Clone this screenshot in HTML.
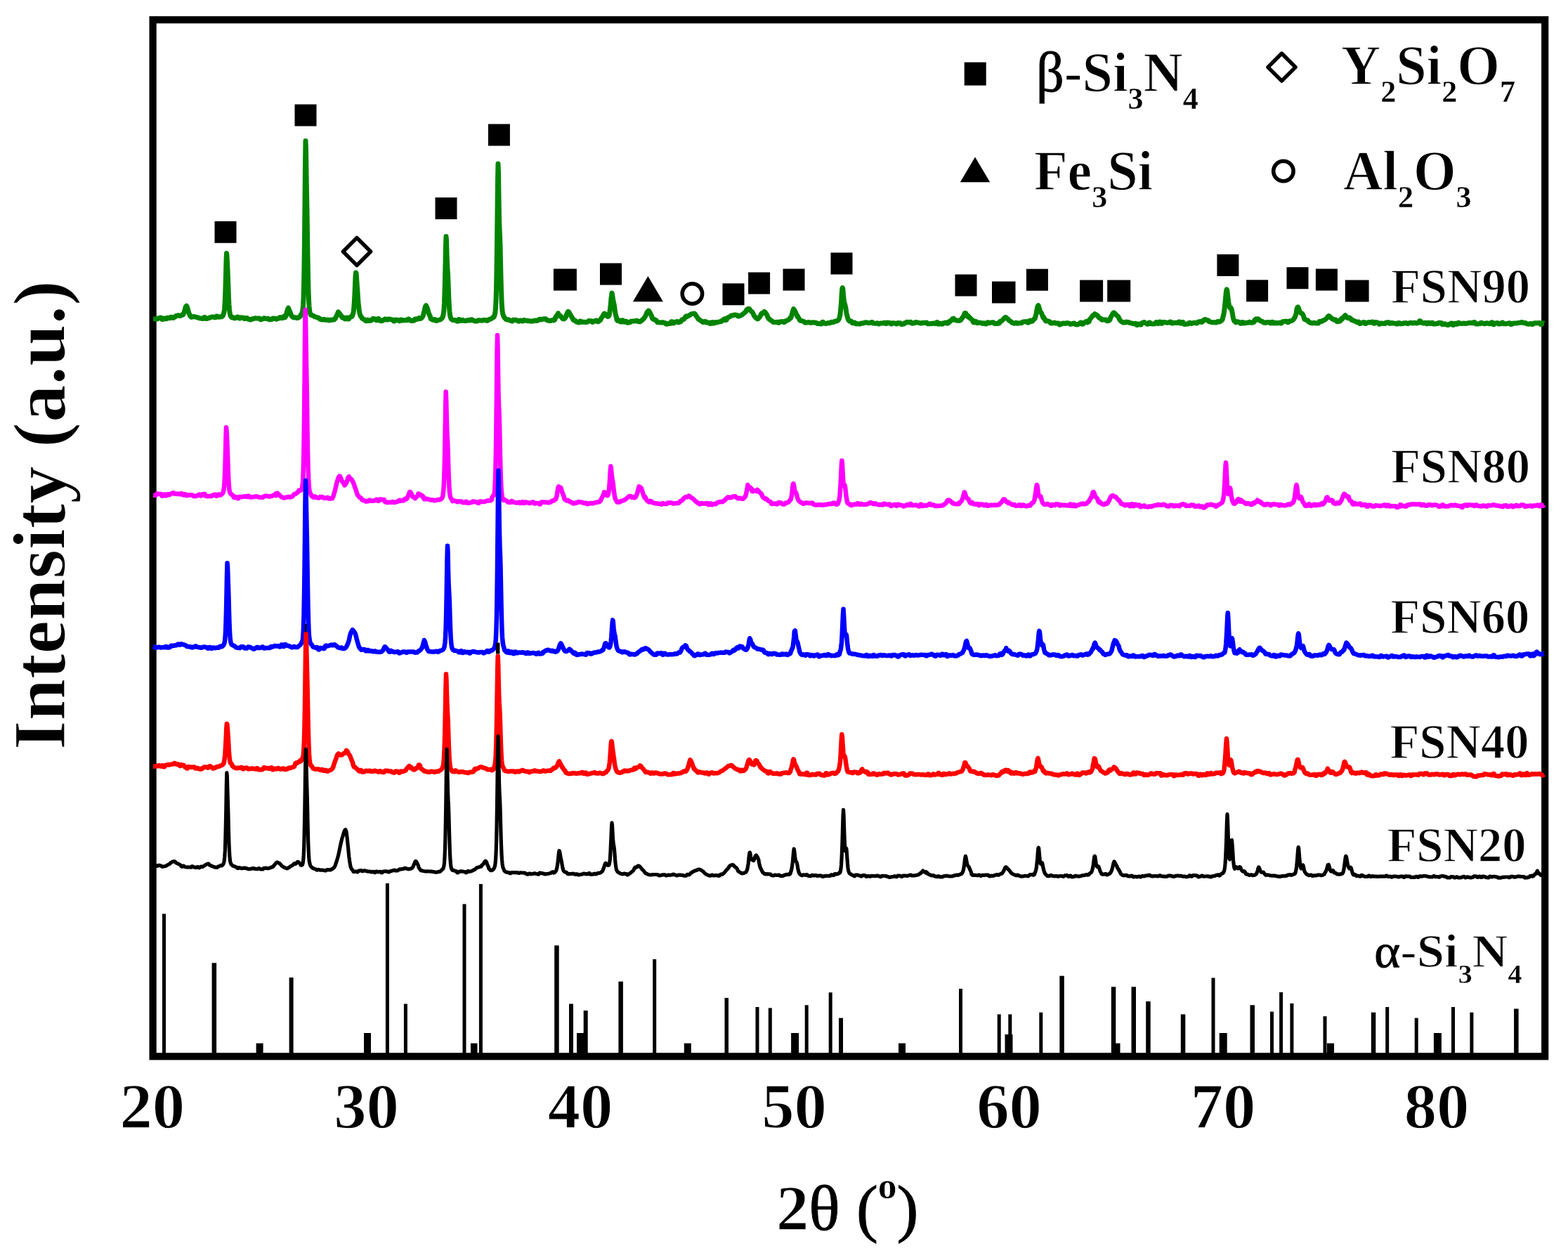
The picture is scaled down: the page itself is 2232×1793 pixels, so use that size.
<!DOCTYPE html>
<html lang="en"><head><meta charset="utf-8"><title>XRD patterns</title>
<style>
html,body{margin:0;padding:0;background:#fff;}
body{width:2232px;height:1793px;overflow:hidden;}
svg{display:block;}
text{font-family:"Liberation Serif","DejaVu Serif",serif;font-weight:bold;fill:#000;stroke:#fff;stroke-width:1.3px;paint-order:fill stroke;}
.rg{stroke:#000;stroke-width:0.9px;}
.c{fill:none;stroke-linejoin:round;stroke-linecap:butt;}
</style></head>
<body>
<svg width="2232" height="1793" viewBox="0 0 2232 1793">
<rect x="0" y="0" width="2232" height="1793" fill="#fff"/>
<rect x="217.6" y="28.2" width="1981.6" height="1475.1" fill="none" stroke="#000" stroke-width="10.2"/>
<g fill="#000">
<rect x="231.0" y="1300.4" width="5.0" height="199.6"/><rect x="301.6" y="1370.3" width="6.5" height="129.7"/><rect x="364.6" y="1484.6" width="10.0" height="15.4"/><rect x="411.6" y="1391.0" width="6.0" height="109.0"/><rect x="518.0" y="1470.0" width="10.0" height="30.0"/><rect x="548.9" y="1257.0" width="5.0" height="243.0"/><rect x="574.9" y="1428.5" width="5.0" height="71.5"/><rect x="658.5" y="1286.5" width="5.0" height="213.5"/><rect x="670.0" y="1484.6" width="9.5" height="15.4"/><rect x="681.9" y="1258.0" width="5.0" height="242.0"/><rect x="789.2" y="1345.4" width="6.5" height="154.6"/><rect x="810.0" y="1428.5" width="6.0" height="71.5"/><rect x="821.0" y="1470.0" width="10.0" height="30.0"/><rect x="830.7" y="1438.0" width="6.0" height="62.0"/><rect x="880.4" y="1396.7" width="6.5" height="103.3"/><rect x="929.2" y="1365.0" width="5.0" height="135.0"/><rect x="973.8" y="1484.6" width="10.0" height="15.4"/><rect x="1031.5" y="1420.0" width="5.5" height="80.0"/><rect x="1075.5" y="1433.0" width="5.0" height="67.0"/><rect x="1093.8" y="1434.4" width="5.0" height="65.6"/><rect x="1126.1" y="1470.0" width="11.0" height="30.0"/><rect x="1145.7" y="1430.3" width="5.0" height="69.7"/><rect x="1179.7" y="1412.3" width="5.0" height="87.7"/><rect x="1194.0" y="1448.6" width="6.0" height="51.4"/><rect x="1279.0" y="1484.6" width="10.0" height="15.4"/><rect x="1365.0" y="1407.0" width="5.0" height="93.0"/><rect x="1419.7" y="1443.4" width="5.0" height="56.6"/><rect x="1435.3" y="1443.4" width="5.0" height="56.6"/><rect x="1430.5" y="1472.0" width="11.0" height="28.0"/><rect x="1479.3" y="1440.7" width="5.0" height="59.3"/><rect x="1508.3" y="1388.7" width="6.5" height="111.3"/><rect x="1581.8" y="1404.3" width="6.5" height="95.7"/><rect x="1584.5" y="1484.6" width="10.0" height="15.4"/><rect x="1610.5" y="1404.3" width="6.5" height="95.7"/><rect x="1631.2" y="1425.0" width="6.5" height="75.0"/><rect x="1680.8" y="1443.4" width="6.5" height="56.6"/><rect x="1724.5" y="1391.5" width="5.0" height="108.5"/><rect x="1735.7" y="1470.0" width="11.0" height="30.0"/><rect x="1779.5" y="1430.3" width="6.5" height="69.7"/><rect x="1808.0" y="1439.6" width="5.0" height="60.4"/><rect x="1821.1" y="1412.0" width="5.0" height="88.0"/><rect x="1836.4" y="1427.8" width="5.0" height="72.2"/><rect x="1883.5" y="1446.2" width="5.0" height="53.8"/><rect x="1889.0" y="1484.6" width="10.0" height="15.4"/><rect x="1951.8" y="1440.7" width="6.5" height="59.3"/><rect x="1972.2" y="1433.0" width="5.0" height="67.0"/><rect x="2013.7" y="1448.6" width="5.0" height="51.4"/><rect x="2040.9" y="1470.0" width="11.0" height="30.0"/><rect x="2066.0" y="1433.0" width="5.0" height="67.0"/><rect x="2092.4" y="1440.7" width="5.0" height="59.3"/><rect x="2155.1" y="1435.5" width="6.5" height="64.5"/>
</g>
<path class="c" stroke="#008400" stroke-width="7.0" d="M218 453.8L219.2 453.8L220.5 454L221.8 454L223 454L224.2 454L225.5 452.8L226.8 452.7L228 452L229.2 451.9L230.5 454.4L231.8 454.4L233 453L234.2 453L235.5 453.8L236.8 453.8L238 452.2L239.2 452.2L240.5 452.8L241.8 452.7L243 451.3L244.2 451.3L245.5 452.4L246.8 452.3L248 451.2L249.2 451.1L250.5 449.4L251.8 449.2L253 448.9L254.2 448.7L255.5 449.6L256.8 449.3L257.5 449.1L258 448.7L258.5 448.5L259 448.2L259.5 447.8L260 447.3L260.5 448L261 447.2L261.5 446.2L262 444.9L262.5 443.5L263 441.4L263.5 439.5L264 437.6L264.5 435.9L265 435.7L265.5 435.3L266 436L266.5 437.2L267 438.8L267.5 440.6L268 442.5L268.5 444.1L269 445.5L269.5 446.7L270 447.7L270.5 449.5L271 450.1L271.5 450.6L272 451L272.5 451.3L273 450.5L274.2 451L275.5 450.3L276.8 450.6L278 451L279.2 451.2L280.5 451.7L281.8 451.8L283 452.6L284.2 452.7L285.5 453.1L286.8 453.2L288 453.4L289.2 453.4L290.5 451.5L291.8 451.5L293 453.5L294.2 453.5L295.5 452.9L296.8 452.9L298 452.1L299.2 452.1L300.5 451.2L301.8 451.1L303 451L304.2 450.9L305.5 451.8L306.8 451.7L308 450.1L309.2 450L310.5 451.3L311.8 451L313 451.1L314.2 450.7L315 450.3L315.5 450.7L316 450.4L316.5 450L317 449.5L317.5 448.9L318 447.3L318.5 446L319 443.9L319.5 440.1L320 433.8L320.5 422.7L321 408.8L321.5 390.9L322 371.1L322.5 360.5L323 363.4L323.5 374L324 384.5L324.5 396.8L325 411.2L325.5 424.6L326 433.9L326.5 440.3L327 444.4L327.5 447L328 449.2L328.5 450.2L329 450.9L329.5 451.4L330 451.8L330.5 451.1L331.8 451.7L333 452.6L334.2 452.9L335.5 452L336.8 452.2L338 450.9L339.2 451.1L340.5 452.9L341.8 453L343 451.8L344.2 451.9L345.5 452.1L346.8 452.2L348 453.6L349.2 453.6L350.5 452.5L351.8 452.6L353 454.3L354.2 454.3L355.5 454.9L356.8 455L358 454L359.2 454.1L360.5 453.4L361.8 453.4L363 452.8L364.2 452.9L365.5 452.9L366.8 452.9L368 453L369.2 453L370.5 454.8L371.8 454.8L373 453.9L374.2 453.9L375.5 452.8L376.8 452.8L378 453.5L379.2 453.5L380.5 453.4L381.8 453.3L383 454.8L384.2 454.7L385.5 454.6L386.8 454.6L388 453.1L389.2 453L390.5 453.4L391.8 453.3L393 454.2L394.2 454.1L395.5 453.3L396.8 453.2L398 451.8L399.2 451.6L400.5 452.8L401.8 452.5L402.5 452.3L403 450.9L403.5 450.7L404 450.5L404.5 450.2L405 449.8L405.5 451.9L406 451.3L406.5 450.6L407 449.7L407.5 448.6L408 445.2L408.5 443.7L409 442L409.5 440.3L410 438.9L410.5 438.3L411 440.3L411.5 440.9L412 441.8L412.5 442.9L413 444.3L413.5 445.7L414 447.2L414.5 448.5L415 449.6L415.5 449.6L416 450.3L416.5 450.9L417 451.3L417.5 451.7L418 451.7L418.5 451.8L419.2 452L420.5 451.7L421.8 451.7L423 452.6L424.2 452.3L425.5 451.5L426.8 450.8L427.5 450.2L428 448.4L428.5 447.8L429 447L429.5 446.1L430 444.8L430.5 443.4L431 440.2L431.5 434.7L432 424.8L432.5 407.8L433 379.8L433.5 341.1L434 290.6L434.5 234.7L435 200.5L435.5 213.7L436 246.7L436.5 274.6L437 299.2L437.5 331.7L438 365.2L438.5 393.3L439 413.4L439.5 426.9L440 435.5L440.5 440.9L441 443.9L441.5 445.9L442 447.1L442.5 448.1L443 447.7L444.2 449L445.5 449.1L446.8 449.7L448 450.7L449.2 451L450.5 451.4L451.8 451.6L453 452.5L454.2 452.6L455.5 454.3L456.8 454.3L458 455L459.2 455.1L460.5 454.5L461.8 454.5L463 455.3L464.2 455.3L465.5 455.1L466.8 455L468 455.9L469.2 455.8L470.5 455.2L471.8 455.1L473 455.2L473.5 455.1L474 454.9L474.5 454.8L475 454.5L475.5 454.9L476 454.5L476.5 454.1L477 453.6L477.5 453L478 451.4L478.5 450.6L479 449.8L479.5 448.8L480 447.9L480.5 446.2L481 445.5L481.5 443.8L482 444.9L482.5 445.1L483 445.7L483.5 446.3L484 447L484.5 447.9L485 448.7L485.5 449.4L486 450.2L486.5 450.9L487 451.5L487.5 452L488 451.3L488.5 451.7L489 451.9L489.5 452.1L490.5 453.7L491.8 453.9L493 452.2L494.2 452.1L495.5 454L496.8 453.8L498 451.4L498.5 451.2L499 451L499.5 450.7L500 450.4L500.5 450.7L501 450.1L501.5 449.4L502 448.2L502.5 446.4L503 444.8L503.5 440.7L504 435L504.5 427.4L505 417.8L505.5 404.6L506 393.7L506.5 388L507 388.4L507.5 394.2L508 402.4L508.5 408.4L509 415.4L509.5 423.6L510 431.3L510.5 434.9L511 439.7L511.5 443.3L512 445.8L512.5 447.6L513 449.3L513.5 450.1L514 450.7L514.5 451.1L515.5 453.1L516.8 453.7L518 454.6L519.2 454.9L520.5 456.6L521.8 456.8L523 455.2L524.2 455.4L525.5 456.5L526.8 456.6L528 455.6L529.2 455.7L530.5 453.4L531.8 453.5L533 454.1L534.2 454.1L535.5 455.7L536.8 455.7L538 453.4L539.2 453.5L540.5 456.3L541.8 456.4L543 456.7L544.2 456.7L545.5 455.3L546.8 455.3L548 453.9L549.2 453.9L550.5 455L551.8 455.1L553 454.1L554.2 454.1L555.5 454.6L556.8 454.6L558 455L559.2 455L560.5 457L561.8 457L563 455.1L564.2 455.1L565.5 455.6L566.8 455.6L568 456.8L569.2 456.8L570.5 455L571.8 455L573 456.1L574.2 456.1L575.5 455.7L576.8 455.7L578 455.8L579.2 455.8L580.5 454.2L581.8 454.1L583 455.5L584.2 455.4L585.5 456.6L586.8 456.5L588 456.4L589.2 456.3L590.5 454L591.8 453.9L593 454.5L594.2 454.2L595.5 452.8L596.8 452.5L598 453.6L598.5 453.4L599 453.2L599.5 452.9L600 452.5L600.5 452.1L601 451.5L601.5 450.7L602 449.7L602.5 448.4L603 446.3L603.5 444.6L604 442.6L604.5 440.4L605 438.1L605.5 436L606 435.5L606.5 434.8L607 435.6L607.5 436.7L608 437.7L608.5 439.3L609 441L609.5 442.9L610 444.7L610.5 446L611 447.4L611.5 448.6L612 449.5L612.5 450.3L613 453.4L613.5 453.8L614 454.2L615.5 455.1L616.8 455.4L618 454.4L619.2 454.5L620.5 456.4L621.8 456.5L623 455.6L624.2 455.4L625.5 455.2L626.8 454.7L627.5 454.4L628 453.7L628.5 453.4L629 452.9L629.5 452.4L630 451.6L630.5 449.8L631 448L631.5 445L632 439.8L632.5 431.2L633 416.3L633.5 397.9L634 374.6L634.5 349.5L635 336.5L635.5 342.6L636 359.8L636.5 374.2L637 383.1L637.5 389.8L638 403L638.5 416.5L639 428.3L639.5 437.2L640 443.6L640.5 447.9L641 450.6L641.5 452.3L642 453.3L642.5 454.1L643 454.5L644.2 455.4L645.5 455.3L646.8 455.7L648 455.6L649.2 455.9L650.5 457.1L651.8 457.3L653 454.5L654.2 454.7L655.5 456.3L656.8 456.4L658 455.3L659.2 455.4L660.5 456.4L661.8 456.5L663 456.4L664.2 456.4L665.5 455.6L666.8 455.6L668 456L669.2 456L670.5 454.7L671.8 454.7L673 456L674.2 456L675.5 457L676.8 457L678 457L679.2 457L680.5 455.8L681.8 455.8L683 456L684.2 455.9L685.5 456.2L686.8 456.1L688 455.5L689.2 455.4L690.5 455.7L691.8 455.6L693 456.4L694.2 456.2L695.5 454.7L696.8 454.4L698 454.2L699.2 453.6L700.5 452.7L701 452.3L701.5 451.8L702 451.3L702.5 450.6L703 451.2L703.5 450.2L704 448.8L704.5 446.7L705 443.2L705.5 438.1L706 427.7L706.5 410.8L707 385.3L707.5 350.3L708 304.4L708.5 258.1L709 233L709.5 246.3L710 279.3L710.5 308.2L711 325.6L711.5 335.5L712 349.6L712.5 372.2L713 394.4L713.5 412.8L714 426.5L714.5 436.1L715 442.3L715.5 445.3L716 447.6L716.5 449.1L717 450.1L718 452L719.2 453.1L720.5 454.6L721.8 455.1L723 454.7L724.2 455L725.5 455.9L726.8 456.1L728 456.9L729.2 457.1L730.5 455.3L731.8 455.4L733 455.3L734.2 455.3L735.5 455.9L736.8 456L738 457.1L739.2 457.2L740.5 456.1L741.8 456.1L743 457L744.2 457L745.5 455.6L746.8 455.6L748 456.2L749.2 456.2L750.5 456.6L751.8 456.5L753 456.7L754.2 456.7L755.5 457.2L756.8 457.1L758 457L759.2 456.8L760.5 456.2L761.8 456.1L763 456.6L764.2 456.5L765.5 455.6L766.8 455.5L768 454.3L769.2 454.2L770.5 454.8L771.8 454.7L773 453.9L774.2 453.8L775.5 453.8L776.8 453.7L778 455.4L779.2 455.4L780.5 456.3L781.8 456.2L783 456.5L784.2 456.4L785.5 455.8L786.5 455.6L787 455.5L787.5 455.4L788 456L788.5 455.7L789 455.5L789.5 455.1L790 454.7L790.5 452.1L791 451.5L791.5 450.7L792 449.8L792.5 448.9L793 450L793.5 448.9L794 448L794.5 445.7L795 447.5L795.5 447.6L796 448.1L796.5 448.7L797 449.3L797.5 449.9L798 449.6L798.5 450.4L799 451.1L799.5 451.8L800 452.4L800.5 453.2L801 453.5L801.5 453.8L802 453.9L802.5 453.9L803 453.7L803.8 453.2L804.2 452.8L804.8 452.1L805.3 451.3L805.8 449.4L806.3 448.4L806.8 447.3L807.3 445.9L807.8 444.7L808.3 444.2L808.8 443.3L809.2 443.7L809.8 444.1L810.3 444.8L810.8 446L811.3 446.8L811.8 447.6L812.3 448.7L812.8 449.8L813.3 449.9L813.8 450.9L814.2 451.8L814.8 452.6L815.3 453.3L815.8 455L816.3 455.4L816.8 455.8L818 455.9L819.2 456.3L820.5 458L821.8 458.2L823 458.9L824.2 459.1L825.5 457L826.8 457.2L828 458.3L829.2 458.4L830.5 458.2L831.8 458.3L833 458.4L834.2 458.5L835.5 457.9L836.8 457.9L838 456.6L839.2 456.6L840.5 456.9L841.8 456.8L843 458.4L844.2 458.3L845.5 457L846.8 456.8L848 456.2L849.2 456L850.5 457.8L851.8 457.5L852.5 457.3L853 456.3L853.5 456.1L854 455.9L854.5 455.6L855 455.2L855.5 453.3L856 452.7L856.5 452.1L857 451.3L857.5 450.4L858 450.1L858.5 449L859 447.9L859.5 446.9L860 447L860.5 446.2L861 446.4L861.5 446.8L862 447.2L862.5 447.6L863 448.7L863.5 449.2L864 449.7L864.5 450.1L865 450.5L865.5 450.5L866 450.3L866.5 449.7L867 448.6L867.5 446.9L868 443.5L868.5 440L869 435.6L869.5 430.3L870 424.4L870.5 420.3L871 417L871.5 418.5L872 422L872.5 425.9L873 428.2L873.5 430.6L874 432.8L874.5 435.5L875 438.9L875.5 442.8L876 445.8L876.5 448.4L877 450.4L877.5 452L878 454.9L878.5 455.7L879 456.4L880.5 455.4L881.8 456L883 457.9L884.2 458.2L885.5 455.8L886.8 456L888 458.1L889.2 458.2L890.5 457.2L891.8 457.2L893 459.3L894.2 459.3L895.5 458.8L896.8 458.8L898 457.3L899.2 457.2L900.5 457.1L901.8 457.1L903 456.9L904.2 456.8L905.5 456.4L906.8 456.3L908 457.6L909.2 457.4L910.5 457.8L911.8 457.5L913 456L913.8 455.7L914.2 455.4L914.8 455L915.3 454.6L915.8 454L916.3 453.4L916.8 452.8L917.3 452L917.8 451.2L918.3 450.8L918.8 449.8L919.2 448.8L919.8 447.5L920.3 446.4L920.8 444.8L921.3 444L921.8 443.3L922.3 443.3L922.8 443.5L923.3 442.2L923.8 442.8L924.2 443.4L924.8 444.2L925.3 445.1L925.8 446.3L926.3 447.3L926.8 448.2L927.3 449.3L927.8 450.2L928.3 452.5L928.8 453.2L929.2 453.8L929.8 454.4L930.5 454L931.8 454.9L933 455.4L934.2 455.8L935.5 458.5L936.8 458.8L938 458.7L939.2 458.9L940.5 458.9L941.8 459.1L943 458.7L944.2 458.8L945.5 459.5L946.8 459.6L948 461.1L949.2 461.2L950.5 460.4L951.8 460.4L953 460.3L954.2 460.4L955.5 457.7L956.8 457.7L958 460L959.2 459.9L960.5 458.2L961.8 458.2L963 457.7L964.2 457.5L965.5 458.9L966.8 458.6L968 458L969.2 457.5L970.5 455.1L971.8 454.5L973 454.5L974.2 453.7L975.5 450.9L976.8 449.9L978 450.6L979.2 449.6L980.5 449.3L981.8 448.5L983 447.5L984.2 446.8L985.5 446.7L986.8 446.4L988 446L989.2 446.6L990.5 448.5L991.8 450.8L993 452.2L994.2 454.4L995.5 454.7L996.8 455.8L998 456.8L999.2 457.2L1000.5 458.5L1001.8 458.5L1003 457.4L1004.2 457.4L1005.5 458.9L1006.8 458.9L1008 459L1009.2 458.9L1010.5 460.6L1011.8 460.6L1013 458.7L1014.2 458.6L1015.5 460.1L1016.8 460L1018 458.6L1019.2 458.4L1020.5 458.9L1021.8 458.7L1023 458.1L1024.2 457.8L1025.5 457.8L1026.8 457.4L1028 456L1029.2 455.5L1030.5 454.3L1031.8 453.7L1033 455.7L1034.2 455.1L1035.5 452.2L1036.8 451.6L1038 451.1L1039.2 450.6L1040.5 449.3L1041.8 448.9L1043 448.7L1044.2 448.5L1045.5 448.1L1046.8 448.1L1048 448.3L1049.2 448.4L1050.5 449.9L1051.8 449.9L1053 449.5L1054.2 449.2L1055.5 448.3L1056.8 447.6L1058 446.6L1059.2 445.4L1060.5 444.6L1061.8 443.3L1063 440.4L1064.2 439.7L1065.5 439.4L1066.8 439.7L1068 441.6L1069.2 442.8L1070.5 443.7L1071.8 445.5L1073 448.6L1074.2 450.2L1075.5 451.9L1076.8 452.9L1078 453.9L1079.2 453.8L1080.5 452L1081.8 450.6L1083 447.8L1084.2 445.8L1085.5 446.1L1086.8 444.9L1088 443.5L1089.2 444.4L1090.5 446.1L1091.8 448.3L1093 451.4L1094.2 453.8L1095.5 454.1L1096.8 455.6L1098 456.2L1099.2 456.9L1100.5 458.3L1101.8 458.5L1103 458.5L1104.2 458.6L1105.5 458.3L1106.8 458.2L1108 459.4L1109.2 459.3L1110.5 457.8L1111.8 457.7L1113 457.7L1114.2 457.6L1115.5 458.7L1116.8 458.5L1118 457L1119.2 456.7L1120.5 456L1121.6 455.5L1122.1 455.2L1122.6 454.9L1123 454.8L1123.6 454.1L1124.1 453.5L1124.6 452.7L1125.1 451.8L1125.5 452.8L1126.1 451.3L1126.6 449.9L1127.1 448.3L1127.6 446.6L1128 444.6L1128.6 442.5L1129.1 441.1L1129.6 439.5L1130.1 440.3L1130.5 440.8L1131.1 441.8L1131.6 442.8L1132.1 443.8L1132.6 444.7L1133 445.7L1133.6 446.9L1134.1 448.1L1134.6 449.4L1135.1 450.7L1135.5 449.9L1136.1 451.2L1136.6 452.2L1137.1 453L1137.6 453.7L1138 455L1139.2 456.2L1140.5 456.3L1141.8 456.8L1143 457.2L1144.2 457.5L1145.5 459L1146.8 459.2L1148 458.9L1149.2 459L1150.5 458.5L1151.8 458.6L1153 459.2L1154.2 459.3L1155.5 459L1156.8 459.1L1158 458.8L1159.2 458.9L1160.5 459.2L1161.8 459.2L1163 460.5L1164.2 460.5L1165.5 460.6L1166.8 460.7L1168 460.9L1169.2 460.9L1170.5 458.2L1171.8 458.2L1173 460.3L1174.2 460.3L1175.5 460.4L1176.8 460.3L1178 459.7L1179.2 459.6L1180.5 459.7L1181.8 459.5L1183 458.5L1184.2 458.3L1185.5 458.7L1186.8 458.5L1188 457.4L1189.2 457.1L1190.5 457.1L1191.2 456.9L1191.7 456.6L1192.2 456.3L1192.7 456L1193.2 455.4L1193.7 454.8L1194.2 454L1194.7 452.7L1195.2 450.9L1195.7 448.7L1196.2 445.1L1196.7 440.4L1197.2 434.5L1197.7 427.5L1198.2 418.6L1198.7 411.7L1199.2 409.5L1199.7 410.4L1200.2 415.9L1200.7 421.9L1201.2 426.8L1201.7 430.2L1202.2 432.2L1202.7 433L1203.2 435.3L1203.7 437.2L1204.2 440.3L1204.7 443.9L1205.2 447.2L1205.7 448.6L1206.2 450.9L1206.7 452.7L1207.2 454L1208 455.8L1209.2 457L1210.5 456.7L1211.8 457.1L1213 459.5L1214.2 459.8L1215.5 459L1216.8 459.1L1218 460.8L1219.2 460.9L1220.5 460.7L1221.8 460.8L1223 460.9L1224.2 461L1225.5 460.1L1226.8 460.1L1228 459.9L1229.2 459.9L1230.5 458.9L1231.8 459L1233 458.8L1234.2 458.9L1235.5 459.6L1236.8 459.6L1238 459.3L1239.2 459.3L1240.5 458.5L1241.8 458.5L1243 460.1L1244.2 460.1L1245.5 460.2L1246.8 460.2L1248 459.8L1249.2 459.8L1250.5 461L1251.8 461L1253 460.1L1254.2 460.1L1255.5 460.1L1256.8 460.1L1258 459.3L1259.2 459.3L1260.5 460.5L1261.8 460.5L1263 459.1L1264.2 459.1L1265.5 459.4L1266.8 459.4L1268 461.1L1269.2 461.1L1270.5 459.7L1271.8 459.7L1273 459.9L1274.2 459.9L1275.5 460.9L1276.8 460.9L1278 459.6L1279.2 459.6L1280.5 459.7L1281.8 459.7L1283 461.6L1284.2 461.6L1285.5 461L1286.8 461L1288 459.5L1289.2 459.5L1290.5 458.3L1291.8 458.3L1293 458.7L1294.2 458.7L1295.5 458.3L1296.8 458.3L1298 460.2L1299.2 460.2L1300.5 459.8L1301.8 459.8L1303 458.5L1304.2 458.5L1305.5 459L1306.8 459L1308 459.4L1309.2 459.4L1310.5 460.1L1311.8 460.1L1313 459.3L1314.2 459.3L1315.5 459.4L1316.8 459.4L1318 459.1L1319.2 459.1L1320.5 460.8L1321.8 460.8L1323 460.8L1324.2 460.8L1325.5 460.5L1326.8 460.5L1328 460L1329.2 460L1330.5 460.5L1331.8 460.5L1333 458.7L1334.2 458.6L1335.5 461.2L1336.8 461.1L1338 460.3L1339.2 460.2L1340.5 461.2L1341.8 461.1L1343 459.7L1344.2 459.6L1345.5 459.2L1346.8 459L1348 460.2L1348.6 460.1L1349.1 460L1349.6 459.8L1350.1 459.7L1350.5 457.7L1351.1 457.5L1351.6 457.2L1352.1 457L1352.6 456.6L1353 457L1353.6 456.5L1354.1 456.1L1354.6 455.6L1355.1 455.1L1355.5 454L1356.1 453.5L1356.6 453.9L1357.1 453.2L1357.6 453.3L1358 454.9L1358.6 455.1L1359.1 455.3L1359.6 455.5L1360.1 455.6L1360.5 455.6L1361.1 455.8L1361.6 455.9L1362.1 456.1L1362.6 456.3L1363 456L1363.6 456.2L1364.1 456.3L1364.6 456.4L1365.5 456.3L1366.2 456.1L1366.7 455.9L1367.2 455.7L1367.7 455.3L1368.2 454.3L1368.7 453.8L1369.2 453.1L1369.7 452.4L1370.2 451.5L1370.7 451.5L1371.2 450.5L1371.7 449.4L1372.2 448.3L1372.7 447.3L1373.2 445.8L1373.7 445.5L1374.2 445.4L1374.7 445.8L1375.2 446.3L1375.7 448.3L1376.2 449L1376.7 449.6L1377.2 450.1L1377.7 450.7L1378.2 449.5L1378.7 450.1L1379.2 450.9L1379.7 451.7L1380.2 452.5L1380.7 452.1L1381.2 452.8L1381.7 453.4L1383 454.5L1384.2 455.4L1385.5 458.6L1386.8 459L1388 457.2L1389.2 457.4L1390.5 459.5L1391.8 459.7L1393 459L1394.2 459.1L1395.5 459.3L1396.8 459.4L1398 460.3L1399.2 460.4L1400.5 459.8L1401.8 459.9L1403 461L1404.2 461L1405.5 458.8L1406.8 458.8L1408 459.6L1409.2 459.6L1410.5 459.1L1411.8 459.1L1413 458.8L1414.2 458.7L1415.5 460.5L1416.8 460.4L1418 460.4L1419.2 460.3L1420.5 460.4L1421.8 460.2L1422.5 460L1423 457.7L1423.5 457.5L1424 457.3L1424.5 457L1425 456.7L1425.5 457L1426 456.6L1426.5 456.1L1427 455.6L1427.5 455.1L1428 454.5L1428.5 453.9L1429 453.3L1429.5 452.8L1430 452.4L1430.5 452L1431 451.4L1431.5 451.5L1432 451.8L1432.5 452.2L1433 452.8L1433.5 453.2L1434 453.5L1434.5 453.8L1435 454.1L1435.5 455.1L1436 455.5L1436.5 456L1437 456.4L1437.5 456.8L1438 456.9L1438.5 457.2L1439.2 457.7L1440.5 459.2L1441.8 459.6L1443 460.1L1444.2 460.3L1445.5 459.3L1446.8 459.3L1448 460.3L1449.2 460.3L1450.5 459.8L1451.8 459.8L1453 459.7L1454.2 459.7L1455.5 458.2L1456.8 458.1L1458 457.8L1459.2 457.7L1460.5 457.7L1461.8 457.6L1463 459.2L1464.2 459L1465.5 456.3L1466.8 456L1468 457.6L1469.2 457.1L1469.6 457L1470.1 456.7L1470.5 455.7L1471.1 455.2L1471.6 454.6L1472.1 453.9L1472.6 453.1L1473 453.6L1473.6 452L1474.1 450.4L1474.6 448.5L1475.1 446.3L1475.5 443.4L1476.1 440.3L1476.6 437.8L1477.1 435.8L1477.6 435L1478 434.6L1478.6 436.1L1479.1 437.9L1479.6 439.8L1480.1 441.4L1480.5 442.6L1481.1 443.8L1481.6 444.5L1482.1 445.1L1482.6 445.8L1483 447L1483.6 448.5L1484.1 449.8L1484.6 451.2L1485.1 452.4L1485.5 451L1486.8 453.2L1488 456.2L1489.2 457L1490.5 456.5L1491.8 456.8L1493 457.4L1494.2 457.6L1495.5 459.9L1496.8 460.1L1498 459.7L1499.2 459.8L1500.5 459.1L1501.8 459.2L1503 460L1504.2 460.1L1505.5 460L1506.8 460.1L1508 462L1509.2 462.1L1510.5 460.7L1511.8 460.7L1513 460L1514.2 460L1515.5 460.3L1516.8 460.4L1518 459.7L1519.2 459.6L1520.5 459.9L1521.8 459.9L1523 461.3L1524.2 461.2L1525.5 460.7L1526.8 460.7L1528 460L1529.2 460L1530.5 461.6L1531.8 461.5L1533 462L1534.2 461.9L1535.5 460.8L1536.8 460.7L1538 459L1539.2 458.9L1540.5 461.3L1541.8 461.1L1543 459.1L1544.2 458.9L1545.5 457.6L1546.8 457.3L1548 458.8L1549.2 458.2L1549.9 457.9L1550.4 457.5L1550.9 454.7L1551.4 454.3L1551.8 453.9L1552.4 453.3L1552.9 452.7L1553.4 452L1553.9 451.3L1554.2 450.8L1554.9 449.9L1555.4 449.1L1555.9 449.1L1556.4 448.4L1556.8 448.1L1557.4 448.5L1557.9 447.6L1558.4 446.7L1558.9 446.9L1559.2 447.2L1559.9 447.7L1560.4 448.1L1560.9 448L1561.4 448.4L1561.8 448.6L1562.4 449.1L1562.9 449.5L1563.4 450.9L1563.9 451.4L1564.2 451.8L1564.9 452.4L1565.4 452.9L1566.8 453L1568 454.7L1569.2 455.2L1570.5 454.8L1571.8 454.9L1573 455.1L1574.2 455L1575.5 456.7L1576.8 456.3L1577.2 456.2L1577.7 455.9L1578.2 456.6L1578.7 456.3L1579.2 455.8L1579.7 455.3L1580.2 454.7L1580.7 452L1581.2 451.3L1581.7 450.4L1582.2 449.5L1582.7 448.6L1583.2 447.9L1583.7 446.9L1584.2 446L1584.7 445.3L1585.2 445.5L1585.7 444.9L1586.2 445.2L1586.7 445.8L1587.2 446.4L1587.7 447.1L1588.2 447.3L1588.7 447.9L1589.2 448.4L1589.7 448.8L1590.2 449.3L1590.7 449.5L1591.2 450.1L1591.7 450.8L1592.2 451.5L1592.7 452.2L1593.2 454L1594.2 455.2L1595.5 457L1596.8 457.8L1598 458.7L1599.2 459.1L1600.5 458.8L1601.8 459.1L1603 458.1L1604.2 458.3L1605.5 458.5L1606.8 458.6L1608 459.6L1609.2 459.6L1610.5 459.9L1611.8 460L1613 460.7L1614.2 460.8L1615.5 460.3L1616.8 460.3L1618 462.5L1619.2 462.6L1620.5 461L1621.8 461.1L1623 462L1624.2 462L1625.5 459.6L1626.8 459.6L1628 458.6L1629.2 458.6L1630.5 459.9L1631.8 459.9L1633 461.3L1634.2 461.3L1635.5 459L1636.8 459L1638 460.7L1639.2 460.7L1640.5 460.9L1641.8 460.9L1643 460.7L1644.2 460.7L1645.5 458.5L1646.8 458.5L1648 460.4L1649.2 460.4L1650.5 458L1651.8 458L1653 460.3L1654.2 460.3L1655.5 458.4L1656.8 458.4L1658 458.8L1659.2 458.8L1660.5 459.2L1661.8 459.2L1663 459.1L1664.2 459.1L1665.5 457.9L1666.8 457.9L1668 460L1669.2 460L1670.5 459.4L1671.8 459.4L1673 459.3L1674.2 459.3L1675.5 459.5L1676.8 459.5L1678 457.9L1679.2 457.9L1680.5 460.3L1681.8 460.3L1683 458.6L1684.2 458.6L1685.5 461.4L1686.8 461.4L1688 461.3L1689.2 461.3L1690.5 460.8L1691.8 460.8L1693 459.3L1694.2 459.3L1695.5 460.4L1696.8 460.3L1698 459.5L1699.2 459.5L1700.5 459.3L1701.8 459.2L1703 460L1704.2 459.9L1705.5 457.9L1706.8 457.8L1707.5 457.7L1708 457.9L1708.5 457.8L1709 457.7L1709.5 457.5L1710 457.3L1710.5 458.5L1711 458.2L1711.5 457.9L1712 457.5L1712.5 457.1L1713 455.8L1713.5 455.4L1714 455L1714.5 454.7L1715 455L1715.5 454.5L1716 454.6L1716.5 454.9L1717 455.2L1717.5 455.4L1718 455.4L1718.5 455.6L1719 455.7L1719.5 455.8L1720 455.9L1720.5 457.4L1721 457.5L1721.5 457.6L1722 457.8L1722.5 458L1723 458.1L1724.2 458.5L1725.5 458.7L1726.8 458.8L1728 458.7L1729.2 458.7L1730.5 459L1731.8 458.9L1733 457.7L1734.2 457.4L1735.5 458L1736.8 457.6L1738 456.7L1738.7 456.2L1739.2 455.7L1739.7 455.1L1740.2 454.2L1740.7 451.7L1741.2 450.2L1741.7 448.2L1742.2 445.6L1742.7 442.3L1743.2 438L1743.7 433.4L1744.2 428.2L1744.7 422.6L1745.2 417L1745.7 413.4L1746.2 411.8L1746.7 412.8L1747.2 416.6L1747.7 421.4L1748.2 425.5L1748.7 429.5L1749.2 432.7L1749.7 434.9L1750.2 436.2L1750.7 438.2L1751.2 438.1L1751.7 437.8L1752.2 438.1L1752.7 439.4L1753.2 440.3L1753.7 442.8L1754.2 445.3L1755.5 453.3L1756.8 456.6L1758 457.9L1759.2 458.9L1760.5 457.6L1761.8 457.9L1763 458.3L1764.2 458.5L1765.5 460.2L1766.8 460.3L1768 458.5L1769.2 458.6L1770.5 460.1L1771.8 460.1L1773 459.3L1774.2 459.3L1775.5 459.2L1776.8 459.2L1778 458.3L1779.2 458.3L1780.5 459.3L1781.8 459.2L1782.3 459.1L1782.8 459L1783.3 458.9L1783.8 458.8L1784.2 458.6L1784.8 458.4L1785.3 458.1L1785.8 455.6L1786.3 455.3L1786.8 454.9L1787.3 454.4L1787.8 453.9L1788.3 455.4L1788.8 454.8L1789.2 454.4L1789.8 453.9L1790.3 453.7L1790.8 453.7L1791.3 454L1791.8 454.4L1792.3 454.8L1792.8 455.2L1793.3 456.1L1793.8 456.4L1794.2 456.6L1794.8 456.8L1795.3 456.9L1795.8 457.3L1796.3 457.4L1796.8 457.5L1797.3 457.8L1797.8 458.1L1798.3 458.7L1799.2 459.2L1800.5 459L1801.8 459.4L1803 458.6L1804.2 458.8L1805.5 458.6L1806.8 458.7L1808 459.9L1809.2 459.9L1810.5 458.3L1811.8 458.3L1813 460.1L1814.2 460.1L1815.5 459.2L1816.8 459.2L1818 460L1819.2 460L1820.5 459.3L1821.8 459.2L1823 460.1L1824.2 460L1825.5 457.8L1826.8 457.7L1828 457.4L1829.2 457.3L1830.5 457.3L1831.8 457.2L1833 458.7L1834.2 458.5L1835.5 457L1836.8 456.7L1838 456.7L1839.2 456.2L1839.8 455.8L1840.3 455.5L1840.8 455L1841.3 454.4L1841.8 453.8L1842.3 452.8L1842.8 451.8L1843.3 451.8L1843.8 450.4L1844.2 448.9L1844.8 446.9L1845.3 445L1845.8 440.7L1846.3 438.8L1846.8 437.5L1847.3 438.1L1847.8 437L1848.3 438.2L1848.8 439.7L1849.2 441.1L1849.8 442.8L1850.3 444L1850.8 444.2L1851.3 445L1851.8 445.4L1852.3 445.8L1852.8 446L1853.3 446L1853.8 446.4L1854.2 447L1854.8 448L1855.3 449L1856.8 454.2L1858 454.4L1859.2 455.5L1860.5 455.7L1861.8 456.1L1863 458.3L1864.2 458.5L1865.5 459.5L1866.8 459.6L1868 459.9L1869.2 459.9L1870.5 459.3L1871.8 459.4L1873 460L1874.2 460L1875.5 460L1876.8 460L1878 457.5L1879.2 457.4L1880.5 457.5L1881.8 457.3L1883 456.2L1883.8 455.9L1884.2 455.8L1884.8 455.5L1885.3 455.2L1885.8 455.1L1886.3 454.8L1886.8 454.4L1887.3 453.9L1887.8 453.4L1888.3 453L1888.8 452.4L1889.2 451.9L1889.8 451.2L1890.3 450.6L1890.8 449.9L1891.3 451.3L1891.8 449.7L1892.3 449.9L1892.8 450.2L1893.3 451.2L1893.8 451.6L1894.2 451.9L1894.8 452.3L1895.3 452.5L1895.8 453.6L1896.3 453.7L1896.8 453.9L1897.3 454L1897.8 454.2L1898.3 454.7L1898.8 455L1899.2 455.2L1900.5 454.7L1901.8 455.2L1903 457.6L1904.2 457.8L1905.5 457.3L1906.8 457.1L1907.4 456.9L1907.9 456.7L1908.4 454.4L1908.9 454.1L1909.2 453.8L1909.9 453.3L1910.4 452.8L1910.9 453.8L1911.4 453.1L1911.8 452.6L1912.4 451.7L1912.9 450.9L1913.4 450.4L1913.9 449.7L1914.2 449.3L1914.9 448.7L1915.4 449.1L1915.9 450L1916.4 450.6L1916.8 451L1917.4 451.8L1917.9 452.3L1918.4 451.7L1918.9 452.1L1919.2 452.3L1919.9 452.7L1920.4 452.9L1920.9 452.1L1921.4 452.4L1921.8 452.6L1922.4 453.1L1922.9 453.5L1924.2 455.6L1925.5 455.5L1926.8 456.3L1928 456.8L1929.2 457.1L1930.5 458.3L1931.8 458.5L1933 457.9L1934.2 458L1935.5 460.6L1936.8 460.6L1938 459.4L1939.2 459.5L1940.5 458.4L1941.8 458.4L1943 460.6L1944.2 460.6L1945.5 459.3L1946.8 459.3L1948 458.6L1949.2 458.6L1950.5 459L1951.8 459L1953 458L1954.2 458L1955.5 460.2L1956.8 460.2L1958 458.5L1959.2 458.5L1960.5 459.2L1961.8 459.2L1963 461.2L1964.2 461.2L1965.5 460L1966.8 460L1968 460.3L1969.2 460.3L1970.5 460.5L1971.8 460.5L1973 459L1974.2 459L1975.5 458.7L1976.8 458.7L1978 460.3L1979.2 460.3L1980.5 459.6L1981.8 459.6L1983 460.1L1984.2 460.1L1985.5 460.2L1986.8 460.2L1988 461.1L1989.2 461.1L1990.5 459.4L1991.8 459.4L1993 460.8L1994.2 460.8L1995.5 460.6L1996.8 460.6L1998 459.7L1999.2 459.7L2000.5 459.6L2001.8 459.6L2003 460.6L2004.2 460.6L2005.5 459.7L2006.8 459.7L2008 459.3L2009.2 459.3L2010.5 460L2011.8 460L2013 459.3L2014.2 459.3L2015.5 459.9L2016.8 459.9L2018 459.5L2019.2 459.5L2020.5 456.8L2021.8 456.8L2023 459L2024.2 459L2025.5 459.9L2026.8 459.9L2028 459.2L2029.2 459.2L2030.5 460.8L2031.8 460.8L2033 459.2L2034.2 459.2L2035.5 460.6L2036.8 460.6L2038 459.3L2039.2 459.3L2040.5 461.1L2041.8 461.1L2043 460.8L2044.2 460.8L2045.5 460.5L2046.8 460.5L2048 459.3L2049.2 459.3L2050.5 459.5L2051.8 459.5L2053 461.7L2054.2 461.7L2055.5 460.7L2056.8 460.7L2058 461.7L2059.2 461.7L2060.5 462.5L2061.8 462.5L2063 461.3L2064.2 461.3L2065.5 459.9L2066.8 459.9L2068 462.5L2069.2 462.5L2070.5 460.3L2071.8 460.3L2073 461.3L2074.2 461.3L2075.5 459.2L2076.8 459.2L2078 460.2L2079.2 460.2L2080.5 460.4L2081.8 460.4L2083 460L2084.2 459.9L2085.5 460.4L2086.8 460.4L2088 460L2089.2 460L2090.5 459.5L2091.8 459.5L2093 459.4L2094.2 459.4L2095.5 459.8L2096.8 459.8L2098 458.6L2099.2 458.6L2100.5 460.9L2101.8 460.9L2103 461.1L2104.2 461.1L2105.5 460.6L2106.8 460.6L2108 459.2L2109.2 459.2L2110.5 460.2L2111.8 460.2L2113 460.8L2114.2 460.8L2115.5 459.8L2116.8 459.8L2118 460.3L2119.2 460.3L2120.5 460.8L2121.8 460.8L2123 458.8L2124.2 458.8L2125.5 461.7L2126.8 461.7L2128 460L2129.2 460L2130.5 459.6L2131.8 459.6L2133 461L2134.2 461L2135.5 460.8L2136.8 460.8L2138 459.1L2139.2 459.1L2140.5 460.7L2141.8 460.7L2143 460.7L2144.2 460.7L2145.5 460.3L2146.8 460.3L2148 459.8L2149.2 459.8L2150.5 461.5L2151.8 461.5L2153 460.3L2154.2 460.3L2155.5 459.9L2156.8 459.9L2158 460L2159.2 460L2160.5 459.4L2161.8 459.4L2163 459.2L2164.2 459.2L2165.5 458.5L2166.8 458.5L2168 459.4L2169.2 459.4L2170.5 459.5L2171.8 459.5L2173 460.7L2174.2 460.7L2175.5 461.3L2176.8 461.3L2178 460.6L2179.2 460.6L2180.5 461.6L2181.8 461.6L2183 460.1L2184.2 460.1L2185.5 459.7L2186.8 459.7L2188 459.8L2189.2 459.8L2190.5 459.4L2191.8 459.4L2193 461.7L2194.2 461.7L2195.5 459.8L2196.8 459.8L2198 460.4"/>
<path class="c" stroke="#ff00ff" stroke-width="6.5" d="M218 704.9L219.2 705L220.5 704.8L221.8 704.8L223 702.5L224.2 702.5L225.5 702.9L226.8 702.9L228 702.9L229.2 702.9L230.5 705.7L231.8 705.7L233 703.7L234.2 703.6L235.5 705.4L236.8 705.3L238 703.5L239.2 703.3L240.5 704.3L241.8 703.9L243 702.7L244.2 702.2L245.5 701.7L246.8 701.3L248 702.7L249.2 702.5L250.5 702.8L251.8 703L253 702.6L254.2 703L255.5 702.9L256.8 703.4L258 702.1L259.2 702.5L260.5 704.4L261.8 704.7L263 703.2L264.2 703.4L265.5 705.2L266.8 705.3L268 704.6L269.2 704.6L270.5 704.3L271.8 704.3L273 704.6L274.2 704.7L275.5 706.1L276.8 706.2L278 706L279.2 706L280.5 705.1L281.8 705.1L283 703.8L284.2 703.8L285.5 705.6L286.8 705.6L288 703.3L289.2 703.3L290.5 703.1L291.8 703.1L293 706.1L294.2 706.1L295.5 706.2L296.8 706.2L298 705.9L299.2 705.9L300.5 705.9L301.8 705.9L303 704.6L304.2 704.5L305.5 703.8L306.8 703.7L308 705.8L309.2 705.6L310.5 703.6L311.8 703.4L313 704.8L314 704.4L314.5 704.1L315 703.8L315.5 703.3L316 702.9L316.5 702.4L317 701.8L317.5 701L318 698.9L318.5 696.7L319 692.8L319.5 686.2L320 676L320.5 662L321 643.1L321.5 622L322 608.2L322.5 612L323 622.3L323.5 633.4L324 646.4L324.5 661.7L325 675L325.5 686.3L326 693L326.5 697.3L327 699.9L327.5 701.6L328 702L328.5 702.7L329 703.2L329.5 703.6L330 703.9L330.5 704.5L331.8 705L333 707.9L334.2 708.2L335.5 707.3L336.8 707.5L338 709.2L339.2 709.3L340.5 707L341.8 707.1L343 707.2L344.2 707.3L345.5 706.7L346.8 706.8L348 706.2L349.2 706.3L350.5 707L351.8 707L353 705.7L354.2 705.8L355.5 707.4L356.8 707.4L358 707.4L359.2 707.4L360.5 707L361.8 707L363 706.4L364.2 706.4L365.5 706.6L366.8 706.6L368 707.4L369.2 707.4L370.5 707.8L371.8 707.8L373 707.9L374.2 707.8L375.5 706.4L376.8 706.3L378 705.5L379.2 705.5L380.5 706.2L381.8 706.2L383 706.6L384.2 706.5L385.5 706L386.8 705.9L387.5 705.7L388 705.4L388.5 705.2L389 705.1L389.5 704.9L390 704.6L390.5 704L391 703.7L391.5 703.3L392 702.9L392.5 702.4L393 705.2L393.5 704.7L394 704.2L394.5 703.8L395 701.7L395.5 702.9L396 703L396.5 703.3L397 703.7L397.5 704.1L398 704.8L398.5 705.3L399 705.7L399.5 706.2L400 706.6L400.5 707L401 707.3L401.5 707.6L402 707.8L402.5 708L403 708.2L404.2 708.5L405.5 708L406.8 708.1L408 707.4L409.2 707.4L410.5 707L411.8 706.9L413 707.6L414.2 707.2L415.5 706.8L416.8 706L418 704.1L419.2 703L420.5 703L421.8 702L423 701L424.2 700.4L425.5 697.6L426.6 697.4L427.1 697.2L427.6 697L428 698L428.6 697.5L429.1 696.8L429.6 695.8L430.1 694.2L430.5 691.2L431.1 685L431.6 674.8L432.1 657.2L432.6 628.9L433 597.1L433.6 534.8L434.1 475.9L434.6 440.8L435.1 452.6L435.5 482.6L436.1 519.2L436.6 545.1L437.1 579.6L437.6 616.6L438 639.8L438.6 666.2L439.1 680.5L439.6 689.6L440.1 695.1L440.5 697.9L441.1 700.4L441.6 701.7L442.1 702.7L442.6 703.5L443 705.2L444.2 706.4L445.5 707.2L446.8 707.8L448 706.4L449.2 706.8L450.5 708.1L451.8 708.3L453 708.4L454.2 708.6L455.5 707.1L456.8 707.2L458 707.1L459.2 707.2L460.5 708.7L461.8 708.8L463 708.7L464.2 708.8L465.5 707.9L466.8 707.9L468 709.5L469.2 709.4L470.5 709.7L471.8 709L473 709.3L474.2 707.2L475.5 702.6L476.8 698.4L478 693.1L479.2 687.7L480.5 683.4L481.8 679.7L483 677.6L484.2 678.1L485.5 681.5L486.8 684.8L488 685.9L489.2 687.9L490.5 690.5L491.8 689.1L493 687.3L494.2 684.3L495.5 679.6L496.8 678.3L498 680.4L499.2 681.5L500.5 682.2L501.8 684.7L503 686.9L504.2 690.1L505.5 694.3L506.8 697.5L508 701.9L509.2 704.6L510.5 706L511.8 707.9L513 708.1L514.2 709.2L515.5 711.4L516.8 712L518 712L519.2 712.3L520.5 713.5L521.8 713.6L523 713.2L524.2 713.3L525.5 711.8L526.8 711.8L528 712.8L529.2 712.8L530.5 712.7L531.8 712.7L533 712.2L534.2 712.3L535.5 710.8L536.8 710.8L538 712.8L539.2 712.8L540.5 710.5L541.8 710.5L543 710.9L544.2 710.9L545.5 710.9L546.8 710.9L548 714.1L549.2 714.1L550.5 715.1L551.8 715.1L553 714.7L554.2 714.7L555.5 714.8L556.8 714.8L558 714.2L559.2 714.1L560.5 714.9L561.8 714.9L563 714.4L564.2 714.3L565.5 713.7L566.8 713.6L568 711.9L569.2 711.8L570.5 712.8L571.8 712.6L573 712.6L574.2 712.3L575.2 712.1L575.7 710.2L576.2 710L576.7 709.9L577.2 709.7L577.7 709.4L578.2 710.4L578.7 710L579.2 709.4L579.7 708.7L580.2 707.8L580.7 706.3L581.2 705.1L581.7 703.7L582.2 702.3L582.7 701L583.2 699.9L583.7 699.9L584.2 700.4L584.7 701.1L585.2 701.9L585.7 703.1L586.2 704.1L586.7 705.2L587.2 706.2L587.7 707L588.2 707L588.7 707.4L589.2 707.7L589.7 707.8L590.2 707.8L590.7 709.2L591.2 708.9L591.8 708.4L592.4 707.7L592.9 707L593.4 706.9L593.9 706.2L594.2 705.7L594.9 704.9L595.4 702.5L595.9 703.3L596.4 703.3L596.8 703.3L597.4 703.4L597.9 703.7L598.4 703.5L598.9 704L599.2 704.4L599.9 705.3L600.4 705.9L600.9 705.2L601.4 705.7L601.8 706.1L602.4 706.7L602.9 707.2L603.4 709.8L604.2 710.4L605.5 709.8L606.8 710.3L608 709.8L609.2 710.1L610.5 710.7L611.8 710.9L613 711.5L614.2 711.6L615.5 711.4L616.8 711.4L618 712.3L619.2 712.2L620.5 711.8L621.8 711.6L623 711.2L624.2 711L625.5 711.3L626.7 710.7L627.2 710.4L627.7 710.1L628.2 709.9L628.7 709.4L629.2 708.7L629.7 707.8L630.2 706.5L630.7 702.7L631.2 699L631.7 692.6L632.2 681.6L632.7 664.6L633.2 642.7L633.7 611.8L634.2 578.3L634.7 557.5L635.2 569.1L635.7 590.9L636.2 609.9L636.7 621.3L637.2 629.7L637.7 643.6L638.2 661.9L638.7 677.2L639.2 688.7L639.7 696.9L640.2 702.3L640.7 705.4L641.2 707.4L641.7 708.6L642.2 709.5L642.7 710.1L644.2 713L645.5 712.1L646.8 712.6L648 712.9L649.2 713.1L650.5 714L651.8 714.2L653 713.3L654.2 713.4L655.5 713.5L656.8 713.6L658 715L659.2 715.1L660.5 715.3L661.8 715.3L663 713.8L664.2 713.8L665.5 715.9L666.8 715.9L668 715.6L669.2 715.6L670.5 714.8L671.8 714.8L673 713.5L674.2 713.5L675.5 714.1L676.8 714.1L678 714.8L679.2 714.7L680.5 715.9L681.8 715.8L683 713.5L684.2 713.5L685.5 714.1L686.8 714L688 714.1L689.2 714L690.5 713.5L691.8 713.4L693 712.6L694.2 712.3L695.5 712.6L696.8 712.2L698 712.4L699.2 711.7L700 711L700.5 707.6L701 707L701.5 706.3L702 705.4L702.5 704.4L703 704.8L703.5 702.6L704 699.4L704.5 692.6L705 681.7L705.5 663.7L706 636.7L706.5 599.7L707 553.2L707.5 504.2L708 477L708.5 492.8L709 527.8L709.5 557.7L710 576.1L710.5 586.5L711 601.4L711.5 625.4L712 649.6L712.5 669L713 684.2L713.5 694.3L714 700.9L714.5 705L715 707.4L715.5 709.8L716 710.8L716.8 711.9L718 710.9L719.2 711.8L720.5 712.7L721.8 713.1L723 714.6L724.2 714.9L725.5 714.7L726.8 714.9L728 713.1L729.2 713.2L730.5 714.6L731.8 714.7L733 715.1L734.2 715.2L735.5 715.5L736.8 715.5L738 714.8L739.2 714.8L740.5 716L741.8 716L743 714.2L744.2 714.2L745.5 716L746.8 716L748 714.4L749.2 714.5L750.5 715.2L751.8 715.2L753 716L754.2 716.1L755.5 715.2L756.8 715.2L758 714.5L759.2 714.5L760.5 716.5L761.8 716.5L763 715.9L764.2 715.9L765.5 716.2L766.8 716.2L768 717.5L769.2 717.5L770.5 714.6L771.8 714.6L773 714.5L774.2 714.4L775.5 714.8L776.8 714.7L778 714.8L779.2 714.7L780.5 715.4L781.8 715.2L783 714.5L784.2 714.3L785.5 712.9L786.8 712.5L787.3 712.3L787.8 712.1L788.3 712.4L788.8 712.1L789.2 711.7L789.8 711.2L790.3 710.5L790.8 710.8L791.3 709.7L791.8 708.5L792.3 706.7L792.8 704.6L793.3 700.6L793.8 698L794.2 695.6L794.8 693L795.3 692.4L795.8 693.7L796.3 693.5L796.8 693.5L797.3 693.6L797.8 694.1L798.3 693.8L798.8 695.2L799.2 696.8L799.8 699L800.3 701L800.8 701.5L801.3 703.1L801.8 704.4L802.3 705.8L802.8 706.9L803.3 709.5L804.2 710.9L805.5 711.6L806.8 712.5L808 711.7L809.2 712.1L810.5 713.7L811.8 714L813 714.8L814.2 715.1L815.5 716.3L816.8 716.5L818 715.7L819.2 715.9L820.5 715.4L821.8 715.5L823 714.1L824.2 714.2L825.5 714.4L826.8 714.5L828 714.9L829.2 715L830.5 716L831.8 716.1L833 715.7L834.2 715.7L835.5 717.2L836.8 717.1L838 716.6L839.2 716.5L840.5 716.1L841.8 716L843 716.4L844.2 716.3L845.5 715.7L846.8 715.5L848 715L849.2 714.8L850.5 714.8L851.8 714.4L852.5 714.1L853 714.1L853.5 713.8L854 713.4L854.5 712.9L855 712.3L855.5 710.8L856 710L856.5 709.1L857 708L857.5 706.8L858 706.1L858.5 704.7L859 703.4L859.5 702.3L860 700.4L860.5 700.5L861 700.7L861.4 701L861.8 701.3L862.4 701.9L862.9 702.3L863.4 704.3L863.9 704.8L864.2 705.1L864.9 705.2L865.4 704.7L865.9 703.2L866.4 700.6L866.8 698.1L867.4 691.4L867.9 684.6L868.4 676L868.9 668.3L869.4 663.5L869.9 666.5L870.4 672.1L870.9 676.9L871.4 681.2L871.8 683.3L872.4 686.2L872.9 689.3L873.4 694.4L873.9 698.9L874.2 701.6L874.9 705.8L875.4 708.1L875.9 709.8L876.4 711L876.8 711.7L877.4 712.5L878 714.1L879.2 714.8L880.5 714.4L881.8 714.6L883 713.4L884.2 713.3L885.5 712.7L886.8 712.2L888 711.9L889.2 711.2L890.5 710.3L891.8 709.4L893 708.1L894.2 707.3L895.5 706.4L896.8 705.9L898 706.2L899.2 707.9L900.5 707.4L901.6 707.5L902.1 707.5L902.6 707.5L903 708.3L903.6 708.1L904.1 707.8L904.6 707.4L905.1 706.8L905.5 705.8L906.1 704.6L906.6 703.3L907.1 701.8L907.6 700.1L908 698L908.6 695.8L909.1 694.3L909.6 692.4L910.1 693.3L910.5 693.3L911.1 693.3L911.6 693.4L912.1 693.7L912.6 694.2L913 695.4L913.6 696.9L914.1 698.4L914.6 700L915.1 701.6L915.5 703L916.1 704.8L916.6 706L917.1 707.2L917.6 708.3L918 706.7L919.2 708.6L920.5 711.8L921.8 712.8L923 713.9L924.2 714.5L925.5 712.8L926.8 713.1L928 714.8L929.2 715.1L930.5 715.7L931.8 715.9L933 716.4L934.2 716.6L935.5 716.5L936.8 716.7L938 717L939.2 717.1L940.5 717.5L941.8 717.7L943 716.1L944.2 716.2L945.5 716.8L946.8 716.9L948 717L949.2 717.1L950.5 715.4L951.8 715.4L953 715.5L954.2 715.5L955.5 715.7L956.8 715.7L958 716.6L959.2 716.6L960.5 716.3L961.8 716.1L963 716.3L964.2 715.9L965.5 716L966.8 715.4L968 713.6L969.2 712.6L970.5 712.4L971.8 711.3L973 709.5L974.2 708.4L975.5 707.6L976.8 706.9L978 707.3L979.2 707.2L980.5 705.6L981.8 706.2L983 707.5L984.2 708.5L985.5 708.8L986.8 709.9L988 711.2L989.2 712.2L990.5 713.7L991.8 714.4L993 715.5L994.2 715.9L995.5 717.2L996.8 717.4L998 716.1L999.2 716.2L1000.5 716.6L1001.8 716.7L1003 716.6L1004.2 716.6L1005.5 716.1L1006.8 716.1L1008 718.3L1009.2 718.3L1010.5 716.6L1011.8 716.6L1013 718.3L1014.2 718.2L1015.5 717.3L1016.8 717.1L1018 717.4L1019.2 717.2L1020.5 715.5L1021.8 715.2L1023 714.5L1024.2 714.2L1025.5 714.2L1026.8 713.8L1028 714.3L1029.2 713.8L1030.5 712.5L1031.8 711.9L1033 710L1034.2 709.4L1035.5 707.9L1036.8 707.3L1038 708.2L1039.2 707.7L1040.5 708.2L1041.8 707.9L1043 706.7L1044.2 706.5L1045.5 706.3L1046.8 706.3L1048 708L1049.2 708.1L1050.5 709.3L1051.8 709.5L1053 708.8L1054.2 709L1055.5 709.7L1056.4 709.8L1056.8 709.8L1057.4 709.8L1057.9 709.7L1058.4 709.1L1058.9 708.8L1059.2 708.5L1059.9 707.6L1060.4 706.7L1060.9 706.8L1061.4 705.2L1061.8 703.9L1062.4 701.1L1062.9 698.5L1063.4 695.7L1063.9 693.4L1064.4 690L1064.9 691.9L1065.4 692.8L1065.9 693.4L1066.4 694.4L1066.8 694.8L1067.4 695.3L1067.9 695.6L1068.4 693.9L1068.9 694.5L1069.2 695L1069.9 695.7L1070.4 696.1L1070.9 699.2L1071.4 699.2L1071.8 699.2L1072.4 699L1073 698.5L1074.2 698.5L1075.5 698.2L1076.8 698.9L1078 697L1079.2 698L1080.5 699.8L1081.8 701.2L1083 701.9L1084.2 703.4L1085.5 707L1086.8 708.4L1088 708.8L1089.2 710.1L1090.5 709.5L1091.8 710.5L1093 712.3L1094.2 713L1095.5 713.5L1096.8 714L1098 716.8L1099.2 717.1L1100.5 716.7L1101.8 716.9L1103 716.5L1104.2 716.6L1105.5 717.3L1106.8 717.3L1108 715.1L1109.2 715.1L1110.5 715.5L1111.8 715.5L1113 717.3L1114.2 717.2L1115.5 717.7L1116.8 717.5L1118 715.6L1119.2 715.4L1120.5 715.3L1121.2 715.1L1121.7 714.9L1122.2 714.7L1122.7 714.4L1123.2 713.4L1123.7 713L1124.2 712.4L1124.7 711.6L1125.2 710.5L1125.7 710.8L1126.2 708.7L1126.7 706L1127.2 702.8L1127.7 699L1128.2 693.2L1128.7 689.5L1129.2 688.3L1129.7 688.6L1130.2 691.3L1130.7 695L1131.2 697.5L1131.7 699.4L1132.2 700.5L1132.7 701.2L1133.2 701.3L1133.7 702.9L1134.2 704.9L1134.7 707L1135.2 708.8L1135.7 709.8L1136.2 711L1136.7 712L1137.2 712.7L1138 713.6L1139.2 714.3L1140.5 715.4L1141.8 715.7L1143 716.7L1144.2 716.9L1145.5 715.7L1146.8 715.8L1148 715.5L1149.2 715.6L1150.5 715.8L1151.8 715.9L1153 715.9L1154.2 716L1155.5 715.8L1156.8 715.8L1158 717.7L1159.2 717.7L1160.5 718.5L1161.8 718.5L1163 718.4L1164.2 718.5L1165.5 718L1166.8 718L1168 718.4L1169.2 718.4L1170.5 718.7L1171.8 718.7L1173 718.3L1174.2 718.3L1175.5 718L1176.8 718L1178 717.5L1179.2 717.4L1180.5 717L1181.8 716.9L1183 717.2L1184.2 717.1L1185.5 715.8L1186.8 715.5L1188 716.9L1189.2 716.6L1190.4 716.1L1190.9 718L1191.4 717.7L1191.8 717.5L1192.4 717.1L1192.9 716.6L1193.4 714.5L1193.9 713.5L1194.2 712.5L1194.9 709.4L1195.4 705.7L1195.9 698.6L1196.4 691.2L1196.8 684.8L1197.4 670.9L1197.9 660.4L1198.4 655.4L1198.9 660.1L1199.2 666.4L1199.9 678.4L1200.4 685.3L1200.9 689.8L1201.4 691.4L1201.8 691.3L1202.4 690.3L1202.9 691.9L1203.4 695.6L1203.9 700.4L1204.2 703.5L1204.9 708.2L1205.4 710.8L1205.9 714.3L1206.4 715.6L1206.8 716.3L1208 716.4L1209.2 717.1L1210.5 718.9L1211.8 719.2L1213 717.9L1214.2 718.1L1215.5 717.8L1216.8 718L1218 717.6L1219.2 717.7L1220.5 716.3L1221.8 716.3L1223 717.9L1224.2 717.9L1225.5 717L1226.8 717L1228 718L1229.2 718L1230.5 717.9L1231.8 717.7L1233 717.8L1234.2 717.5L1235.5 717L1236.8 716.5L1238 715.5L1239.2 715.1L1240.5 716.1L1241.8 716L1243 717L1244.2 717.3L1245.5 716.3L1246.8 716.7L1248 717.4L1249.2 717.8L1250.5 718.2L1251.8 718.4L1253 718L1254.2 718.1L1255.5 718.5L1256.8 718.6L1258 716.8L1259.2 716.8L1260.5 717.4L1261.8 717.4L1263 718L1264.2 718L1265.5 717.6L1266.8 717.6L1268 720L1269.2 720L1270.5 718.7L1271.8 718.7L1273 717.9L1274.2 717.9L1275.5 719.7L1276.8 719.7L1278 717.7L1279.2 717.8L1280.5 718.7L1281.8 718.7L1283 718.9L1284.2 718.9L1285.5 720.4L1286.8 720.4L1288 719.6L1289.2 719.6L1290.5 718.3L1291.8 718.3L1293 719L1294.2 719L1295.5 716.9L1296.8 717L1298 719.2L1299.2 719.2L1300.5 718.9L1301.8 718.9L1303 718.7L1304.2 718.7L1305.5 719.4L1306.8 719.4L1308 720.6L1309.2 720.6L1310.5 717.7L1311.8 717.7L1313 720L1314.2 720L1315.5 719.3L1316.8 719.2L1318 719.6L1319.2 719.6L1320.5 718.5L1321.8 718.5L1323 717.1L1324.2 717L1325.5 718.7L1326.8 718.7L1328 718.6L1329.2 718.5L1330.5 719.9L1331.8 719.8L1333 719.9L1334.2 719.8L1335.5 719.9L1336.8 719.8L1338 719.8L1339.2 719.7L1340.5 719.4L1341.5 719.3L1342 719.1L1342.5 719L1343 718.3L1343.5 718.1L1344 717.8L1344.5 717.6L1345 717.2L1345.5 716.8L1346 716.3L1346.5 715.8L1347 715.3L1347.5 714.7L1348 713L1348.5 712.4L1349 712L1349.5 711.7L1350 711.7L1350.5 711.5L1351 711.8L1351.5 712.1L1352 712.4L1352.5 712.6L1353 713.6L1353.5 713.8L1354 714.1L1354.5 714.3L1355 714.6L1355.5 715.6L1356 716L1356.5 716.3L1357 716.5L1357.5 716.7L1358 716.7L1359.2 717L1360.5 717.2L1361.8 717.2L1363 717.4L1364.2 717.2L1364.7 717.1L1365.2 717L1365.7 715L1366.2 714.9L1366.7 714.6L1367.2 714.3L1367.7 713.9L1368.2 713.6L1368.7 712.9L1369.2 711.9L1369.7 710.6L1370.2 709.1L1370.7 708.3L1371.2 706.2L1371.7 704L1372.2 702.1L1372.7 700.5L1373.2 700.6L1373.7 702.1L1374.2 703.9L1374.7 705.6L1375.2 706.8L1375.7 708.4L1376.2 708.8L1376.7 709.1L1377.2 709.3L1377.7 709.8L1378.2 709.8L1378.7 710.9L1379.2 712L1379.7 713L1380.2 713.8L1380.7 715.1L1381.8 716.1L1383 714.8L1384.2 715.2L1385.5 717.1L1386.8 717.3L1388 717.7L1389.2 717.8L1390.5 717L1391.8 717.1L1393 719.1L1394.2 719.2L1395.5 717.4L1396.8 717.4L1398 717.8L1399.2 717.9L1400.5 719.2L1401.8 719.2L1403 718.1L1404.2 718.1L1405.5 719.8L1406.8 719.8L1408 718.9L1409.2 718.9L1410.5 718.7L1411.8 718.7L1413 719.1L1414.2 719.1L1415.5 718.5L1416.8 718.4L1418 718.9L1419.2 718.7L1420.5 718.5L1421 718.4L1421.5 718.2L1422 718.1L1422.5 717.9L1423 716.7L1423.5 716.4L1424 716L1424.5 715.6L1425 715.2L1425.5 714.7L1426 714.1L1426.5 713.5L1427 712.8L1427.5 712.1L1428 711.1L1428.5 710.6L1429 710.7L1429.5 710.4L1430 710.6L1430.5 711.8L1431 712.3L1431.5 712.7L1432 713L1432.5 713.4L1433 714.3L1433.5 714.6L1434 714.9L1434.5 715.3L1435 715.8L1435.5 714.7L1436 715.1L1436.5 715.5L1437 715.8L1438 716.5L1439.2 717L1440.5 718.4L1441.8 718.6L1443 718L1444.2 718.1L1445.5 719.7L1446.8 719.8L1448 719.6L1449.2 719.6L1450.5 718.2L1451.8 718.3L1453 720.1L1454.2 720.1L1455.5 718.4L1456.8 718.4L1458 719.7L1459.2 719.6L1460.5 720.3L1461.8 720.2L1463 719.4L1464.2 719.2L1465.5 719.7L1466.8 719.4L1468 716.4L1468.5 716.2L1469 716L1469.5 715.8L1470 715.5L1470.5 715.3L1471 714.7L1471.5 713.9L1472 712.8L1472.5 711.2L1473 708.6L1473.5 705.9L1474 702.6L1474.5 698.8L1475 694.7L1475.5 691.6L1476 690L1476.5 691.2L1477 694.4L1477.5 698L1478 702L1478.5 704.3L1479 705.8L1479.5 706.5L1480 706.6L1480.5 706L1481 706L1481.5 706.8L1482 708.4L1482.5 710.2L1483 712.5L1483.5 713.9L1484 715.2L1485.5 717.2L1486.8 718.1L1488 717.7L1489.2 718L1490.5 716.9L1491.8 717.1L1493 718.2L1494.2 718.4L1495.5 719.6L1496.8 719.7L1498 718.1L1499.2 718.2L1500.5 718.9L1501.8 719L1503 717.5L1504.2 717.5L1505.5 717.6L1506.8 717.6L1508 719.4L1509.2 719.5L1510.5 718.5L1511.8 718.6L1513 719L1514.2 719L1515.5 718.7L1516.8 718.7L1518 719.3L1519.2 719.3L1520.5 719.6L1521.8 719.6L1523 717.5L1524.2 717.4L1525.5 720.1L1526.8 720.1L1528 718.1L1529.2 718L1530.5 720.3L1531.8 720.2L1533 719L1534.2 718.9L1535.5 718.3L1536.8 718.2L1538 717.3L1539.2 717.2L1540.5 716.6L1541.8 716.4L1543 717.4L1544.2 717.2L1545.5 717L1546.8 716.6L1548 714.7L1548.7 714.4L1549.2 714.1L1549.7 713.7L1550.2 713.3L1550.7 711.9L1551.2 711.3L1551.7 710.4L1552.2 709.5L1552.7 708.3L1553.2 708.5L1553.7 707.1L1554.2 705.5L1554.7 703.8L1555.2 702.2L1555.7 700.5L1556.2 701.1L1556.7 700.1L1557.2 700.9L1557.7 702.1L1558.2 704.4L1558.7 705.4L1559.2 706.3L1559.7 707L1560.2 707.6L1560.7 708.3L1561.2 708.7L1561.7 709.3L1562.2 710L1562.7 710.9L1563.2 713.1L1563.7 714L1564.2 714.8L1565.5 714.1L1566.8 715.2L1568 717L1569.2 717.5L1570.5 718.1L1571.8 718.1L1573 716.8L1574.2 716.3L1575.5 716.9L1576.8 715.6L1578 713.6L1579.2 711.4L1580.5 708.1L1581.8 706.2L1583 705.4L1584.2 705.1L1585.5 706.2L1586.8 707L1588 706.7L1589.2 708.2L1590.5 709.8L1591.8 711.4L1593 712.1L1594.2 713.5L1595.5 716.2L1596.8 717.2L1598 717.2L1599.2 717.7L1600.5 719.1L1601.8 719.4L1603 718L1604.2 718.1L1605.5 717.9L1606.8 717.9L1608 720.3L1609.2 720.3L1610.5 717.3L1611.8 717.3L1613 720.2L1614.2 720.2L1615.5 717.7L1616.8 717.7L1618 719.2L1619.2 719.2L1620.5 718.6L1621.8 718.6L1623 721.3L1624.2 721.3L1625.5 720.3L1626.8 720.3L1628 719.5L1629.2 719.5L1630.5 721.1L1631.8 721.1L1633 721.4L1634.2 721.4L1635.5 720.6L1636.8 720.6L1638 720.9L1639.2 720.9L1640.5 719.9L1641.8 719.9L1643 719.3L1644.2 719.3L1645.5 719.1L1646.8 719.1L1648 718L1649.2 718L1650.5 718.4L1651.8 718.4L1653 718.7L1654.2 718.7L1655.5 717.8L1656.8 717.8L1658 718.7L1659.2 718.7L1660.5 719.9L1661.8 719.9L1663 720.6L1664.2 720.6L1665.5 719.1L1666.8 719.1L1668 719.1L1669.2 719.1L1670.5 720.3L1671.8 720.3L1673 719.4L1674.2 719.4L1675.5 719.6L1676.8 719.6L1678 720.3L1679.2 720.3L1680.5 718.2L1681.8 718.2L1683 717.2L1684.2 717.2L1685.5 718.1L1686.8 718.1L1688 719.9L1689.2 719.9L1690.5 719.7L1691.8 719.7L1693 719.8L1694.2 719.8L1695.5 718.6L1696.8 718.6L1698 718.8L1699.2 718.8L1700.5 720.8L1701.8 720.8L1703 720.4L1704.2 720.4L1705.5 719.7L1706.8 719.6L1708 721.2L1709.2 721.2L1710.5 720.4L1711.8 720.4L1713 722.6L1714.2 722.5L1715.5 720.8L1716.8 720.8L1718 718.5L1719.2 718.5L1720.5 718.6L1721.8 718.5L1723 717.8L1724.2 717.7L1725.5 718.7L1726.8 718.6L1728 719.2L1729.2 719L1730.5 720.7L1731.8 720.5L1733 719.1L1734.2 718.8L1735.5 717.7L1736.8 717.2L1737.5 716.8L1738 716.4L1738.5 716L1739 715.7L1739.5 715.2L1740 714.5L1740.5 712.9L1741 711.4L1741.5 708.9L1742 705.2L1742.5 699.8L1743 692.2L1743.5 683L1744 672.4L1744.5 662.3L1745 658.2L1745.5 663.7L1746 673.6L1746.5 683.8L1747 692.3L1747.5 698.7L1748 701.4L1748.5 703.2L1749 703L1749.5 701.2L1750 698.2L1750.5 696.1L1751 694.3L1751.5 695.9L1752 699.8L1752.5 704L1753 706.8L1754.2 712.8L1755.4 715L1755.9 716.4L1756.4 716.6L1756.8 716.7L1757.4 716.7L1757.9 716.6L1758.4 715.6L1758.9 715.4L1759.2 715.2L1759.9 714.8L1760.4 714.4L1760.9 711.9L1761.4 711.4L1761.8 711L1762.4 710.4L1762.9 710.1L1763.4 711.7L1763.9 712.5L1764.2 712.7L1764.9 713.2L1765.4 713.6L1765.9 711.4L1766.4 711.8L1766.8 712L1767.4 712.3L1767.9 712.5L1768.4 713.7L1768.9 713.8L1769.2 713.9L1769.9 714.2L1770.4 714.5L1770.9 715.2L1771.4 715.5L1771.8 715.7L1773 716.4L1774.2 716.9L1775.5 716.1L1776.8 716.3L1778 716.6L1779.2 716.7L1780.5 718.2L1781.8 718.1L1782.5 718L1783 716.1L1783.5 715.9L1784 715.8L1784.5 715.5L1785 715.2L1785.5 716.1L1786 715.7L1786.5 715.2L1787 714.7L1787.5 714.2L1788 714.1L1788.5 713.5L1789 712.9L1789.5 712.5L1790 711.7L1790.5 712.7L1791 713L1791.5 713.4L1792 713.9L1792.5 714.3L1793 713.5L1793.5 713.8L1794 714L1794.5 714.2L1795 714.4L1795.5 715.9L1796 716.1L1796.5 716.3L1797 716.6L1797.5 716.9L1798 717.8L1799.2 718.5L1800.5 718L1801.8 718.5L1803 717.1L1804.2 717.3L1805.5 717.4L1806.8 717.5L1808 719.1L1809.2 719.2L1810.5 717.9L1811.8 718L1813 717.3L1814.2 717.3L1815.5 718.1L1816.8 718.1L1818 717.9L1819.2 717.9L1820.5 719.6L1821.8 719.6L1823 718.2L1824.2 718.2L1825.5 719.1L1826.8 719L1828 719.4L1829.2 719.3L1830.5 718.9L1831.8 718.7L1833 717.6L1834.2 717.4L1835.5 718.3L1836.8 717.9L1837.5 717.7L1838 716.5L1838.5 716.3L1839 716.1L1839.5 715.7L1840 715.3L1840.5 715.4L1841 714.6L1841.5 713.5L1842 711.9L1842.5 709.8L1843 706.9L1843.5 703.6L1844 699.7L1844.5 695.5L1845 691.9L1845.5 690L1846 691.8L1846.5 695.3L1847 699.3L1847.5 702.9L1848 705.2L1848.5 707.3L1849 708.6L1849.5 709.2L1850 709.1L1850.5 709.2L1851 708.2L1851.5 707.2L1852 707.1L1852.5 708L1853 709.6L1853.5 711.3L1854.2 713.6L1855.5 715.5L1856.8 716.8L1858 719.7L1859.2 720L1860.5 719.3L1861.8 719.5L1863 717.3L1864.2 717.4L1865.5 719.8L1866.8 719.9L1868 719.1L1869.2 719.1L1870.5 717.8L1871.8 717.8L1873 719.3L1874.2 719.2L1875.5 718.1L1876.8 718L1878 718.5L1879.2 718.4L1880.5 716.7L1881 716.6L1881.5 716.5L1882 716.3L1882.5 716.1L1883 717.6L1883.5 717.3L1884 716.9L1884.5 716.4L1885 715.8L1885.5 714.8L1886 714L1886.5 713L1887 712L1887.5 710.9L1888 708.7L1888.5 707.8L1889 708L1889.5 707.7L1890 708.3L1890.5 709.7L1891 710.5L1891.5 711.3L1892 711.9L1892.5 712.4L1893 711.9L1893.5 712L1894 712.1L1894.5 712L1895 711.9L1895.5 711.5L1896 711.7L1896.5 712L1897 712.4L1898 715.8L1899.2 716.5L1900.5 716.7L1901.8 716.9L1903 715.6L1904.2 715.5L1905 715.3L1905.5 716.5L1906 716.2L1906.5 715.9L1907 715.6L1907.5 715.1L1908 714.4L1908.5 713.7L1909 712.9L1909.5 711.9L1910 710.8L1910.5 709.5L1911 708.1L1911.5 706.7L1912 705.4L1912.5 704.4L1913 703.2L1913.5 702.8L1914 703.1L1914.5 703.6L1915 704.3L1915.5 704.9L1916 705.5L1916.5 706L1917 706.5L1917.5 706.9L1918 706L1918.5 706.2L1919 706.5L1919.5 706.8L1920 707.4L1920.5 710.6L1921 711.5L1921.8 712.8L1923 712.8L1924.2 714.2L1925.5 717.3L1926.8 717.9L1928 715.9L1929.2 716.2L1930.5 717.2L1931.8 717.4L1933 717.2L1934.2 717.4L1935.5 716.5L1936.8 716.7L1938 719L1939.2 719.1L1940.5 718.3L1941.8 718.4L1943 718.1L1944.2 718.2L1945.5 720.7L1946.8 720.8L1948 718.7L1949.2 718.7L1950.5 719.1L1951.8 719.1L1953 720.5L1954.2 720.5L1955.5 720.5L1956.8 720.5L1958 719.3L1959.2 719.3L1960.5 719.6L1961.8 719.6L1963 719.9L1964.2 719.9L1965.5 720L1966.8 720L1968 719.1L1969.2 719.1L1970.5 718.5L1971.8 718.5L1973 720.2L1974.2 720.2L1975.5 718.7L1976.8 718.7L1978 720.6L1979.2 720.6L1980.5 720.3L1981.8 720.3L1983 720.2L1984.2 720.2L1985.5 720.3L1986.8 720.3L1988 722L1989.2 722L1990.5 721.1L1991.8 721.1L1993 718.3L1994.2 718.3L1995.5 720L1996.8 720L1998 720L1999.2 720L2000.5 720.8L2001.8 720.8L2003 718.5L2004.2 718.5L2005.5 718.4L2006.8 718.4L2008 717.5L2009.2 717.5L2010.5 717.5L2011.8 717.5L2013 717.4L2014.2 717.4L2015.5 717.8L2016.8 717.8L2018 717.4L2019.2 717.4L2020.5 717.6L2021.8 717.6L2023 719.1L2024.2 719.1L2025.5 718L2026.8 718L2028 719.4L2029.2 719.4L2030.5 719.6L2031.8 719.6L2033 718.3L2034.2 718.3L2035.5 718.3L2036.8 718.3L2038 719.2L2039.2 719.2L2040.5 718.4L2041.8 718.4L2043 718.5L2044.2 718.5L2045.5 719.2L2046.8 719.2L2048 721.1L2049.2 721.1L2050.5 720.2L2051.8 720.2L2053 718.2L2054.2 718.2L2055.5 720.3L2056.8 720.3L2058 720.6L2059.2 720.6L2060.5 720.6L2061.8 720.6L2063 719.5L2064.2 719.5L2065.5 718.8L2066.8 718.8L2068 719.5L2069.2 719.5L2070.5 718.6L2071.8 718.6L2073 719.4L2074.2 719.4L2075.5 719.8L2076.8 719.8L2078 720.2L2079.2 720.2L2080.5 721.9L2081.8 721.9L2083 719.2L2084.2 719.2L2085.5 718.4L2086.8 718.4L2088 719.7L2089.2 719.7L2090.5 718.2L2091.8 718.2L2093 718.7L2094.2 718.7L2095.5 718.7L2096.8 718.7L2098 719.9L2099.2 719.9L2100.5 718.5L2101.8 718.5L2103 719.6L2104.2 719.6L2105.5 720.2L2106.8 720.2L2108 720.4L2109.2 720.4L2110.5 719.5L2111.8 719.5L2113 719.7L2114.2 719.7L2115.5 720.8L2116.8 720.8L2118 719.2L2119.2 719.2L2120.5 719.4L2121.8 719.4L2123 719.1L2124.2 719.1L2125.5 718.3L2126.8 718.3L2128 719.3L2129.2 719.3L2130.5 719.5L2131.8 719.5L2133 719.8L2134.2 719.8L2135.5 720.6L2136.8 720.6L2138 721.1L2139.2 721.1L2140.5 719.6L2141.8 719.6L2143 719.3L2144.2 719.3L2145.5 721.1L2146.8 721.1L2148 720.4L2149.2 720.4L2150.5 719.4L2151.8 719.4L2153 721.2L2154.2 721.2L2155.5 720.2L2156.8 720.2L2158 718.9L2159.2 718.9L2160.5 720.3L2161.8 720.3L2163 719.7L2164.2 719.7L2165.5 718.6L2166.8 718.6L2168 718.7L2169.2 718.7L2170.5 720.9L2171.8 720.9L2173 720.2L2174.2 720.2L2175.5 719.9L2176.8 719.9L2178 719.6L2179.2 719.6L2180.5 720.6L2181.8 720.6L2183 719.5L2184.2 719.6L2185.5 719.4L2186.8 719.4L2188 718.7L2189.2 718.7L2190.5 720.2L2191.8 720.2L2193 718.3L2194.2 718.3L2195.5 719.7L2196.8 719.7L2198 718.4"/>
<path class="c" stroke="#0000ff" stroke-width="6.5" d="M218 920L219.2 920L220.5 921.9L221.8 921.9L223 921.2L224.2 921.2L225.5 920.7L226.8 920.8L228 921.5L229.2 921.5L230.5 921.3L231.8 921.3L233 921.3L234.2 921.3L235.5 920.1L236.8 920L238 921.6L239.2 921.5L240.5 921.5L241.8 921.2L243 919.1L244.2 918.7L245.5 919.2L246.8 918.7L248 918.8L249.2 918.3L250.5 918.4L251.8 918.1L253 916.7L254.2 916.6L255.5 917.6L256.8 917.7L258 916.3L259.2 916.7L260.5 917L261.8 917.5L263 917.8L264.2 918.3L265.5 919.6L266.8 920.1L268 920.1L269.2 920.5L270.5 920.2L271.8 920.4L273 921.3L274.2 921.5L275.5 920.5L276.8 920.6L278 919.5L279.2 919.6L280.5 920.8L281.8 920.9L283 921.2L284.2 921.2L285.5 921.8L286.8 921.8L288 920.9L289.2 920.9L290.5 920.5L291.8 920.5L293 921.2L294.2 921.2L295.5 922.7L296.8 922.7L298 920.9L299.2 920.9L300.5 922.9L301.8 922.8L303 921.6L304.2 921.5L305.5 922.2L306.8 922.1L308 921.7L309.2 921.5L310.5 921.8L311.8 921.5L313 919.9L314.2 919.5L315.5 920.3L316 920L316.5 919.7L317 919.3L317.5 918.9L318 918L318.5 917.3L319 916.3L319.5 914.9L320 912.4L320.5 907.4L321 899.6L321.5 887.2L322 869.1L322.5 845.2L323 819L323.5 801.2L324 806.5L324.5 821.3L325 835.1L325.5 851L326 870L326.5 886.4L327 898.3L327.5 906.3L328 910.9L328.5 914L329 915.8L329.5 917L330 917.7L330.5 917.5L331 918L331.5 918.3L333 919L334.2 919.4L335.5 921.2L336.8 921.4L338 921.8L339.2 921.9L340.5 922.1L341.8 922.2L343 920.2L344.2 920.2L345.5 920.3L346.8 920.4L348 922.4L349.2 922.4L350.5 922.4L351.8 922.4L353 920.6L354.2 920.6L355.5 921.1L356.8 921.1L358 922.4L359.2 922.4L360.5 923.6L361.8 923.6L363 922.4L364.2 922.4L365.5 920.9L366.8 920.9L368 922.1L369.2 922.1L370.5 921.8L371.8 921.7L373 920.6L374.2 920.6L375.5 922.6L376.8 922.5L378 922L379.2 922L380.5 922L381.8 921.9L383 922.1L384.2 922L385.5 920.2L386.8 920L388 920.5L389.2 920.2L390.5 919.2L391.8 918.9L393 919.5L394.2 919.2L395.5 919.5L396.8 919.3L398 920.4L399.2 920.3L400.5 917.5L401.8 917.6L403 919.9L404.2 920.1L405.5 917.1L406.8 917.3L408 918.6L409.2 918.9L410.5 919L411.8 919.2L413 920.4L414.2 920.6L415.5 921.3L416.8 921.3L418 920.1L419.2 920L420.5 921.1L421.8 920.9L423 921L424.2 920.6L425.5 919.1L426.8 918.3L427.5 917.6L428 916.8L428.5 916.1L429 915.3L429.5 914.3L430 912.9L430.5 912.7L431 909.2L431.5 903.1L432 892.5L432.5 875.1L433 846.6L433.5 810.2L434 764L434.5 714.2L435 683.7L435.5 694.2L436 722.6L436.5 748.3L437 772.1L437.5 802.7L438 836.4L438.5 863.2L439 882.8L439.5 896.3L440 905.2L440.5 908.7L441 912.1L441.5 914.2L442 915.6L442.5 916.6L443 916.5L444.2 917.9L445.5 920.4L446.8 921.1L448 921.3L449.2 921.7L450.5 920.9L451.8 921.1L453 924.3L454.2 924.4L455.5 921.9L456.8 922L458 922.4L459.2 922.3L460.5 923.2L461.8 922.9L463 919L464.2 918.6L465.5 919.4L466.8 918.9L468 918.9L469.2 918.5L470.5 917.9L471.8 917.5L473 918.3L474.2 918.2L475.5 917.2L476.8 917.4L478 918.8L479.2 919.3L480.5 920.9L481.8 921.5L483 921.7L484.2 922.3L485.5 921.4L486.8 921.9L488 923L489.2 923L490.5 923L491.8 922L493 920.5L494.2 918L495.5 915.1L496.8 911.1L498 905L499.2 901L500.5 898.1L501.8 896.3L503 897.4L504.2 899L505.5 901.1L506.8 905.2L508 910.4L509.2 914.6L510.5 919.2L511.8 922.1L513 923.2L514.2 924.6L515.5 924.1L516.8 924.6L518 923.9L519.2 924.1L520.5 926.3L521.8 926.4L523 924.9L524.2 925L525.5 926.5L526.8 926.5L528 926.2L529.2 926.2L530.5 927.2L531.8 927.2L533 926.4L534.2 926.4L535.5 927.6L536.8 927.6L538 927.8L539.2 927.8L539.9 927.7L540.4 927.7L540.9 927.9L541.4 927.8L541.8 927.7L542.4 927.6L542.9 927.4L543.4 927.1L543.9 926.8L544.2 926.5L544.9 925.8L545.4 925.1L545.9 923.7L546.4 922.8L546.8 922.2L547.4 920.7L547.9 921.5L548.4 920.5L548.9 921L549.2 921.3L549.9 922.1L550.4 922.8L550.9 923.4L551.4 924L551.8 924.4L552.4 924.9L552.9 925.2L553.4 927.2L553.9 927.4L554.2 927.5L554.9 927.6L555.4 927.7L556.8 926L558 927L559.2 927.1L560.5 927.9L561.8 928L563 927.7L564.2 927.8L565.5 927.3L566.8 927.3L568 929.4L569.2 929.4L570.5 928.4L571.8 928.4L573 927.5L574.2 927.5L575.5 927.6L576.8 927.6L578 928.7L579.2 928.7L580.5 927.6L581.8 927.5L583 927.5L584.2 927.4L585.5 927.5L586.8 927.4L588 927.7L589.2 927.5L590.5 928.7L591.8 928.6L593 928.6L594.2 928.4L595.5 926.5L596.3 926.3L596.8 926.1L597.3 925.9L597.8 925.7L598.3 924.8L598.8 924.4L599.2 924L599.8 923.2L600.3 922.3L600.8 921.8L601.3 920.4L601.8 918.8L602.3 916.7L602.8 914.6L603.3 912.9L603.8 911L604.2 911.9L604.8 912.8L605.3 913.9L605.8 916.9L606.3 918.2L606.8 919.5L607.3 921.3L607.8 922.9L608.3 923.8L608.8 924.9L609.2 925.6L609.8 926.4L610.3 926.9L610.8 926.7L611.3 927L611.8 927.3L613 927.1L614.2 927.4L615.5 927.4L616.8 927.5L618 927.3L619.2 927.4L620.5 926.8L621.8 926.8L623 927.8L624.2 927.7L625.5 926.2L626.8 925.9L628 925.9L629 925.4L629.5 925.1L630 924.7L630.5 924.4L631 923.8L631.5 923.2L632 922.3L632.5 921L633 917.6L633.5 914.1L634 907.8L634.5 897.1L635 880.5L635.5 856.4L636 826.5L636.5 794L637 776.8L637.5 785.1L638 809.9L638.5 828.4L639 839.5L639.5 847.6L640 861L640.5 878L641 892.9L641.5 904.1L642 912.1L642.5 917.3L643 920.3L643.5 922.3L644 923.5L644.5 924.3L645 924.9L645.5 925.1L646.8 925.9L648 925.7L649.2 926.1L650.5 926.5L651.8 926.8L653 928.2L654.2 928.4L655.5 926.2L656.8 926.3L658 928.9L659.2 928.9L660.5 927.3L661.8 927.3L663 928.3L664.2 928.3L665.5 927.8L666.8 927.9L668 929.4L669.2 929.5L670.5 927.7L671.8 927.8L673 927.1L674.2 927.1L675.5 927.6L676.8 927.6L678 928.2L679.2 928.2L680.5 928.5L681.8 928.5L683 928.1L684.2 928.1L685.5 928.1L686.8 928.1L688 929.4L689.2 929.3L690.5 928L691.8 927.9L693 926.2L694.2 926L695.5 927.7L696.8 927.4L698 925.9L699.2 925.3L700.5 925.6L701.5 924.7L702 924.2L702.5 923.6L703 923.2L703.5 922.3L704 921.1L704.5 919.5L705 916.8L705.5 913.5L706 906.6L706.5 894.7L707 875.1L707.5 845.6L708 805.3L708.5 754.5L709 700.8L709.5 669.6L710 687.2L710.5 726L711 758.7L711.5 778.9L712 790.3L712.5 806.4L713 832.1L713.5 858.5L714 879.8L714.5 895.6L715 906.7L715.5 911.9L716 916.3L716.5 919L717 920.7L717.5 921.9L718 924.9L719.2 926.4L720.5 927.8L721.8 928.5L723 926.3L724.2 926.7L725.5 929.1L726.8 929.3L728 927.5L729.2 927.7L730.5 930.2L731.8 930.3L733 927.4L734.2 927.5L735.5 929.2L736.8 929.3L738 928.5L739.2 928.6L740.5 928.6L741.8 928.7L743 928.3L744.2 928.3L745.5 928.7L746.8 928.8L748 930.1L749.2 930.1L750.5 928.5L751.8 928.5L753 929.9L754.2 929.9L755.5 929.4L756.8 929.4L758 929L759.2 929L760.5 929.5L761.8 929.4L763 930.7L764.2 930.7L765.5 928.9L766.8 928.8L768 930.6L769.2 930.5L770 930.4L770.5 930.3L771 930.2L771.5 930.1L772 930L772.5 929.9L773 928L773.5 927.8L774 927.6L774.5 927.4L775 927.1L775.5 926.6L776 926.3L776.5 926L777 925.6L777.5 925.4L778 925.7L778.5 925.1L779 925.1L779.5 925.2L780 925.3L780.5 924.8L781 925L781.5 925.2L782 925.5L782.5 925.7L783 926L783.5 926.2L784 926.3L784.5 926.5L785 926.6L785.5 925.8L786 925.9L786.8 925.9L788 927.1L789.2 927L789.7 926.9L790.2 926.8L790.7 927.7L791.2 927.6L791.7 927.4L792.2 927.1L792.7 926.8L793.2 926.6L793.7 926.1L794.2 925.3L794.7 924.4L795.2 923.3L795.7 921.3L796.2 919.8L796.7 918.2L797.2 916.9L797.7 916.2L798.2 915.3L798.7 916L799.2 916.9L799.7 917.7L800.2 918.5L800.7 920.3L801.2 921.2L801.7 922.3L802.2 923.3L802.7 924.2L803.2 925.5L803.7 926L804.2 926.4L804.7 926.7L805.2 926.9L805.7 926.8L806.5 926.7L807 926.5L807.5 926.3L808 926L808.5 925.6L809 925.2L809.5 924.7L810 924.4L810.5 923.7L811 924.1L811.5 924.4L812 924.7L812.5 925L813 926.1L813.5 926.5L814 926.9L814.5 927.4L815 927.9L815.5 928.9L816 929.3L816.5 929.6L817 929.9L817.5 930.2L818 928.7L818.5 928.9L819.2 929.1L820.5 931.8L821.8 931.9L823 931.3L824.2 931.4L825.5 930.9L826.8 931L828 930.6L829.2 930.7L830.5 931L831.8 931.1L833 931.6L834.2 931.7L835.5 929.1L836.8 929.1L838 929.4L839.2 929.3L840.5 930.6L841.8 930.6L843 929.5L844.2 929.4L845.5 928.6L846.8 928.5L848 928.5L849.2 928.3L850.5 927.7L851.8 927.4L853 927.5L853.8 927.3L854.2 927.2L854.8 927L855.3 926.8L855.8 926.4L856.3 926.1L856.8 925.7L857.3 925.2L857.8 924.5L858.3 925L858.8 924L859.2 922.9L859.8 921.3L860.3 919.7L860.8 917.6L861.3 916.1L861.8 915.2L862.3 915.2L862.8 915.8L863.3 917.2L863.8 917.9L864.2 918.4L864.7 918.9L865.2 919.5L865.7 920.1L866.2 920.8L866.7 921.4L867.2 921.6L867.7 921.4L868.2 920.4L868.7 918.8L869.2 916.2L869.7 912.3L870.2 907.1L870.7 900L871.2 892.6L871.7 885.5L872.2 882.4L872.7 883.6L873.2 890L873.7 895.1L874.2 899L874.7 901.7L875.2 903.7L875.7 905.7L876.2 909.7L876.7 913.8L877.2 917.4L877.7 920.2L878.2 921.7L878.7 923.4L879.2 924.5L879.7 925.3L880.2 925.9L881.8 926.7L883 927L884.2 927L885.5 928.2L886.8 928.1L888 927.2L889.2 927.2L890.5 928.1L891.8 928.5L893 928.5L894.2 929L895.5 931L896.8 931.5L898 930.6L899.2 930.9L900.5 931L901.8 931.1L903 931.6L904.2 931.5L905.5 930.5L906.8 930.2L908 928.4L909.2 927.8L910.5 926.7L911.8 925.9L913 924.7L914.2 923.7L915.5 924.5L916.8 923.8L918 922.4L919.2 922.3L920.5 923.1L921.8 923.6L923 924.4L924.2 925.3L925.5 927.3L926.8 928.2L928 929.5L929.2 930.1L930.5 931.4L931.8 931.8L933 931.6L934.2 931.8L935.5 929.4L936.8 929.5L938 929.9L939.2 929.9L940.5 929.3L941.8 929.3L943 931.7L944.2 931.7L945.5 929.7L946.8 929.7L948 931.2L949.2 931.3L950.5 931.4L951.8 931.4L953 931.1L954.2 931.2L955.5 931.3L956.8 931.3L958 931.1L959.2 931.1L960.5 930.2L961.8 930.2L963 930.6L964.2 930.3L965.5 929L966.8 928L968 928.5L969.2 926.6L970.5 923L971.8 920.9L973 921L974.2 920L975.5 918.3L976.8 919.1L978 922.6L979.2 924.7L980.5 925.3L981.8 927.2L983 927.5L984.2 928.6L985.5 930.6L986.8 931L988 933L989.2 933.2L990.5 932.1L991.8 932.1L993 930.4L994.2 930.4L995.5 931.9L996.8 932L998 931.4L999.2 931.4L1000.5 931.3L1001.8 931.2L1003 929.8L1004.2 929.7L1005.5 931.7L1006.8 931.7L1008 931.9L1009.2 931.8L1010.5 931.6L1011.8 931.4L1013 930L1014.2 929.7L1015.5 931L1016.8 930.7L1018 929.5L1019.2 929.2L1020.5 929.6L1021.8 929.3L1023 928.9L1024.2 928.8L1025.5 928.6L1026.8 928.7L1028 928.7L1029.2 928.9L1030.5 928.5L1031.8 928.7L1033 927.4L1034.2 927.6L1035.5 928L1036.8 928L1038 929.4L1039.2 929.1L1040.5 928.2L1041.8 927.5L1043 925.8L1044.2 924.8L1045.5 925.6L1046.8 924.5L1048 922.3L1049.2 921.4L1050.5 922.6L1051.8 922.2L1053 919.4L1054.2 919.6L1055.5 919.9L1056.8 920.5L1058 922.7L1059.2 923.4L1059.7 923.6L1060.2 923.9L1060.7 924.4L1061.2 924.6L1061.7 924.7L1062.2 924.7L1062.7 924.6L1063.2 923.8L1063.7 923.1L1064.2 922.1L1064.7 920.5L1065.2 918.3L1065.7 916.6L1066.2 913.4L1066.7 910.3L1067.2 908.2L1067.7 909.8L1068.2 909.7L1068.7 912.1L1069.2 913.9L1069.7 914.9L1070.2 915.2L1070.7 916.2L1071.2 916.6L1071.7 917.7L1072.2 919L1072.7 920.2L1073.2 920.1L1073.7 920.8L1074.2 921.2L1074.7 921.4L1075.2 921.5L1076.8 922.4L1078 923.5L1079.2 923.5L1080.5 923.7L1081.8 924L1083 924.3L1084.2 925L1085.5 924.5L1086.8 925.4L1088 928L1089.2 928.9L1090.5 928.7L1091.8 929.3L1093 930.8L1094.2 931.2L1095.5 929.8L1096.8 930.1L1098 931L1099.2 931.1L1100.5 929.7L1101.8 929.8L1103 929.9L1104.2 929.9L1105.5 931.5L1106.8 931.4L1108 931.7L1109.2 931.6L1110.5 931.8L1111.8 931.8L1113 930.5L1114.2 930.4L1115.5 931.4L1116.8 931.3L1118 930.8L1119.2 930.6L1120.5 932L1121.8 931.7L1123 930.9L1123.8 930.6L1124.2 930.4L1124.8 930.1L1125.3 929.8L1125.8 926.6L1126.3 926L1126.8 925.3L1127.3 924L1127.8 922.2L1128.3 922.1L1128.8 919L1129.2 915.6L1129.8 910.7L1130.3 905.8L1130.8 898.5L1131.3 898.6L1131.8 897.3L1132.3 901L1132.8 904.7L1133.3 909.1L1133.8 911.2L1134.2 912.3L1134.8 913.1L1135.3 914L1135.8 916L1136.3 918.4L1136.8 920.5L1137.3 922.8L1137.8 924.6L1138.3 927.5L1138.8 928.6L1139.2 929.3L1140.5 931.4L1141.8 932L1143 931.2L1144.2 931.5L1145.5 932.6L1146.8 932.7L1148 931.1L1149.2 931.3L1150.5 931.5L1151.8 931.6L1153 933.2L1154.2 933.2L1155.5 932.1L1156.8 932.2L1158 933.4L1159.2 933.5L1160.5 932.2L1161.8 932.2L1163 931.6L1164.2 931.6L1165.5 934.2L1166.8 934.2L1168 933.1L1169.2 933.1L1170.5 932.8L1171.8 932.8L1173 932.1L1174.2 932.1L1175.5 933.1L1176.8 933L1178 931.2L1179.2 931.1L1180.5 932.4L1181.8 932.3L1183 933.2L1184.2 933.1L1185.5 933.1L1186.8 932.9L1188 933.2L1189.2 933L1190.5 931.6L1191.8 931.2L1192.5 930.8L1193 932.3L1193.5 932.1L1194 931.7L1194.5 931.4L1195 930.9L1195.5 927.8L1196 926.8L1196.5 925.2L1197 922.7L1197.5 918.7L1198 913.7L1198.5 905.9L1199 896L1199.5 884.4L1200 873.1L1200.5 866.7L1201 873.7L1201.5 883.6L1202 893.3L1202.5 900.6L1203 902.7L1203.5 904.3L1204 903.8L1204.5 902.9L1205 904.4L1205.5 908.9L1206 914L1206.5 918.5L1207 922.2L1207.5 925L1208 926.9L1208.5 928.3L1209.2 929.5L1210.5 929.5L1211.8 930L1213 930.6L1214.2 930.8L1215.5 930.6L1216.8 930.8L1218 931.1L1219.2 931.2L1220.5 931.9L1221.8 932L1223 932.2L1224.2 932.2L1225.5 932.7L1226.8 932.7L1228 933.3L1229.2 933.3L1230.5 933.3L1231.8 933.4L1233 931.9L1234.2 931.9L1235.5 934.1L1236.8 934.1L1238 933L1239.2 933L1240.5 933.8L1241.8 933.9L1243 932L1244.2 932L1245.5 933.6L1246.8 933.6L1248 933.8L1249.2 933.8L1250.5 932.4L1251.8 932.4L1253 932L1254.2 932.1L1255.5 932.9L1256.8 932.9L1258 932.2L1259.2 932.2L1260.5 933L1261.8 933L1263 933L1264.2 933L1265.5 932.6L1266.8 932.6L1268 933.6L1269.2 933.6L1270.5 932L1271.8 932L1273 932.1L1274.2 932.1L1275.5 933L1276.8 933L1278 934.6L1279.2 934.6L1280.5 932.6L1281.8 932.6L1283 931.6L1284.2 931.6L1285.5 931.2L1286.8 931.2L1288 933.6L1289.2 933.6L1290.5 931.9L1291.8 931.9L1293 931.3L1294.2 931.3L1295.5 932.9L1296.8 932.9L1298 932.3L1299.2 932.3L1300.5 932.7L1301.8 932.7L1303 932L1304.2 932L1305.5 932.6L1306.8 932.6L1308 932.3L1309.2 932.3L1310.5 931.7L1311.8 931.7L1313 931.9L1314.2 931.9L1315.5 931.9L1316.8 931.9L1318 933.2L1319.2 933.3L1320.5 932.1L1321.8 932.1L1323 931.8L1324.2 931.8L1325.5 930.7L1326.8 930.7L1328 931.9L1329.2 931.9L1330.5 933.6L1331.8 933.7L1333 931.8L1334.2 931.8L1335.5 932L1336.8 932L1338 932.8L1339.2 932.8L1340.5 930.7L1341.8 930.7L1343 932.2L1344.2 932.2L1345.5 931.2L1346.8 931.1L1348 934L1349.2 934L1350.5 932.4L1351.8 932.3L1353 932.7L1354.2 932.7L1355.5 932.2L1356.8 932.1L1358 933.4L1359.2 933.2L1360.5 933.5L1361.8 933.4L1363 932.5L1364.2 932.3L1365.5 930.9L1366.8 930.6L1367.5 930.4L1368 930L1368.5 929.8L1369 929.5L1369.5 929.2L1370 928.9L1370.5 927.7L1371 927L1371.5 926.1L1372 924.9L1372.5 923.4L1373 922.5L1373.5 920.3L1374 917.9L1374.5 915.4L1375 913.3L1375.5 912.4L1376 912L1376.5 913.6L1377 915.5L1377.5 917.3L1378 920.5L1378.5 921.5L1379 922.1L1379.5 922.4L1380 922.7L1380.5 922.3L1381 923.4L1381.5 924.6L1382 925.8L1382.5 926.9L1383 929.6L1383.5 930.4L1384.2 931.3L1385.5 931.5L1386.8 932L1388 931.6L1389.2 931.8L1390.5 931.5L1391.8 931.7L1393 932.2L1394.2 932.3L1395.5 933.1L1396.8 933.2L1398 932.4L1399.2 932.5L1400.5 933.1L1401.8 933.1L1403 932.2L1404.2 932.2L1405.5 933.1L1406.8 933L1408 933.9L1409.2 933.9L1410.5 933.8L1411.8 933.8L1413 933.2L1414.2 933.1L1415.5 932.4L1416.8 932.3L1418 933.3L1419.2 933.2L1420.5 933L1421.8 932.8L1423 930.5L1424.2 930.2L1424.8 930L1425.3 929.8L1425.8 932L1426.3 931.7L1426.8 931.3L1427.3 930.9L1427.8 930.3L1428.3 928.8L1428.8 928.1L1429.2 927.3L1429.8 926.4L1430.3 925.5L1430.8 925.7L1431.3 924.8L1431.8 924.1L1432.3 922.1L1432.8 923.7L1433.3 924.7L1433.8 925.2L1434.2 925.8L1434.8 926.4L1435.3 926.9L1435.8 925.6L1436.3 925.9L1436.8 926.3L1437.3 926.7L1437.8 927.3L1438.3 928.5L1438.8 929.1L1439.2 929.6L1439.8 930.2L1440.3 930.6L1441.8 931.2L1443 930.9L1444.2 931.3L1445.5 931.8L1446.8 932L1448 932.6L1449.2 932.7L1450.5 930.7L1451.8 930.8L1453 930.8L1454.2 930.9L1455.5 932.7L1456.8 932.7L1458 932.5L1459.2 932.5L1460.5 933.6L1461.8 933.6L1463 931.7L1464.2 931.6L1465.5 933.4L1466.8 933.3L1468 931.6L1469.2 931.3L1470.5 931.2L1471.4 930.9L1471.8 930.8L1472.4 930.5L1472.9 930.3L1473.4 930.1L1473.9 929.6L1474.2 929.2L1474.9 928.2L1475.4 926.9L1475.9 925.2L1476.4 922.8L1476.8 920.6L1477.4 915.4L1477.9 910.5L1478.4 904.5L1478.9 899.7L1479.4 897.9L1479.9 899.4L1480.4 903.7L1480.9 908.6L1481.4 912.6L1481.8 914.8L1482.4 917.4L1482.9 918.1L1483.4 917.7L1483.9 917.1L1484.2 916.8L1484.9 917.7L1485.4 919.7L1485.9 923.5L1486.4 925.6L1486.8 926.9L1487.4 928.9L1488 928.1L1489.2 929.7L1490.5 930.5L1491.8 930.9L1493 932.3L1494.2 932.5L1495.5 932.2L1496.8 932.3L1498 931.4L1499.2 931.5L1500.5 931.6L1501.8 931.6L1503 932.8L1504.2 932.8L1505.5 931.9L1506.8 931.9L1508 933.8L1509.2 933.9L1510.5 934.3L1511.8 934.3L1513 933.7L1514.2 933.7L1515.5 932.4L1516.8 932.4L1518 931.4L1519.2 931.4L1520.5 933.6L1521.8 933.6L1523 933L1524.2 932.9L1525.5 932.1L1526.8 932.1L1528 933.2L1529.2 933.2L1530.5 932.9L1531.8 932.9L1533 933.7L1534.2 933.6L1535.5 931.9L1536.8 931.8L1538 931.4L1539.2 931.3L1540.5 932.5L1541.8 932.4L1543 931.7L1544.2 931.5L1545.5 930.6L1546.8 930.3L1548 931.7L1549.2 931.3L1550.3 931L1550.8 929.5L1551.3 929.3L1551.8 929.1L1552.3 928.7L1552.8 928.2L1553.3 926.8L1553.8 926.1L1554.2 925.3L1554.8 924.1L1555.3 922.8L1555.8 923.4L1556.3 921.7L1556.8 920L1557.3 917.9L1557.8 916.4L1558.3 915.3L1558.8 914.7L1559.2 915.7L1559.8 917.3L1560.3 918.7L1560.8 920L1561.3 920.9L1561.8 921.5L1562.3 921.9L1562.8 922.1L1563.3 922.4L1563.8 922.8L1564.2 923.4L1564.8 924.3L1565.3 925.2L1565.8 924.3L1566.3 925.1L1566.8 925.6L1568 927.2L1569.2 927.9L1570.5 930.6L1571.8 930.8L1573 931.9L1574.2 931.8L1575.5 931L1576.8 930.8L1578 930.8L1578.7 930.6L1579.2 930.4L1579.7 930.1L1580.2 929.7L1580.7 928.8L1581.2 928.2L1581.7 927.4L1582.2 926.5L1582.7 925.3L1583.2 922.2L1583.7 920.6L1584.2 918.7L1584.7 916.6L1585.2 914.5L1585.7 914.3L1586.2 912.6L1586.7 911L1587.2 911.9L1587.7 912.3L1588.2 911.6L1588.7 912.4L1589.2 913.3L1589.7 914L1590.2 914.7L1590.7 917L1591.2 917.5L1591.7 918L1592.2 918.8L1592.7 920L1593.2 922.4L1593.7 923.9L1594.2 925.3L1594.7 926.6L1595.5 927.2L1596.8 929.3L1598 931.1L1599.2 931.8L1600.5 932.2L1601.8 932.5L1603 932.1L1604.2 932.3L1605.5 934.2L1606.8 934.3L1608 933.4L1609.2 933.5L1610.5 933.9L1611.8 934L1613 932.5L1614.2 932.7L1615.5 934.4L1616.8 934.4L1618 934.2L1619.2 934.3L1620.5 934.1L1621.8 934.2L1623 934L1624.2 934.1L1625.5 932.9L1626.8 932.9L1628 934.9L1629.2 934.9L1630.5 933.8L1631.8 933.8L1633 932.9L1634.2 932.9L1635.5 931.8L1636.8 931.8L1638 932.1L1639.2 932.1L1640.5 932.9L1641.8 932.9L1643 931.1L1644.2 931.1L1645.5 932.6L1646.8 932.6L1648 934L1649.2 934L1650.5 933.3L1651.8 933.3L1653 933.6L1654.2 933.6L1655.5 933L1656.8 933L1658 933.8L1659.2 933.8L1660.5 933.5L1661.8 933.5L1663 932.3L1664.2 932.3L1665.5 931.5L1666.8 931.5L1668 932.9L1669.2 932.9L1670.5 934.4L1671.8 934.4L1673 933.9L1674.2 933.9L1675.5 932.7L1676.8 932.7L1678 933.3L1679.2 933.3L1680.5 931.5L1681.8 931.5L1683 933.3L1684.2 933.3L1685.5 934.3L1686.8 934.3L1688 933.8L1689.2 933.8L1690.5 934.4L1691.8 934.4L1693 932.9L1694.2 932.9L1695.5 935.1L1696.8 935.1L1698 934.1L1699.2 934.1L1700.5 935.1L1701.8 935.1L1703 932.8L1704.2 932.8L1705.5 933.3L1706.8 933.3L1708 933L1709.2 933L1710.5 934.4L1711.8 934.4L1713 935.3L1714.2 935.3L1715.5 933.9L1716.8 933.9L1718 933.8L1719.2 933.8L1720.5 933.9L1721.8 933.9L1723 933.4L1724.2 933.3L1725.5 934.3L1726.8 934.3L1728 933.9L1729.2 933.8L1730.5 932.8L1731.8 932.7L1733 933.6L1734.2 933.4L1735.5 932.1L1736.8 931.8L1738 931.9L1739.2 931.4L1739.8 931.2L1740.3 930.9L1740.8 930.1L1741.3 929.8L1741.8 929.4L1742.3 928.9L1742.8 928.2L1743.3 928.5L1743.8 926.9L1744.2 924.8L1744.8 920.7L1745.3 915.3L1745.8 906.8L1746.3 897.6L1746.8 887.9L1747.3 876.6L1747.8 871.9L1748.3 878.9L1748.8 888.9L1749.2 898.3L1749.8 907.9L1750.3 914.4L1750.8 917.6L1751.3 919.4L1751.8 919.3L1752.3 917.4L1752.8 914.3L1753.3 910.1L1753.8 908.2L1754.2 909.4L1754.8 913.6L1755.3 917.9L1755.8 921.9L1756.8 927L1757.5 929.1L1758 926.9L1758.5 927.4L1759 927.6L1759.5 927.7L1760 927.6L1760.5 929.8L1761 929.6L1761.5 929.3L1762 928.9L1762.5 928.4L1763 925.8L1763.5 925.3L1764 924.7L1764.5 924.3L1765 925.7L1765.5 925.8L1766 926.2L1766.5 926.8L1767 927.3L1767.5 927.8L1768 927.1L1768.5 927.4L1769 927.7L1769.5 927.8L1770 927.9L1770.5 929.1L1771 929.2L1771.5 929.3L1772 929.6L1772.5 929.9L1773 931.2L1774.2 931.9L1775.5 931.7L1776.8 931.9L1778 931.6L1779.2 931.6L1780.5 931.4L1781.8 931.3L1783 932.8L1784.2 932.6L1784.8 932.5L1785.3 932.3L1785.8 931.5L1786.3 931.3L1786.8 931L1787.3 930.6L1787.8 930.2L1788.3 928.9L1788.8 928.3L1789.2 927.6L1789.8 926.8L1790.3 925.9L1790.8 924.7L1791.3 923.7L1791.8 922.9L1792.3 922.1L1792.8 922.1L1793.3 921.8L1793.8 922.3L1794.2 922.9L1794.8 923.8L1795.3 924.5L1795.8 924.7L1796.3 925.2L1796.8 925.6L1797.3 925.9L1797.8 926.1L1798.3 926.9L1798.8 927.1L1799.2 927.4L1799.8 927.8L1800.3 928.3L1800.8 929.9L1801.8 930.8L1803 930.4L1804.2 931.1L1805.5 930.8L1806.8 931.1L1808 932.8L1809.2 932.9L1810.5 933.5L1811.8 933.6L1813 931.9L1814.2 931.9L1815.5 934.4L1816.8 934.4L1818 933L1819.2 933L1820.5 933.6L1821.8 933.6L1823 931.6L1824.2 931.6L1825.5 932.1L1826.8 932.1L1828 932.6L1829.2 932.5L1830.5 932.6L1831.8 932.5L1833 933.3L1834.2 933.2L1835.5 933.5L1836.8 933.3L1838 931.3L1839.2 930.9L1840.2 930.6L1840.7 929.8L1841.2 929.6L1841.7 929.3L1842.2 929L1842.7 928.6L1843.2 927.3L1843.7 926.5L1844.2 925.3L1844.7 923.6L1845.2 921.3L1845.7 920.5L1846.2 916.8L1846.7 912.4L1847.2 907.7L1847.7 903.5L1848.2 901.4L1848.7 902.4L1849.2 906.5L1849.7 911L1850.2 915.1L1850.7 917.8L1851.2 920.1L1851.7 921.6L1852.2 922.1L1852.7 921.9L1853.2 921.8L1853.7 920.6L1854.2 919.4L1854.7 919.1L1855.2 920.1L1855.7 922.8L1856.2 924.8L1856.8 926.7L1858 928.7L1859.2 930.2L1860.5 931.6L1861.8 931.9L1863 931L1864.2 931.1L1865.5 933.6L1866.8 933.7L1868 933.7L1869.2 933.7L1870.5 932.6L1871.8 932.5L1873 932.5L1874.2 932.5L1875.5 932.7L1876.8 932.6L1878 931.6L1879.2 931.4L1880.5 932.3L1881.8 932L1883 930.4L1883.5 930.3L1884 930.1L1884.5 929.9L1885 929.6L1885.5 930.9L1886 930.5L1886.5 930L1887 929.3L1887.5 928.5L1888 927.8L1888.5 926.6L1889 925.3L1889.5 923.8L1890 922.2L1890.5 919.9L1891 918.6L1891.5 917.8L1892 918.4L1892.5 919.5L1893 919.6L1893.5 921L1894 922.1L1894.5 923.1L1895 923.8L1895.5 924.1L1896 924.3L1896.5 924.3L1897 924.2L1897.5 924L1898 923.9L1898.5 924.1L1899 924.7L1899.5 925.3L1900.5 928.7L1901.8 929.9L1903 930.7L1904.2 931L1905.5 931.3L1906.8 931.3L1908 928.5L1908.5 928.3L1909 928.1L1909.5 927.9L1910 927.6L1910.5 927.6L1911 927.1L1911.5 926.4L1912 925.6L1912.5 924.6L1913 925.3L1913.5 924L1914 922.4L1914.5 920.8L1915 919L1915.5 917.5L1916 916.2L1916.5 914.5L1917 915.8L1917.5 916.3L1918 916L1918.5 916.8L1919 917.6L1919.5 918.4L1920 919.1L1920.5 920.7L1921 921.1L1921.5 921.4L1922 921.7L1922.5 921.9L1923 922.7L1923.5 923.4L1924 924.3L1924.5 925.3L1925.5 927.9L1926.8 930L1928 929.8L1929.2 930.7L1930.5 931.1L1931.8 931.5L1933 932.2L1934.2 932.4L1935.5 932.5L1936.8 932.7L1938 932.2L1939.2 932.3L1940.5 931.9L1941.8 932L1943 933.4L1944.2 933.5L1945.5 933.2L1946.8 933.2L1948 933.9L1949.2 934L1950.5 933.7L1951.8 933.8L1953 932.7L1954.2 932.8L1955.5 934.3L1956.8 934.4L1958 934.3L1959.2 934.3L1960.5 934.6L1961.8 934.6L1963 935L1964.2 935L1965.5 933.1L1966.8 933.1L1968 934.5L1969.2 934.5L1970.5 933.9L1971.8 933.9L1973 933.8L1974.2 933.8L1975.5 935.4L1976.8 935.4L1978 934.3L1979.2 934.3L1980.5 933L1981.8 933L1983 934.5L1984.2 934.5L1985.5 934.1L1986.8 934.1L1988 934.5L1989.2 934.5L1990.5 935L1991.8 935L1993 934.9L1994.2 934.9L1995.5 933.5L1996.8 933.5L1998 932.5L1999.2 932.5L2000.5 934.9L2001.8 934.9L2003 933.7L2004.2 933.7L2005.5 933.5L2006.8 933.5L2008 934.9L2009.2 934.9L2010.5 934.3L2011.8 934.3L2013 935.1L2014.2 935.1L2015.5 934.6L2016.8 934.6L2018 934.7L2019.2 934.7L2020.5 934.9L2021.8 934.9L2023 934.1L2024.2 934.1L2025.5 934L2026.8 934L2028 935.6L2029.2 935.6L2030.5 932.7L2031.8 932.7L2033 934.7L2034.2 934.7L2035.5 933.5L2036.8 933.5L2038 934.4L2039.2 934.4L2040.5 935.7L2041.8 935.7L2043 934.9L2044.2 934.9L2045.5 934.3L2046.8 934.3L2048 933L2049.2 933L2050.5 933.3L2051.8 933.3L2053 935.4L2054.2 935.4L2055.5 933.6L2056.8 933.6L2058 933L2059.2 933L2060.5 932L2061.8 932L2063 933.5L2064.2 933.5L2065.5 933.7L2066.8 933.7L2068 935.2L2069.2 935.2L2070.5 934.3L2071.8 934.3L2073 935.3L2074.2 935.3L2075.5 934.1L2076.8 934.1L2078 932.7L2079.2 932.7L2080.5 933.4L2081.8 933.4L2083 934.4L2084.2 934.4L2085.5 933.6L2086.8 933.6L2088 933.9L2089.2 933.9L2090.5 932.7L2091.8 932.7L2093 933.9L2094.2 933.9L2095.5 934.6L2096.8 934.6L2098 933.5L2099.2 933.5L2100.5 932.5L2101.8 932.5L2103 933.7L2104.2 933.7L2105.5 933.1L2106.8 933.1L2108 933.8L2109.2 933.8L2110.5 933.7L2111.8 933.7L2113 933.6L2114.2 933.6L2115.5 933.4L2116.8 933.4L2118 934.4L2119.2 934.4L2120.5 934.3L2121.8 934.3L2123 934.6L2124.2 934.6L2125.5 932.3L2126.8 932.3L2128 934.7L2129.2 934.7L2130.5 934.9L2131.8 934.9L2133 935.2L2134.2 935.2L2135.5 934.4L2136.8 934.4L2138 934.7L2139.2 934.7L2140.5 933.8L2141.8 933.8L2143 933.9L2144.2 933.9L2145.5 932.8L2146.8 932.8L2148 933.3L2149.2 933.3L2150.5 933.4L2151.8 933.4L2153 932.7L2154.2 932.7L2155.5 933.7L2156.8 933.7L2158 933.9L2159.2 933.9L2160.5 932.8L2161.8 932.8L2163 931.4L2164.2 931.4L2165.5 933.6L2166.8 933.6L2168 931.4L2169.2 931.3L2170.5 931.2L2171.8 931.1L2173 930.5L2174.2 930.4L2175.5 930.5L2176.8 930.4L2178 933.4L2179.2 933.3L2180 933.2L2180.5 930.9L2181 930.8L2181.5 930.7L2182 930.6L2182.5 930.5L2183 933.2L2183.5 933L2184 932.7L2184.5 932.3L2185 931.8L2185.5 930L2186 929.4L2186.5 928.8L2187 928.1L2187.5 927.6L2188 927.8L2188.5 928.4L2189 928.9L2189.5 929.6L2190 930.2L2190.5 930L2191 930.4L2191.5 930.8L2192 931.1L2192.5 931.3L2193 931L2193.5 930.9L2194 930.9L2194.5 930.7L2195 930.6L2195.5 930.1L2196 930.1L2196.8 930.4L2198 930.2"/>
<path class="c" stroke="#ff0000" stroke-width="6.5" d="M218 1090.6L219.2 1090.6L220.5 1090.5L221.8 1090.6L223 1090.3L224.2 1090.3L225.5 1089.2L226.8 1089.3L228 1090.5L229.2 1090.5L230.5 1089.3L231.8 1089.3L233 1091.3L234.2 1091.2L235.5 1088.9L236.8 1088.6L238 1088.4L239.2 1088L240.5 1088.6L241.8 1088L243 1088L244.2 1087.5L245.5 1087.4L246.8 1087.2L248 1085.9L249.2 1086.1L250.5 1087.4L251.8 1087.7L253 1087.3L254.2 1087.7L255.5 1089.5L256.8 1090L258 1088.1L259.2 1088.6L260.5 1088.7L261.8 1089.1L263 1091.4L264.2 1091.7L265.5 1093.2L266.8 1093.5L268 1091L269.2 1091.2L270.5 1091.6L271.8 1091.7L273 1091.5L274.2 1091.6L275.5 1091.5L276.8 1091.6L278 1093.5L279.2 1093.6L280.5 1093.1L281.8 1093.1L283 1094.3L284.2 1094.3L285.5 1094.5L286.8 1094.5L288 1092.9L289.2 1092.9L290.5 1091.6L291.8 1091.6L293 1091.4L294.2 1091.4L295.5 1092.6L296.8 1092.6L298 1090.2L299.2 1090.2L300.5 1091.7L301.8 1091.7L303 1093.6L304.2 1093.5L305.5 1092.7L306.8 1092.6L308 1091.1L309.2 1090.9L310.5 1091L311.8 1090.7L313 1089.9L314.2 1089.5L314.8 1089.3L315.3 1089.1L315.8 1089L316.3 1088.7L316.8 1088.3L317.3 1087.8L317.8 1087.1L318.3 1086.6L318.8 1085.1L319.2 1082.9L319.8 1079L320.3 1073.7L320.8 1066.5L321.3 1057.4L321.8 1047.8L322.3 1035.9L322.8 1030L323.3 1030.3L323.8 1035.5L324.2 1041.2L324.8 1049.7L325.3 1058.7L325.8 1067.6L326.3 1074.4L326.8 1079L327.3 1083.1L327.8 1085.7L328.3 1085.2L328.8 1086.4L329.2 1087.1L329.8 1087.7L330.3 1088.1L330.8 1090.2L331.8 1090.7L333 1091.8L334.2 1092.2L335.5 1093.1L336.8 1093.3L338 1092.8L339.2 1093L340.5 1092.7L341.8 1092.8L343 1091.9L344.2 1092L345.5 1094.2L346.8 1094.3L348 1093L349.2 1093.1L350.5 1092.6L351.8 1092.7L353 1094.2L354.2 1094.2L355.5 1094.1L356.8 1094.1L358 1093.5L359.2 1093.5L360.5 1093.7L361.8 1093.7L363 1094.4L364.2 1094.4L365.5 1093.3L366.8 1093.3L368 1095.2L369.2 1095.2L370.5 1095.2L371.8 1095.3L373 1094.9L374.2 1094.9L375.5 1092.3L376.8 1092.3L378 1093.2L379.2 1093.2L380.5 1093.1L381.8 1093L383 1094L384.2 1093.8L385.5 1092.5L386.8 1092.3L388 1095.2L389.2 1095L390.5 1093.9L391.8 1093.7L393 1094.4L394.2 1094.3L395.5 1093.1L396.8 1093.2L398 1094.3L399.2 1094.5L400.5 1094L401.8 1094.2L403 1093.4L404.2 1093.6L405.5 1094.9L406.8 1094.9L408 1094.5L409.2 1094.3L410.5 1092.9L411.8 1092.6L413 1093L414.2 1092.4L415.5 1092.1L416.8 1091.4L418 1091.4L419.2 1090.6L420.5 1086.2L421.8 1085.3L423 1086L424.2 1085L425.5 1083.8L426.8 1082.8L427.5 1082.2L428 1083.4L428.5 1082.9L429 1081.2L429.5 1081.8L430 1081.3L430.5 1078.7L431 1077.7L431.5 1075.8L432 1071.7L432.5 1064L433 1052.7L433.5 1032.2L434 1003.5L434.5 966.8L435 927.2L435.5 902L436 909.8L436.5 932.7L437 953.4L437.5 972.6L438 997.4L438.5 1023.9L439 1045.6L439.5 1061.5L440 1072.4L440.5 1079.3L441 1083.9L441.5 1086.6L442 1088.4L442.5 1089.5L443 1089.4L443.5 1090.1L444.2 1090.8L445.5 1093.3L446.8 1094L448 1094.4L449.2 1094.7L450.5 1094.4L451.8 1094.6L453 1094.4L454.2 1094.6L455.5 1095.8L456.8 1095.9L458 1094.9L459.2 1095L460.5 1096.7L461.8 1096.8L463 1095.9L464.2 1096L465.5 1097.6L466.8 1097.6L468 1096.6L469.2 1096.4L470.5 1095.7L471.8 1094.9L473 1094L474.2 1091.7L475.5 1087.5L476.8 1083.4L478 1080.7L479.2 1076.8L480.5 1073.6L481.8 1072.4L483 1073.6L484.2 1074.6L485.5 1073.9L486.8 1074.3L488 1073.2L489.2 1072L490.5 1072.1L491.8 1070.7L493 1067.8L494.2 1068.6L495.5 1071.4L496.8 1073.8L498 1075L499.2 1078L500.5 1081.7L501.8 1084.6L503 1089.4L504.2 1091.7L505.5 1091.6L506.8 1093.1L508 1094.2L509.2 1095L510.5 1097.1L511.8 1097.5L513 1096L514.2 1096.1L515.5 1098.4L516.8 1098.5L518 1098.2L519.2 1098.2L520.5 1096.7L521.8 1096.8L523 1097.2L524.2 1097.3L525.5 1096.7L526.8 1096.7L528 1097.8L529.2 1097.8L530.5 1097.5L531.8 1097.6L533 1096.7L534.2 1096.7L535.5 1097.5L536.8 1097.6L538 1098.4L539.2 1098.4L540.5 1097.2L541.8 1097.2L543 1098.5L544.2 1098.5L545.5 1099.1L546.8 1099.1L548 1096.8L549.2 1096.8L550.5 1096.8L551.8 1096.8L553 1097.6L554.2 1097.6L555.5 1097.5L556.8 1097.5L558 1098.9L559.2 1098.9L560.5 1099.5L561.8 1099.4L563 1097.6L564.2 1097.6L565.5 1097.8L566.8 1097.7L568 1099.8L569.2 1099.7L570.5 1097.5L571.8 1097.4L573 1097.9L574.2 1097.7L574.8 1097.6L575.3 1097.5L575.8 1097L576.3 1096.9L576.8 1096.7L577.3 1096.5L577.8 1096.2L578.3 1094.5L578.8 1094.1L579.2 1093.6L579.8 1092.9L580.3 1092.1L580.8 1092.2L581.3 1091.3L581.8 1090.6L582.3 1090L582.8 1090L583.3 1091.3L583.8 1091.7L584.2 1092.1L584.8 1092.7L585.3 1093.3L585.8 1092.1L586.3 1092.7L586.8 1093.2L587.3 1093.7L587.8 1094L588.3 1095.2L588.8 1095.3L589.2 1095.4L589.8 1095.3L590.3 1095.2L590.9 1094.6L591.4 1094.3L591.8 1094L592.4 1093.4L592.9 1092.8L593.4 1093.1L593.9 1092.4L594.2 1091.9L594.9 1091.1L595.4 1090L595.9 1088.4L596.4 1088.4L596.8 1088.5L597.4 1088.8L597.9 1089.2L598.4 1092.4L598.9 1093L599.2 1093.5L599.9 1094.3L600.4 1094.8L600.9 1094.5L601.4 1094.9L601.8 1095.2L602.4 1095.7L602.9 1096L603.4 1097.2L604.2 1097.5L605.5 1097.4L606.8 1097.6L608 1098.5L609.2 1098.6L610.5 1098.7L611.8 1098.7L613 1097.7L614.2 1097.8L615.5 1097.9L616.8 1097.9L618 1098.8L619.2 1098.7L620.5 1097.8L621.8 1097.7L623 1098L624.2 1097.7L625.5 1096.7L626.8 1096.1L627.5 1095.6L628 1095L628.5 1094.6L629 1094L629.5 1093.3L630 1092.4L630.5 1090.9L631 1088.7L631.5 1084.7L632 1078.1L632.5 1067.5L633 1053.5L633.5 1032.2L634 1005.6L634.5 977.6L635 959.2L635.5 968.6L636 987.2L636.5 1003.4L637 1014L637.5 1022.7L638 1036.2L638.5 1051.9L639 1065.6L639.5 1076.1L640 1083.7L640.5 1088.2L641 1091.5L641.5 1093.6L642 1094.9L642.5 1095.8L643 1097L644.2 1098L645.5 1097.8L646.8 1098.3L648 1096.4L649.2 1096.7L650.5 1098.1L651.8 1098.2L653 1098.7L654.2 1098.8L655.5 1098.2L656.8 1098.3L658 1098.2L659.2 1098.3L660.5 1099.1L661.8 1099.2L663 1099.3L664.2 1099.3L665.5 1100L666.8 1099.9L668 1098.9L669.2 1098.7L670.5 1098.8L671.8 1098.4L673 1098.5L674.2 1097.9L675.5 1094.6L676.8 1093.8L678 1094.6L679.2 1093.7L680.5 1093.4L681.8 1092.7L683 1091.6L684.2 1091.3L685.5 1091.7L686.8 1091.8L688 1092.5L689.2 1093L690.5 1092.9L691.8 1093.6L693 1094.6L694.2 1095.3L695.5 1095L696.8 1095.3L698 1094.9L699.2 1094.8L700.5 1096.2L701.2 1095.7L701.7 1095.4L702.2 1094.9L702.7 1094.3L703.2 1092L703.7 1090.9L704.2 1089.3L704.7 1086.7L705.2 1082.2L705.7 1075L706.2 1062.5L706.7 1043.8L707.2 1018.2L707.7 986.4L708.2 953.3L708.7 933.7L709.2 944.6L709.7 968.3L710.2 988.7L710.7 1000.9L711.2 1008.4L711.7 1018.8L712.2 1035.4L712.7 1052L713.2 1065.7L713.7 1075.8L714.2 1082.8L714.7 1087.4L715.2 1090.3L715.7 1090.9L716.2 1092L716.7 1092.8L718 1096.3L719.2 1097L720.5 1097.2L721.8 1097.5L723 1097.9L724.2 1098.1L725.5 1097.5L726.8 1097.6L728 1097.5L729.2 1097.6L730.5 1097.4L731.8 1097.4L733 1098.6L734.2 1098.5L735.5 1097.4L736.8 1097.4L738 1098.2L739.2 1098.2L740.5 1097L741.8 1096.9L743 1096L744.2 1095.9L745.5 1097.1L746.8 1097.1L748 1097.7L749.2 1097.7L750.5 1097.7L751.8 1097.7L753 1099L754.2 1099L755.5 1097.7L756.8 1097.7L758 1097.5L759.2 1097.5L760.5 1096.5L761.8 1096.5L763 1097.4L764.2 1097.4L765.5 1097.6L766.8 1097.6L768 1098L769.2 1097.9L770.5 1097.5L771.8 1097.5L773 1096.5L774.2 1096.4L775.5 1097.5L776.8 1097.4L778 1096.9L779.2 1096.8L780.5 1096.6L781.8 1096.4L783 1096.9L784.2 1096.7L785.5 1094.9L786.8 1094.7L788 1092.9L788.5 1092.8L789 1092.6L789.5 1092.4L790 1092.1L790.5 1092.6L791 1092.3L791.5 1091.8L792 1091.2L792.5 1090.4L793 1089.8L793.5 1088.7L794 1087.5L794.5 1086.1L795 1084.7L795.5 1085.2L796 1083.2L796.5 1084.6L797 1085.3L797.5 1086.1L798 1087.2L798.5 1088.2L799 1089.2L799.5 1090.3L800 1091.6L800.5 1091.4L801 1092.5L801.5 1093.5L802 1094.3L802.5 1095L803 1095.4L803.5 1095.9L804 1096.3L805.5 1099.5L806.8 1100.1L808 1100.6L809.2 1101L810.5 1100.9L811.8 1101L813 1100.6L814.2 1100.7L815.5 1100.1L816.8 1100.2L818 1100.4L819.2 1100.5L820.5 1100.7L821.8 1100.8L823 1100.3L824.2 1100.3L825.5 1100.2L826.8 1100.3L828 1098.9L829.2 1098.9L830.5 1100.9L831.8 1100.9L833 1099.5L834.2 1099.5L835.5 1101.8L836.8 1101.8L838 1101.3L839.2 1101.3L840.5 1100.5L841.8 1100.5L843 1100L844.2 1100L845.5 1099.3L846.8 1099.2L848 1100.6L849.2 1100.5L850.5 1100.4L851.8 1100.4L853 1099.9L854.2 1099.8L855.5 1100.6L856.8 1100.4L858 1101.2L859.2 1100.9L860.5 1099.8L861.8 1099.4L862.4 1099.1L862.9 1098.9L863.4 1097.5L863.9 1097.2L864.2 1096.9L864.9 1096.4L865.4 1095.7L865.9 1094.8L866.4 1093.4L866.8 1092L867.4 1088.3L867.9 1084.3L868.4 1078L868.9 1071.5L869.2 1066.4L869.9 1057.2L870.4 1054.7L870.9 1055.6L871.4 1060.3L871.8 1063.8L872.4 1068.8L872.9 1071.4L873.4 1076L873.9 1078.8L874.2 1081.4L874.9 1086.6L875.4 1090L875.9 1091.6L876.4 1093.8L876.8 1094.9L877.4 1096.5L877.9 1097.3L878.4 1098.4L879.2 1099L880.5 1099.4L881.8 1099.7L883 1099.5L884.2 1099.6L885.5 1098.5L886.8 1098.3L888 1096.9L889.2 1096.5L890.5 1097.3L891.8 1096.8L893 1097.3L894.2 1096.7L895.5 1097L896.8 1096.4L898 1096L899.2 1095.6L900.5 1095.6L901.8 1095.4L903 1092.8L903.4 1093.9L903.9 1093.9L904.2 1093.9L904.9 1093.9L905.4 1093.9L905.9 1092.2L906.4 1092.2L906.8 1092.1L907.4 1092L907.9 1091.8L908.4 1091.8L908.9 1091.5L909.2 1091.3L909.9 1090.8L910.4 1090.4L910.9 1089.5L911.4 1090.3L911.8 1089.6L912.4 1090.2L912.9 1090.8L913.4 1091.8L913.9 1092.4L914.2 1092.8L914.9 1093.5L915.4 1094.2L915.9 1094.6L916.4 1095.3L916.8 1095.7L917.4 1096.4L917.9 1096.8L918.4 1098.3L918.9 1098.7L919.2 1098.9L920.5 1098.5L921.8 1099L923 1099.2L924.2 1099.4L925.5 1100.6L926.8 1100.8L928 1099.5L929.2 1099.6L930.5 1100.5L931.8 1100.5L933 1099.6L934.2 1099.6L935.5 1100.2L936.8 1100.2L938 1101.1L939.2 1101.2L940.5 1101.5L941.8 1101.5L943 1101.3L944.2 1101.3L945.5 1100.6L946.8 1100.6L948 1101.1L949.2 1101.1L950.5 1102.3L951.8 1102.2L953 1102.2L954.2 1102.2L955.5 1102.2L956.8 1102.2L958 1100.1L959.2 1100.1L960.5 1101.4L961.8 1101.3L963 1100.8L964.2 1100.7L965.5 1100.6L966.8 1100.5L968 1100.3L969.2 1100.1L970.5 1099.1L971.8 1098.8L973 1097.7L974.2 1097.3L974.8 1097.1L975.3 1096.9L975.8 1097.9L976.3 1097.6L976.8 1097.2L977.3 1096.5L977.8 1095.8L978.3 1094.5L978.8 1093.4L979.2 1092.1L979.8 1090.3L980.3 1088.4L980.8 1086.8L981.3 1084.7L981.8 1083.1L982.3 1081.4L982.8 1082.1L983.3 1082.1L983.8 1083.4L984.2 1084.4L984.8 1085.6L985.3 1086.6L985.8 1088.7L986.3 1090L986.8 1091.3L987.3 1092.8L987.8 1094.1L988.3 1093.5L988.8 1094.5L989.2 1095.2L989.8 1095.9L990.3 1096.4L991.8 1097.2L993 1099.2L994.2 1099.5L995.5 1098.5L996.8 1098.7L998 1099.3L999.2 1099.4L1000.5 1099.4L1001.8 1099.5L1003 1100.5L1004.2 1100.6L1005.5 1099.5L1006.8 1099.6L1008 1101.6L1009.2 1101.7L1010.5 1100L1011.8 1100L1013 1099.3L1014.2 1099.4L1015.5 1100.5L1016.8 1100.5L1018 1100.2L1019.2 1100.1L1020.5 1100.3L1021.8 1100.1L1023 1099.5L1024.2 1099.1L1025.5 1097.9L1026.8 1097.2L1028 1096.9L1029.2 1096L1030.5 1095L1031.8 1093.9L1033 1093.2L1034.2 1092.2L1035.5 1090.9L1036.8 1090.1L1038 1089.8L1039.2 1089.4L1040.5 1089L1041.8 1089.2L1043 1090.9L1044.2 1091.5L1045.5 1092.9L1046.8 1093.7L1048 1094.2L1049.2 1095L1050.5 1094.9L1051.8 1095.5L1053 1097.1L1054.2 1097.4L1055.5 1095.8L1056.8 1095.8L1058 1097L1058.5 1096.9L1059 1096.6L1059.5 1096.3L1060 1095.9L1060.5 1095.5L1061 1094.9L1061.5 1094.1L1062 1093.1L1062.5 1092L1063 1090.2L1063.5 1088.7L1064 1087.1L1064.5 1085.4L1065 1083.7L1065.5 1082L1066 1081.5L1066.5 1081.1L1067 1081.6L1067.5 1082.3L1068 1084.8L1068.5 1085.5L1069 1086.1L1069.5 1086.7L1070 1087.3L1070.5 1085.3L1071 1085.9L1071.5 1086.4L1072 1086.7L1072.5 1086.7L1073 1088.5L1073.5 1088.1L1074 1087.4L1074.5 1086.5L1075 1085.7L1075.5 1082.4L1076 1083.8L1076.5 1082.2L1077 1082.4L1077.5 1082.8L1078 1085L1078.5 1085.5L1079 1086L1079.5 1086.6L1080 1087.4L1080.5 1087.6L1081 1088.7L1081.5 1089.8L1082 1090.9L1082.5 1091.9L1083 1091.7L1083.5 1092.6L1084 1093.3L1085.5 1094.5L1086.8 1095.4L1088 1096.5L1089.2 1096.9L1090.5 1097.6L1091.8 1097.9L1093 1100.3L1094.2 1100.5L1095.5 1098.1L1096.8 1098.3L1098 1100L1099.2 1100.1L1100.5 1100.8L1101.8 1100.9L1103 1100.8L1104.2 1100.8L1105.5 1100.4L1106.8 1100.5L1108 1101.4L1109.2 1101.4L1110.5 1101.6L1111.8 1101.5L1113 1100.3L1114.2 1100.2L1115.5 1099.9L1116.8 1099.7L1118 1099.6L1119.2 1099.3L1120.5 1100.1L1121.5 1099.8L1122 1099.6L1122.5 1099.4L1123 1099.9L1123.5 1099.6L1124 1099.2L1124.5 1098.7L1125 1098.1L1125.5 1095.4L1126 1094.2L1126.5 1092.8L1127 1090.9L1127.5 1088.7L1128 1086.4L1128.5 1083.8L1129 1081.5L1129.5 1080.4L1130 1080.8L1130.5 1083.4L1131 1085.3L1131.5 1086.9L1132 1088.1L1132.5 1089L1133 1089.6L1133.5 1090.4L1134 1091.6L1134.5 1093L1135 1094.4L1135.5 1095.3L1136 1096.4L1136.5 1097.3L1137 1098L1137.5 1098.6L1138 1101.1L1139.2 1101.8L1140.5 1101.4L1141.8 1101.7L1143 1101.4L1144.2 1101.6L1145.5 1102.1L1146.8 1102.3L1148 1099.7L1149.2 1099.8L1150.5 1103.1L1151.8 1103.1L1153 1102.9L1154.2 1102.9L1155.5 1101.9L1156.8 1101.9L1158 1102.3L1159.2 1102.3L1160.5 1102.6L1161.8 1102.6L1163 1100.9L1164.2 1100.9L1165.5 1100.7L1166.8 1100.7L1168 1102.6L1169.2 1102.6L1170.5 1103.2L1171.8 1103.1L1173 1103.6L1174.2 1103.6L1175.5 1100.3L1176.8 1100.2L1178 1102.5L1179.2 1102.4L1180.5 1101.7L1181.8 1101.6L1183 1100.3L1184.2 1100.1L1185.5 1100.1L1186.8 1099.9L1188 1101.1L1189.2 1100.8L1190.4 1100.3L1190.9 1099.1L1191.4 1098.8L1191.8 1098.6L1192.4 1098.1L1192.9 1097.6L1193.4 1096.1L1193.9 1095.2L1194.2 1094.2L1194.9 1091.3L1195.4 1087.8L1195.9 1084.1L1196.4 1077.5L1196.8 1071.8L1197.4 1059.5L1197.9 1050.3L1198.4 1045.1L1198.9 1048.7L1199.2 1054.1L1199.9 1064.5L1200.4 1070.6L1200.9 1075L1201.4 1076.6L1201.8 1076.6L1202.4 1076.1L1202.9 1077.6L1203.4 1079.6L1203.9 1083.8L1204.2 1086.6L1204.9 1090.8L1205.4 1093.2L1205.9 1096.5L1206.4 1097.8L1206.8 1098.4L1208 1098.4L1209.2 1099L1210.5 1099L1211.8 1099.2L1213 1100L1214.2 1100.1L1215.5 1098.6L1216.8 1098.6L1218 1098.9L1219.2 1098.9L1219.9 1098.9L1220.4 1098.9L1220.9 1100.3L1221.4 1100.2L1221.8 1100.2L1222.4 1100.1L1222.9 1099.9L1223.4 1099.9L1223.9 1099.6L1224.2 1099.4L1224.9 1099L1225.4 1098.5L1225.9 1096.1L1226.4 1095.5L1226.8 1095.1L1227.4 1094.5L1227.9 1096.3L1228.4 1096.4L1228.9 1096.7L1229.2 1097L1229.9 1097.5L1230.4 1097.8L1230.9 1098.3L1231.4 1098.4L1231.8 1098.6L1232.4 1098.9L1232.9 1099.2L1233.4 1098L1233.9 1098.3L1234.2 1098.5L1234.9 1098.8L1235.4 1099L1235.9 1101.7L1236.8 1102L1238 1101.8L1239.2 1101.9L1240.5 1101.7L1241.8 1101.8L1243 1100.5L1244.2 1100.5L1245.5 1101.7L1246.8 1101.7L1248 1102.7L1249.2 1102.7L1250.5 1101.2L1251.8 1101.2L1253 1101.7L1254.2 1101.7L1255.5 1101.6L1256.8 1101.6L1258 1099.9L1259.2 1099.9L1260.5 1100.4L1261.8 1100.4L1263 1099.8L1264.2 1099.8L1265.5 1101.4L1266.8 1101.5L1268 1102.4L1269.2 1102.4L1270.5 1101.4L1271.8 1101.5L1273 1101.1L1274.2 1101.1L1275.5 1101.3L1276.8 1101.3L1278 1102.4L1279.2 1102.4L1280.5 1102L1281.8 1102L1283 1101.1L1284.2 1101.1L1285.5 1100.4L1286.8 1100.4L1288 1103.4L1289.2 1103.4L1290.5 1103.4L1291.8 1103.5L1293 1102.3L1294.2 1102.3L1295.5 1100.4L1296.8 1100.5L1298 1100.7L1299.2 1100.7L1300.5 1102.1L1301.8 1102.1L1303 1102.3L1304.2 1102.3L1305.5 1102.1L1306.8 1102.1L1308 1102.1L1309.2 1102.1L1310.5 1102.5L1311.8 1102.5L1313 1102.2L1314.2 1102.2L1315.5 1102.8L1316.8 1102.8L1318 1102.9L1319.2 1102.9L1320.5 1101.5L1321.8 1101.5L1323 1103.3L1324.2 1103.3L1325.5 1103L1326.8 1103L1328 1101.5L1329.2 1101.5L1330.5 1102.4L1331.8 1102.4L1333 1101.8L1334.2 1101.8L1335.5 1100.1L1336.8 1100.1L1338 1102.3L1339.2 1102.3L1340.5 1102.9L1341.8 1102.9L1343 1101.1L1344.2 1101.1L1345.5 1102.2L1346.8 1102.1L1348 1101.4L1349.2 1101.4L1350.5 1100.6L1351.8 1100.5L1353 1101.5L1354.2 1101.4L1355.5 1101L1356.8 1100.9L1358 1101L1359.2 1100.8L1360.5 1100.5L1361.8 1100.3L1363 1099.1L1364.2 1098.9L1365.5 1098.5L1366.2 1098.3L1366.7 1098.2L1367.2 1098L1367.7 1097.8L1368.2 1098L1368.7 1097.6L1369.2 1097.1L1369.7 1096.5L1370.2 1095.7L1370.7 1094.2L1371.2 1092.9L1371.7 1091.4L1372.2 1089.8L1372.7 1088L1373.2 1085.3L1373.7 1087.3L1374.2 1085.1L1374.7 1086.2L1375.2 1087.6L1375.7 1088.5L1376.2 1089.5L1376.7 1090.2L1377.2 1090.6L1377.7 1090.8L1378.2 1091.7L1378.7 1092.1L1379.2 1092.9L1379.7 1093.7L1380.2 1094.6L1380.7 1096.4L1381.2 1097.1L1381.7 1097.6L1383 1097.5L1384.2 1098L1385.5 1097.7L1386.8 1097.9L1388 1099L1389.2 1099.2L1390.5 1100.5L1391.8 1100.6L1393 1101L1394.2 1101L1395.5 1099.9L1396.8 1100L1398 1101.2L1399.2 1101.3L1400.5 1102.7L1401.8 1102.7L1403 1103.1L1404.2 1103.1L1405.5 1102.4L1406.8 1102.4L1408 1102.8L1409.2 1102.8L1410.5 1103.2L1411.8 1103.2L1413 1102.3L1414.2 1102.3L1415.5 1103L1416.8 1102.9L1418 1103.9L1419.2 1103.8L1420.5 1103.7L1421.8 1103.3L1423 1101.7L1424.2 1100.9L1425.5 1098.9L1426.8 1097.9L1428 1098.7L1429.2 1097.8L1430.5 1096L1431.8 1095.8L1433 1097.4L1434.2 1098L1435.5 1096.3L1436.8 1097.3L1438 1099.6L1439.2 1100.5L1440.5 1099.1L1441.8 1099.7L1443 1100.5L1444.2 1100.7L1445.5 1099.2L1446.8 1099.2L1448 1100.6L1449.2 1100.6L1450.5 1100.3L1451.8 1100.3L1453 1101.3L1454.2 1101.3L1455.5 1101.8L1456.8 1101.8L1458 1101.1L1459.2 1101.1L1460.5 1100.9L1461.8 1100.8L1463 1101.1L1464.2 1100.9L1465.5 1098.6L1466.8 1098.3L1468 1099.7L1469.2 1099.4L1469.6 1099.3L1470.1 1099.1L1470.5 1098.3L1471.1 1098L1471.6 1097.7L1472.1 1097.4L1472.6 1096.8L1473 1098.1L1473.6 1097L1474.1 1095.7L1474.6 1094L1475.1 1092L1475.5 1088.4L1476.1 1085.1L1476.6 1082.1L1477.1 1079.5L1477.6 1079L1478 1080.8L1478.6 1083.3L1479.1 1085.9L1479.6 1088.1L1480.1 1089.9L1480.5 1090.3L1481.1 1091.1L1481.6 1091.3L1482.1 1091.2L1482.6 1091.3L1483 1092.3L1483.6 1093.7L1484.1 1095.1L1484.6 1096.4L1485.1 1097.5L1485.5 1096.3L1486.8 1098L1488 1100L1489.2 1100.5L1490.5 1099.7L1491.8 1100L1493 1100.5L1494.2 1100.6L1495.5 1100.7L1496.8 1100.8L1498 1101.7L1499.2 1101.8L1500.5 1102.4L1501.8 1102.4L1503 1102.4L1504.2 1102.5L1505.5 1103.3L1506.8 1103.4L1508 1102.5L1509.2 1102.5L1510.5 1101.9L1511.8 1101.9L1513 1101.3L1514.2 1101.4L1515.5 1101.6L1516.8 1101.6L1518 1100.6L1519.2 1100.6L1520.5 1102.2L1521.8 1102.2L1523 1101.7L1524.2 1101.7L1525.5 1100.8L1526.8 1100.8L1528 1101.8L1529.2 1101.7L1530.5 1102.6L1531.8 1102.6L1533 1100.8L1534.2 1100.8L1535.5 1103L1536.8 1103L1538 1101.3L1539.2 1101.3L1540.5 1099.6L1541.8 1099.5L1543 1099.6L1544.2 1099.4L1545.5 1100.5L1546.8 1100.3L1548 1098.9L1549.2 1098.6L1550.3 1098.3L1550.8 1099.5L1551.3 1099.3L1551.8 1099.1L1552.3 1098.8L1552.8 1098.5L1553.3 1097.5L1553.8 1096.8L1554.2 1096.1L1554.8 1094.8L1555.3 1093.3L1555.8 1089.2L1556.3 1086.9L1556.8 1084.5L1557.3 1081.5L1557.8 1079.1L1558.3 1080.7L1558.8 1079.8L1559.2 1081.7L1559.8 1084.4L1560.3 1086.6L1560.8 1089.5L1561.3 1090.7L1561.8 1091.3L1562.3 1091.5L1562.8 1091.4L1563.3 1090.2L1563.8 1090.4L1564.2 1091.1L1564.8 1092.5L1565.3 1093.7L1565.8 1094.9L1566.3 1095.9L1566.8 1096.6L1568 1097.3L1569.2 1098L1570.5 1099.2L1571.8 1099.4L1573 1100.5L1574.2 1100.4L1575.5 1099.8L1576.8 1099.2L1578 1096.4L1579.2 1095.2L1580.5 1096.6L1581.8 1095.2L1583 1094.6L1584.2 1093.9L1585.5 1091.5L1586.8 1092.1L1588 1093.1L1589.2 1094.5L1590.5 1097.3L1591.8 1098.6L1593 1100.4L1594.2 1101.1L1595.5 1100.2L1596.8 1100.5L1598 1101.1L1599.2 1101.2L1600.5 1102L1601.8 1102.1L1603 1100.9L1604.2 1100.9L1605.5 1101.6L1606.8 1101.6L1608 1102.5L1609.2 1102.5L1610.5 1102L1611.8 1102L1613 1099.5L1614.2 1099.5L1615.5 1101.4L1616.8 1101.4L1618 1099.5L1619.2 1099.5L1620.5 1099.9L1621.8 1099.9L1623 1101.1L1624.2 1101.1L1625.5 1100.9L1626.8 1100.9L1628 1102.9L1629.2 1102.9L1630.5 1102.1L1631.8 1102.2L1633 1103L1634.2 1103L1635.5 1102L1636.8 1102L1638 1100.6L1639.2 1100.6L1640.5 1101.5L1641.8 1101.5L1643 1101.8L1644.2 1101.8L1645.5 1100.2L1646.8 1100.2L1648 1100.3L1649.2 1100.3L1650.5 1100.2L1651.8 1100.2L1653 1103.6L1654.2 1103.6L1655.5 1102.3L1656.8 1102.3L1658 1102.9L1659.2 1102.9L1660.5 1103.3L1661.8 1103.3L1663 1102.4L1664.2 1102.4L1665.5 1102.1L1666.8 1102.1L1668 1102L1669.2 1102L1670.5 1104.2L1671.8 1104.2L1673 1102.4L1674.2 1102.4L1675.5 1103L1676.8 1103L1678 1102.8L1679.2 1102.8L1680.5 1102.2L1681.8 1102.2L1683 1102.8L1684.2 1102.8L1685.5 1100.5L1686.8 1100.5L1688 1100.3L1689.2 1100.3L1690.5 1101.5L1691.8 1101.5L1693 1100.7L1694.2 1100.7L1695.5 1100.6L1696.8 1100.6L1698 1101.5L1699.2 1101.5L1700.5 1101L1701.8 1101L1703 1101.2L1704.2 1101.2L1705.5 1103.8L1706.8 1103.8L1708 1101.7L1709.2 1101.7L1710.5 1103.3L1711.8 1103.3L1713 1102L1714.2 1102L1715.5 1102.9L1716.8 1102.9L1718 1100.4L1719.2 1100.4L1720.5 1102L1721.8 1102L1723 1100.2L1724.2 1100.1L1725.5 1101.5L1726.8 1101.4L1728 1101.1L1729.2 1101L1730.5 1099.8L1731.8 1099.6L1733 1099.8L1734.2 1099.6L1735.5 1099.8L1736.8 1099.4L1738 1101.2L1738.5 1101L1739 1100.7L1739.5 1100.4L1740 1100.1L1740.5 1100.4L1741 1099.8L1741.5 1098.8L1742 1097.4L1742.5 1095.1L1743 1089.8L1743.5 1085.2L1744 1079.1L1744.5 1071.6L1745 1063.1L1745.5 1056.1L1746 1051L1746.5 1055.9L1747 1063.7L1747.5 1071.8L1748 1078.5L1748.5 1083.8L1749 1087.3L1749.5 1088.9L1750 1088.9L1750.5 1087.4L1751 1085.2L1751.5 1082.7L1752 1081.4L1752.5 1082.6L1753 1085.2L1753.5 1088.6L1754 1091.7L1755.4 1097.2L1755.9 1099L1756.4 1099.6L1756.8 1099.9L1757.4 1100.3L1757.9 1100.4L1758.4 1099.5L1758.9 1099.5L1759.2 1099.4L1759.9 1099.3L1760.4 1099.1L1760.9 1099L1761.4 1098.8L1761.8 1098.6L1762.4 1098.3L1762.9 1098.1L1763.4 1097.7L1763.9 1097.7L1764.2 1097.9L1764.9 1098.2L1765.4 1098.5L1765.9 1099.5L1766.4 1099.7L1766.8 1099.8L1767.4 1100L1767.9 1100.1L1768.4 1100.2L1768.9 1100.2L1769.2 1100.3L1769.9 1100.4L1770.4 1100.6L1770.9 1099.1L1771.4 1099.3L1771.8 1099.4L1773 1099.5L1774.2 1099.7L1775.5 1100.2L1776.8 1100.3L1778 1100.4L1779.2 1100.4L1780.5 1102.2L1781.8 1102.1L1782.5 1102L1783 1100.7L1783.5 1100.5L1784 1100.4L1784.5 1100.2L1785 1100L1785.5 1099.4L1786 1099.1L1786.5 1098.8L1787 1098.4L1787.5 1098L1788 1098.8L1788.5 1098.4L1789 1098L1789.5 1097.7L1790 1097L1790.5 1096.9L1791 1097.1L1791.5 1097.4L1792 1097.7L1792.5 1097.9L1793 1097.5L1793.5 1097.8L1794 1097.9L1794.5 1098.1L1795 1098.2L1795.5 1099.1L1796 1099.2L1796.5 1099.4L1797 1099.5L1797.5 1099.8L1798 1099.7L1799.2 1100.2L1800.5 1099.5L1801.8 1099.8L1803 1100.8L1804.2 1101L1805.5 1100.1L1806.8 1100.2L1808 1102.4L1809.2 1102.4L1810.5 1101.8L1811.8 1101.8L1813 1101.3L1814.2 1101.3L1815.5 1101.9L1816.8 1101.9L1818 1102.1L1819.2 1102.1L1820.5 1101.2L1821.8 1101.1L1823 1100.7L1824.2 1100.7L1825.5 1102L1826.8 1102L1828 1103.5L1829.2 1103.4L1830.5 1102.3L1831.8 1102.2L1833 1100.7L1834.2 1100.5L1835.5 1100.3L1836.8 1100.1L1838 1100.9L1839.2 1100.5L1839.7 1100.4L1840.2 1100.2L1840.7 1100.5L1841.2 1100.2L1841.7 1099.8L1842.2 1099.3L1842.7 1098.7L1843.2 1095.4L1843.7 1094.2L1844.2 1092.6L1844.7 1090.7L1845.2 1088.4L1845.7 1086.3L1846.2 1083.5L1846.7 1081.2L1847.2 1080.8L1847.7 1081.1L1848.2 1083L1848.7 1085.6L1849.2 1088L1849.7 1090L1850.2 1091.5L1850.7 1091.9L1851.2 1092.4L1851.7 1092.4L1852.2 1092.1L1852.7 1091.6L1853.2 1091.7L1853.7 1091.7L1854.2 1092.3L1854.7 1093.4L1855.2 1094.6L1856.8 1098.5L1858 1100.3L1859.2 1101L1860.5 1100.5L1861.8 1100.7L1863 1102.3L1864.2 1102.5L1865.5 1102.7L1866.8 1102.8L1868 1102.8L1869.2 1102.8L1870.5 1101.9L1871.8 1101.9L1873 1103.8L1874.2 1103.7L1875.5 1102L1876.8 1101.9L1878 1101.9L1879.2 1101.8L1880.5 1103.1L1881.8 1102.9L1882.3 1102.8L1882.8 1102.7L1883.3 1100.9L1883.8 1100.7L1884.2 1100.5L1884.8 1100.2L1885.3 1099.8L1885.8 1100.7L1886.3 1100.2L1886.8 1099.6L1887.3 1098.8L1887.8 1098.1L1888.3 1097.2L1888.8 1096.4L1889.2 1095.9L1889.8 1093.7L1890.3 1095.7L1890.8 1095.4L1891.3 1096L1891.8 1096.6L1892.3 1097.3L1892.8 1097.7L1893.3 1099.3L1893.8 1099.6L1894.2 1099.7L1894.8 1099.8L1895.3 1099.8L1895.8 1098L1896.3 1098.1L1896.8 1098.2L1897.3 1098.5L1897.8 1098.8L1899.2 1100.5L1900.5 1101.7L1901.8 1102L1903 1101.4L1904.2 1101.3L1905.5 1100.5L1906 1100.4L1906.5 1100.3L1907 1100.1L1907.5 1100L1908 1099L1908.5 1098.7L1909 1098.3L1909.5 1097.7L1910 1097L1910.5 1096.3L1911 1095.1L1911.5 1093.5L1912 1091.7L1912.5 1089.6L1913 1086.6L1913.5 1084.7L1914 1083.9L1914.5 1084.3L1915 1085.2L1915.5 1086.8L1916 1088.1L1916.5 1089.3L1917 1090.4L1917.5 1091.3L1918 1091.2L1918.5 1091.6L1919 1091.8L1919.5 1091.7L1920 1091.6L1920.5 1091.5L1921 1091.9L1921.5 1092.9L1922 1093.9L1923 1098.3L1924.2 1100L1925.5 1098.8L1926.8 1099.3L1928 1100.4L1929.2 1100.6L1930.3 1100.7L1930.8 1099.7L1931.3 1099.7L1931.8 1099.8L1932.3 1099.8L1932.8 1099.8L1933.3 1100.1L1933.8 1100L1934.2 1099.9L1934.8 1099.8L1935.3 1099.6L1935.8 1100.1L1936.3 1099.9L1936.8 1099.6L1937.3 1099.4L1937.8 1099.2L1938.3 1098.7L1938.8 1099L1939.2 1099.2L1939.8 1099.5L1940.3 1099.8L1940.8 1099.3L1941.3 1099.6L1941.8 1099.7L1942.3 1099.9L1942.8 1099.9L1943.3 1099.3L1943.8 1099.3L1944.2 1099.3L1944.8 1099.3L1945.3 1099.4L1945.8 1102.4L1946.3 1102.5L1946.8 1102.7L1948 1101.5L1949.2 1101.8L1950.5 1103.8L1951.8 1103.9L1953 1104.3L1954.2 1104.3L1955.5 1104L1956.8 1104.1L1958 1102.3L1959.2 1102.3L1960.5 1103.6L1961.8 1103.6L1963 1102.9L1964.2 1102.9L1965.5 1101.4L1966.8 1101.5L1968 1102.1L1969.2 1102.1L1970.5 1100.5L1971.8 1100.5L1973 1101L1974.2 1101L1975.5 1101.9L1976.8 1101.9L1978 1102.7L1979.2 1102.7L1980.5 1101.9L1981.8 1101.9L1983 1103.1L1984.2 1103.1L1985.5 1102.6L1986.8 1102.6L1988 1102.4L1989.2 1102.4L1990.5 1104L1991.8 1104L1993 1102.3L1994.2 1102.3L1995.5 1103.9L1996.8 1103.9L1998 1102.8L1999.2 1102.8L2000.5 1103.4L2001.8 1103.4L2003 1102.9L2004.2 1102.9L2005.5 1102.6L2006.8 1102.6L2008 1104.1L2009.2 1104.1L2010.5 1102.3L2011.8 1102.3L2013 1102.4L2014.2 1102.4L2015.5 1102.2L2016.8 1102.2L2018 1102.9L2019.2 1102.9L2020.5 1101L2021.8 1101L2023 1101L2024.2 1101L2025.5 1102.2L2026.8 1102.2L2028 1100.6L2029.2 1100.6L2030.5 1100.6L2031.8 1100.6L2033 1102.4L2034.2 1102.4L2035.5 1102.6L2036.8 1102.6L2038 1101.8L2039.2 1101.8L2040.5 1102.3L2041.8 1102.3L2043 1101.5L2044.2 1101.5L2045.5 1101.6L2046.8 1101.6L2048 1102.6L2049.2 1102.6L2050.5 1102.3L2051.8 1102.3L2053 1101.7L2054.2 1101.7L2055.5 1103.3L2056.8 1103.3L2058 1101.9L2059.2 1101.9L2060.5 1101.9L2061.8 1101.9L2063 1104L2064.2 1104L2065.5 1104L2066.8 1104L2068 1101.9L2069.2 1101.9L2070.5 1103.2L2071.8 1103.2L2073 1102.1L2074.2 1102.1L2075.5 1101.8L2076.8 1101.8L2078 1102.2L2079.2 1102.2L2080.5 1101.5L2081.8 1101.5L2083 1102L2084.2 1102L2085.5 1101.4L2086.8 1101.4L2088 1102.7L2089.2 1102.7L2090.5 1102.6L2091.8 1102.6L2093 1102.5L2094.2 1102.5L2095.5 1103.9L2096.8 1103.9L2098 1105.1L2099.2 1105.1L2100.5 1105.2L2101.8 1105.2L2103 1103.7L2104.2 1103.7L2105.5 1103.5L2106.8 1103.5L2108 1103L2109.2 1103L2110.5 1102.9L2111.8 1102.9L2113 1101.3L2114.2 1101.3L2115.5 1101.8L2116.8 1101.8L2118 1102.5L2119.2 1102.5L2120.5 1102.2L2121.8 1102.2L2123 1103.3L2124.2 1103.3L2125.5 1100.9L2126.8 1100.9L2128 1103.8L2129.2 1103.8L2130.5 1104.2L2131.8 1104.2L2133 1104.5L2134.2 1104.5L2135.5 1104L2136.8 1104L2138 1101.6L2139.2 1101.6L2140.5 1102L2141.8 1102L2143 1101.2L2144.2 1101.2L2145.5 1103.1L2146.8 1103.1L2148 1101.9L2149.2 1101.9L2150.5 1102.8L2151.8 1102.8L2153 1103.8L2154.2 1103.8L2155.5 1102.3L2156.8 1102.3L2158 1102.4L2159.2 1102.4L2160.5 1102.1L2161.8 1102.1L2163 1100.6L2164.2 1100.6L2165.5 1103.2L2166.8 1103.2L2168 1101.4L2169.2 1101.4L2170.5 1103.1L2171.8 1103.1L2173 1100.3L2174.2 1100.3L2175.5 1102.7L2176.8 1102.7L2178 1102.2L2179.2 1102.2L2180.5 1101.2L2181.8 1101.2L2183 1101.8L2184.2 1101.8L2185.5 1101.3L2186.8 1101.3L2188 1101.7L2189.2 1101.7L2190.5 1101L2191.8 1101L2193 1101.9L2194.2 1101.9L2195.5 1103.2L2196.8 1103.2L2198 1102.1"/>
<rect x="434.0" y="888.0" width="2.6" height="11.5" fill="#000"/>
<rect x="705.9" y="914.6" width="5.5" height="15.9" fill="#000"/>
<path class="c" stroke="#000000" stroke-width="5.2" d="M218 1232.5L219.2 1232.6L220.5 1231.4L221.8 1231.5L223 1232.3L224.2 1232.3L225.5 1231.4L226.8 1231.4L228 1231.9L229.2 1231.9L230.5 1233.3L231.8 1233.2L233 1233L234.2 1232.9L235.5 1232.4L236.8 1232L238 1231.1L239.2 1230.5L240.5 1229.9L241.8 1229.1L243 1227.7L244.2 1227.1L245.5 1226.2L246.8 1225.9L248 1225.8L249.2 1226.1L250.5 1227.8L251.8 1228.5L253 1228.8L254.2 1229.7L255.5 1230.1L256.8 1230.9L258 1232.8L259.2 1233.3L260.5 1232.1L261.8 1232.4L263 1233.5L264.2 1233.7L265.5 1234L266.8 1234.1L268 1233.9L269.2 1234L270.5 1234.2L271.8 1234.2L273 1232.8L274.2 1232.9L275.5 1233.9L276.8 1234L278 1234.5L279.2 1234.6L280.5 1233.7L281.8 1233.7L283 1234.9L284.2 1234.7L285.5 1233.4L286.8 1233L288 1233.6L289.2 1233L290.5 1232.1L291.8 1231.3L293 1230.3L294.2 1229.8L295.5 1229.2L296.8 1229L298 1230.8L299.2 1231.5L300.5 1231.9L301.8 1232.6L303 1232.9L304.2 1233.5L305.5 1233.9L306.8 1234.1L308 1234.5L309.2 1234.5L310.5 1233.1L311.8 1232.9L313 1232.1L314.2 1231.6L314.8 1231.4L315.3 1231.1L315.8 1231.8L316.3 1231.4L316.8 1231L317.3 1230.4L317.8 1229.7L318.3 1228.3L318.8 1226.8L319.2 1224.4L319.8 1219.2L320.3 1210.7L320.8 1196.3L321.3 1175.9L321.8 1151.8L322.3 1118.2L322.8 1099.6L323.3 1104.3L323.8 1121.2L324.2 1135.3L324.8 1154.9L325.3 1176.5L325.8 1195.3L326.3 1208.5L326.8 1216.7L327.3 1223L327.8 1226.3L328.3 1228L328.8 1229.2L329.2 1230L329.8 1230.6L330.3 1231.1L330.8 1231.6L331.8 1232.2L333 1232.6L334.2 1233L335.5 1233.8L336.8 1234.1L338 1235.4L339.2 1235.6L340.5 1234.7L341.8 1234.8L343 1235.6L344.2 1235.7L345.5 1235.3L346.8 1235.4L348 1235.1L349.2 1235.2L350.5 1235.7L351.8 1235.8L353 1236.6L354.2 1236.6L355.5 1236.5L356.8 1236.6L358 1235.9L359.2 1235.9L360.5 1235.6L361.8 1235.6L363 1236.5L364.2 1236.5L365.5 1236.6L366.8 1236.7L368 1235.7L369.2 1235.7L370.5 1236.8L371.8 1236.8L373 1237L374.2 1237L375.5 1235.4L376.8 1235.4L378 1235.2L379.2 1235.2L380.5 1235.7L381.8 1235.7L383 1235.4L384.2 1235L385.5 1234.5L386.8 1233.8L388 1233.8L389.2 1232.6L390.5 1230.9L391.8 1229.5L393 1227.8L394.2 1227L395.5 1227.3L396.8 1228.2L398 1228.7L399.2 1229.9L400.5 1231.4L401.8 1232.8L403 1233.3L404.2 1234.2L405.5 1234.8L406.8 1235.1L408 1235.9L409.2 1235.7L410.5 1234.9L411.8 1234.3L413 1233.2L414.2 1232.4L415.5 1231.9L416.8 1231L418 1229.5L419.2 1228.6L420.5 1229.5L421.8 1228.8L423 1226.7L424.2 1226.3L425.5 1227.3L426.8 1228.6L427.2 1229.2L427.7 1229.7L428 1230.9L428.7 1231.3L429.2 1231.4L429.7 1231.2L430.2 1230.7L430.5 1230.5L431.2 1228.1L431.7 1224.4L432.2 1217.7L432.7 1206.1L433 1194.8L433.7 1160.5L434.2 1126.6L434.7 1089.3L435.2 1066L435.5 1067.2L436.2 1095.6L436.7 1114.4L437.2 1131L437.7 1152.9L438 1168.7L438.7 1196.8L439.2 1210.5L439.7 1219.8L440.2 1225.7L440.5 1226.6L441.2 1230L441.7 1231.4L442.2 1232.3L442.7 1233L443 1233.5L444.2 1234.6L445.5 1235.5L446.8 1236L448 1236.4L449.2 1236.7L450.5 1237.9L451.8 1238.1L453 1237.4L454.2 1237.5L455.5 1238.1L456.8 1238.2L458 1238.1L459.2 1238.1L460.5 1238.6L461.8 1238.7L463 1238.8L464.2 1238.8L465.5 1237.7L466.8 1237.6L468 1237.9L469.2 1237.7L470.5 1237.8L471.8 1237.3L473 1236.6L474.2 1235.5L475.5 1234.6L476.8 1232.5L478 1229L479.2 1225.6L480.5 1221.2L481.8 1216.4L483 1210.4L484.2 1204.6L485.5 1198.9L486.8 1193.3L488 1189.7L489.2 1185.6L490.5 1181.8L491.8 1180.5L493 1183.7L494.2 1193L495.5 1205.8L496.8 1219L498 1227.8L499.2 1233.8L500.5 1236.6L501.8 1237.9L503 1240.4L504.2 1240.6L505.5 1240L506.8 1240.1L508 1240.8L509.2 1240.9L510.5 1239.1L511.8 1239.1L513 1238.6L514.2 1238.6L515.5 1239.6L516.8 1239.6L518 1238.8L519.2 1238.8L520.5 1239.4L521.8 1239.4L523 1240.2L524.2 1240.2L525.5 1240L526.8 1240.1L528 1241L529.2 1241L530.5 1240.4L531.8 1240.4L533 1241.6L534.2 1241.6L535.5 1240L536.8 1240.1L538 1240.9L539.2 1241L540.5 1240.4L541.8 1240.4L543 1241.8L544.2 1241.9L545.5 1240L546.8 1240L548 1239.9L549.2 1239.9L550.5 1240.2L551.8 1240.2L553 1240.8L554.2 1240.8L555.5 1239.7L556.8 1239.6L558 1239L559.2 1238.9L560.5 1238.3L561.8 1238.1L563 1239.1L564.2 1238.8L565.5 1239L566.8 1238.5L568 1237.3L569.2 1236.8L570.5 1237.1L571.8 1236.7L573 1236.7L574.2 1236.5L575.5 1235.4L576.8 1235.4L578 1235.9L579.2 1236.1L580.5 1236.6L581.8 1236.8L583 1236.3L583.4 1236.3L583.9 1236.3L584.2 1236.3L584.9 1236.1L585.4 1235.9L585.9 1235.8L586.4 1235.4L586.8 1235.1L587.4 1234.2L587.9 1233.4L588.4 1232.3L588.9 1231.2L589.2 1230.4L589.9 1228.8L590.4 1227.5L590.9 1226.2L591.4 1226.1L591.8 1225.5L592.4 1225.9L592.9 1226.6L593.4 1227.5L593.9 1228.5L594.2 1229.2L594.9 1230.8L595.4 1232L595.9 1233.8L596.4 1234.9L596.8 1235.5L597.4 1236.5L597.9 1237.1L598.4 1237.9L598.9 1238.3L599.2 1238.6L600.5 1238.9L601.8 1239.3L603 1239.5L604.2 1239.8L605.5 1240L606.8 1240.1L608 1239.8L609.2 1239.9L610.5 1240L611.8 1240L613 1240.1L614.2 1240.1L615.5 1240.5L616.8 1240.5L618 1240.9L619.2 1240.9L620.5 1241.3L621.8 1241.2L623 1240.7L624.2 1240.4L625.5 1240.6L626.8 1240.1L628 1238.7L628.5 1238.3L629 1237.9L629.5 1237.4L630 1236.8L630.5 1236.4L631 1235.5L631.5 1234L632 1231.7L632.5 1227.7L633 1219.6L633.5 1207.4L634 1188.2L634.5 1161L635 1126L635.5 1088.1L636 1066L636.5 1077.7L637 1104.2L637.5 1125.8L638 1138.8L638.5 1148L639 1163.5L639.5 1183.4L640 1200.7L640.5 1214.7L641 1223.8L641.5 1229.8L642 1233.6L642.5 1235.8L643 1236.8L643.5 1237.7L644 1238.4L645.5 1238.4L646.8 1239.1L648 1239.3L649.2 1239.6L650.5 1241.6L651.8 1241.9L653 1240.4L654.2 1240.6L655.5 1239.8L656.8 1239.9L658 1240.1L659.2 1240.2L660.5 1240.5L661.8 1240.5L663 1241.8L664.2 1241.7L665.5 1239.9L666.8 1239.6L668 1240.5L669.2 1240.1L670.5 1239.8L671.8 1239.2L673 1238.8L674.2 1238L675.5 1237.5L676.8 1236.6L678 1235.3L679.2 1234.6L680.5 1234.3L681.8 1233.9L682.8 1233.7L683.3 1233.3L683.8 1233.2L684.2 1233.2L684.8 1233L685.3 1232.9L685.8 1231.3L686.3 1231L686.8 1230.7L687.3 1230.1L687.8 1229.5L688.3 1229.1L688.8 1228.3L689.2 1227.5L689.8 1226.5L690.3 1225.8L690.8 1226.6L691.3 1225.3L691.8 1225.7L692.3 1226.6L692.8 1227.4L693.3 1229.6L693.8 1230.6L694.2 1231.6L694.8 1232.7L695.3 1233.7L695.8 1235.8L696.3 1236.5L696.8 1237.1L697.3 1237.6L697.8 1237.9L698.3 1238.5L698.8 1238.6L699.2 1238.7L700.5 1238.2L701 1238L701.5 1237.7L702 1237.3L702.5 1236.9L703 1235.9L703.5 1235.1L704 1233.9L704.5 1232.1L705 1229.2L705.5 1223.8L706 1214.8L706.5 1200.2L707 1178.2L707.5 1148L708 1109.9L708.5 1070.1L709 1047.6L709.5 1059.9L710 1088.3L710.5 1112.9L711 1128L711.5 1136.7L712 1148.9L712.5 1168.6L713 1187L713.5 1202.9L714 1214.8L714.5 1223.2L715 1228.6L715.5 1232.3L716 1234.4L716.5 1235.7L717 1236.6L718 1239.2L719.2 1240.2L720.5 1241L721.8 1241.5L723 1241.3L724.2 1241.6L725.5 1242.6L726.8 1242.8L728 1241.5L729.2 1241.7L730.5 1241.6L731.8 1241.7L733 1241.7L734.2 1241.8L735.5 1241.5L736.8 1241.6L738 1242.5L739.2 1242.5L740.5 1241.8L741.8 1241.9L743 1242L744.2 1242L745.5 1242.1L746.8 1242.1L748 1243.1L749.2 1243.2L750.5 1244.2L751.8 1244.2L753 1243L754.2 1243L755.5 1243.8L756.8 1243.8L758 1243.4L759.2 1243.4L760.5 1242.8L761.8 1242.8L763 1243.5L764.2 1243.5L765.5 1244.1L766.8 1244.1L768 1242.1L769.2 1242.1L770.5 1242.7L771.8 1242.6L773 1243.2L774.2 1243.2L775.5 1244L776.8 1243.9L778 1243.6L779.2 1243.5L780.5 1243.2L781.8 1243L783 1242.6L784.2 1242.3L785.5 1241L786.8 1240.7L788 1242.2L788.5 1242L789 1241.8L789.5 1241.5L790 1241.2L790.5 1240.5L791 1239.9L791.5 1239.1L792 1237.9L792.5 1236.2L793 1233.7L793.5 1230.7L794 1227.1L794.5 1222.7L795 1217.9L795.5 1213L796 1210.7L796.5 1211.2L797 1213.9L797.5 1216.8L798 1220.1L798.5 1222L799 1224.1L799.5 1226.8L800 1229.8L800.5 1232.8L801 1235.2L801.5 1237.1L802 1238.6L802.5 1239.7L803 1239.9L803.5 1240.5L804 1241L805.5 1241.2L806.8 1241.7L808 1243.5L809.2 1243.8L810.5 1243.5L811.8 1243.7L813 1243.4L814.2 1243.5L815.5 1243.2L816.8 1243.3L818 1244.2L819.2 1244.3L820.5 1243.8L821.8 1243.9L823 1244.9L824.2 1244.9L825.5 1244.5L826.8 1244.5L828 1244L829.2 1244L830.5 1243.2L831.8 1243.2L833 1243.6L834.2 1243.6L835.5 1243.9L836.8 1243.9L838 1242.7L839.2 1242.7L840.5 1244.4L841.8 1244.3L843 1244.2L844.2 1244.1L845.5 1243.4L846.8 1243.2L848 1244L849.2 1243.8L850.5 1242.5L851.8 1242.3L853 1242.4L853.8 1242.2L854.2 1242L854.8 1241.8L855.3 1241.6L855.8 1241.1L856.3 1240.8L856.8 1240.4L857.3 1239.9L857.8 1239.2L858.3 1237.8L858.8 1236.7L859.2 1235.6L859.8 1234L860.3 1232.3L860.8 1230.8L861.3 1229.2L861.8 1228.7L862.3 1228.2L862.8 1228.8L863.3 1229.5L863.8 1230.1L864.2 1230.5L864.8 1231L865.3 1231.4L865.8 1231L866.3 1231.2L866.8 1230.9L867.3 1229.5L867.8 1226.7L868.3 1223L868.8 1216L869.2 1207.6L869.8 1194.7L870.5 1177.2L871 1170.9L871.5 1174.6L872 1184.1L872.5 1193.1L873 1199.1L873.5 1202.6L874 1204.9L874.5 1208.8L875 1215L875.5 1222.2L876 1227.6L876.5 1232L877 1235.2L877.5 1237.5L878 1238.7L878.5 1239.7L879 1240.5L880.5 1241.6L881.8 1242.2L883 1243L884.2 1243.4L885.5 1243.7L886.8 1243.9L888 1243.1L889.2 1243.2L890.5 1243.7L891.8 1243.7L893 1245L894.2 1244.8L895.5 1243.3L896.8 1242.7L898 1241.8L899.2 1240.7L900.5 1239.9L901.8 1238.4L903 1235.7L904.2 1234.2L905.5 1234.5L906.8 1233.5L908 1232L909.2 1232L910.5 1233.1L911.8 1234.2L913 1235.8L914.2 1237.4L915.5 1238.3L916.8 1239.9L918 1241.7L919.2 1242.8L920.5 1243.3L921.8 1244L923 1244.4L924.2 1244.7L925.5 1244.9L926.8 1245L928 1244.7L929.2 1244.7L930.5 1244.5L931.8 1244.5L933 1244.5L934.2 1244.5L935.5 1244.7L936.8 1244.8L938 1246L939.2 1246L940.5 1245.3L941.8 1245.3L943 1244.8L944.2 1244.9L945.5 1244.9L946.8 1244.9L948 1245.9L949.2 1245.9L950.5 1245.2L951.8 1245.2L953 1245.3L954.2 1245.3L955.5 1245L956.8 1245L958 1244.2L959.2 1244.3L960.5 1245L961.8 1245L963 1245.9L964.2 1245.9L965.5 1245.1L966.8 1245.1L968 1245.2L969.2 1245.2L970.5 1245.5L971.8 1245.4L973 1246.2L974.2 1246.1L975.5 1246.3L976.8 1246.1L978 1244.6L979.2 1244.3L980.5 1244.9L981.8 1244.3L983 1242.7L984.2 1241.8L985.5 1241.1L986.8 1240.1L988 1239.7L989.2 1238.8L990.5 1238.9L991.8 1238.4L993 1237.4L994.2 1237.5L995.5 1237L996.8 1237.6L998 1238.1L999.2 1239.1L1000.5 1239.9L1001.8 1240.9L1003 1242.6L1004.2 1243.4L1005.5 1244.3L1006.8 1244.9L1008 1245.5L1009.2 1245.9L1010.5 1246.1L1011.8 1246.2L1013 1245.1L1014.2 1245.2L1015.5 1246L1016.8 1246L1018 1245.5L1019.2 1245.5L1020.5 1245.8L1021.8 1245.7L1023 1246.5L1024.2 1246.2L1025.5 1244.5L1026.8 1244L1028 1244.3L1029.2 1243.4L1030.5 1242.3L1031.8 1241L1033 1239.4L1034.2 1237.7L1035.5 1236.9L1036.8 1235.2L1038 1233.1L1039.2 1231.9L1040.5 1231.2L1041.8 1230.8L1043 1230.6L1044.2 1231.1L1045.5 1233L1046.8 1234.2L1048 1234.7L1049.2 1236.2L1050.5 1239.3L1051.8 1240.6L1053 1241L1054.2 1241.9L1055.5 1242.7L1056.8 1243L1058 1242.4L1059.2 1242.3L1059.7 1242.1L1060.2 1241.9L1060.7 1241.7L1061.2 1241.4L1061.7 1241L1062.2 1240.5L1062.7 1239.6L1063.2 1238.5L1063.7 1236.9L1064.2 1234.8L1064.7 1232L1065.2 1228.5L1065.7 1223.4L1066.2 1218.9L1066.7 1214.8L1067.2 1213.1L1067.7 1213.4L1068.2 1216.5L1068.7 1219.3L1069.2 1221.5L1069.7 1222.9L1070.2 1223.4L1070.7 1222.4L1071.2 1222.7L1071.7 1223.5L1072.2 1224.3L1072.7 1224.7L1073.2 1223.8L1073.7 1222.9L1074.2 1221.6L1074.7 1219.8L1075.2 1218L1076 1218.1L1076.5 1217L1077 1217.7L1077.5 1218.7L1078 1219.2L1078.5 1220.3L1079 1221.4L1079.5 1222.6L1080 1224.1L1080.5 1227.9L1081 1229.9L1081.5 1232L1082 1233.8L1082.5 1235.5L1083 1235.8L1083.5 1237L1084 1238.1L1085.5 1241.2L1086.8 1242.2L1088 1243.4L1089.2 1243.9L1090.5 1243.6L1091.8 1243.9L1093 1243.7L1094.2 1244L1095.5 1243.9L1096.8 1244.1L1098 1245.6L1099.2 1245.8L1100.5 1245.8L1101.8 1245.9L1103 1245.1L1104.2 1245.2L1105.5 1245.4L1106.8 1245.5L1108 1245.1L1109.2 1245.1L1110.5 1246.5L1111.8 1246.5L1113 1246.7L1114.2 1246.6L1115.5 1245.7L1116.8 1245.6L1118 1244.7L1119.2 1244.4L1120.5 1244.7L1121.8 1244.3L1122.2 1244.2L1122.7 1244L1123.2 1244.6L1123.7 1244.3L1124.2 1244L1124.7 1243.5L1125.2 1242.9L1125.7 1240.5L1126.2 1239.2L1126.7 1237.4L1127.2 1234.8L1127.7 1231.3L1128.2 1227.5L1128.7 1222.2L1129.2 1216.3L1129.7 1210.9L1130.2 1208L1130.7 1210.7L1131.2 1214.9L1131.7 1219.4L1132.2 1223L1132.7 1225.4L1133.2 1225.9L1133.7 1226.5L1134.2 1227.4L1134.7 1229.4L1135.2 1232.2L1135.7 1235.6L1136.2 1238L1136.7 1239.9L1137.2 1241.5L1137.7 1242.7L1138.2 1243.5L1139.2 1244.6L1140.5 1245.4L1141.8 1245.8L1143 1244.8L1144.2 1245L1145.5 1245.1L1146.8 1245.3L1148 1244.7L1149.2 1244.8L1150.5 1246.4L1151.8 1246.4L1153 1246.7L1154.2 1246.7L1155.5 1245.3L1156.8 1245.3L1158 1246L1159.2 1246L1160.5 1245.5L1161.8 1245.5L1163 1246.4L1164.2 1246.4L1165.5 1246.1L1166.8 1246.1L1168 1246.2L1169.2 1246.1L1170.5 1247.4L1171.8 1247.4L1173 1246.7L1174.2 1246.7L1175.5 1246.4L1176.8 1246.4L1178 1246.5L1179.2 1246.4L1180.5 1246.4L1181.8 1246.3L1183 1244.9L1184.2 1244.8L1185.5 1245.7L1186.8 1245.5L1188 1243.8L1189.2 1243.5L1190.5 1244.1L1191.8 1243.7L1192.5 1243.3L1193 1243.4L1193.5 1243.1L1194 1242.7L1194.5 1242.2L1195 1241.7L1195.5 1242L1196 1240.8L1196.5 1239L1197 1235.9L1197.5 1230.9L1198 1222.3L1198.5 1211.2L1199 1196.6L1199.5 1178.9L1200 1161.2L1200.5 1152.3L1201 1159.3L1201.5 1175.4L1202 1190.6L1202.5 1201.6L1203 1209.7L1203.5 1211.2L1204 1209.3L1204.5 1206.9L1205 1208.7L1205.5 1215.1L1206 1222.7L1206.5 1229.3L1207 1234.6L1207.5 1238.4L1208 1239.7L1208.5 1241.3L1209.2 1242.8L1210.5 1243.7L1211.8 1244.3L1213 1245.2L1214.2 1245.5L1215.5 1246.6L1216.8 1246.8L1218 1245L1219.2 1245.1L1220.5 1245.2L1221.8 1245.3L1223 1246.1L1224.2 1246.2L1225.5 1246.8L1226.8 1246.9L1228 1245.5L1229.2 1245.6L1230.5 1245.8L1231.8 1245.8L1233 1247.3L1234.2 1247.3L1235.5 1246.5L1236.8 1246.5L1238 1247.1L1239.2 1247.1L1240.5 1246.4L1241.8 1246.4L1243 1246.5L1244.2 1246.5L1245.5 1246.7L1246.8 1246.7L1248 1246L1249.2 1246L1250.5 1246.8L1251.8 1246.8L1253 1247.6L1254.2 1247.6L1255.5 1246.3L1256.8 1246.3L1258 1246.5L1259.2 1246.5L1260.5 1246.7L1261.8 1246.7L1263 1247.5L1264.2 1247.5L1265.5 1248.3L1266.8 1248.3L1268 1247.9L1269.2 1247.9L1270.5 1247.5L1271.8 1247.5L1273 1246.9L1274.2 1246.9L1275.5 1247.6L1276.8 1247.6L1278 1246.1L1279.2 1246.1L1280.5 1246.3L1281.8 1246.3L1283 1247.5L1284.2 1247.4L1285.5 1246.2L1286.8 1246.2L1288 1246.2L1289.2 1246.2L1290.5 1246.4L1291.8 1246.3L1293 1245.8L1294.2 1245.7L1295.5 1245L1296.8 1245L1298 1246.1L1299.2 1246L1300.5 1246L1301.8 1245.9L1303 1245.6L1304.2 1245.5L1305.5 1245.2L1306.3 1245L1306.8 1244.9L1307.3 1244.7L1307.8 1244.5L1308.3 1244L1308.8 1243.7L1309.2 1243.4L1309.8 1242.9L1310.3 1242.4L1310.8 1242.6L1311.3 1242L1311.8 1241.5L1312.3 1240.7L1312.8 1240.1L1313.3 1239.9L1313.8 1239.1L1314.2 1239.6L1314.8 1239.9L1315.3 1240.2L1315.8 1240.6L1316.3 1241L1316.8 1241.3L1317.3 1241.7L1317.8 1242L1318.3 1240.6L1318.8 1241L1319.2 1241.4L1319.8 1241.9L1320.3 1242.3L1320.8 1243.5L1321.3 1243.8L1321.8 1244.1L1323 1244.5L1324.2 1245L1325.5 1245.8L1326.8 1246L1328 1245.7L1329.2 1245.8L1330.5 1246.9L1331.8 1247L1333 1247.5L1334.2 1247.6L1335.5 1246.9L1336.8 1246.9L1338 1247.8L1339.2 1247.8L1340.5 1247.8L1341.8 1247.8L1343 1246.8L1344.2 1246.8L1345.5 1246.4L1346.8 1246.4L1348 1246.4L1349.2 1246.4L1350.5 1247L1351.8 1247L1353 1247L1354.2 1247L1355.5 1246.8L1356.8 1246.7L1358 1245.9L1359.2 1245.8L1360.5 1245.2L1361.8 1245L1363 1245.5L1364.2 1245.2L1365.5 1244.7L1366.4 1244.4L1366.8 1244.2L1367.4 1244L1367.9 1243.7L1368.4 1243.7L1368.9 1243.3L1369.2 1242.9L1369.9 1241.9L1370.4 1240.8L1370.9 1239.7L1371.4 1237.7L1371.8 1235.9L1372.4 1231.8L1372.9 1228.1L1373.4 1223.7L1373.9 1220.1L1374.4 1218.3L1374.9 1219.6L1375.4 1222.6L1375.9 1225.3L1376.4 1228.1L1376.8 1229.7L1377.4 1231.6L1377.9 1232.2L1378.4 1233.1L1378.9 1233.2L1379.2 1233.5L1379.9 1235.3L1380.4 1237.1L1380.9 1237.3L1381.4 1238.9L1381.8 1239.8L1382.4 1241.2L1383 1244.1L1384.2 1245.3L1385.5 1245.2L1386.8 1245.6L1388 1245.3L1389.2 1245.5L1390.5 1245.6L1391.8 1245.7L1393 1245.2L1394.2 1245.2L1395.5 1246.3L1396.8 1246.3L1398 1245.3L1399.2 1245.3L1400.5 1245.3L1401.8 1245.3L1403 1245.2L1404.2 1245.2L1405.5 1245.3L1406.8 1245.2L1408 1246.8L1409.2 1246.8L1410.5 1246.3L1411.8 1246.2L1413 1246.4L1414.2 1246.3L1415.5 1245.5L1416.8 1245.4L1418 1244.8L1419.2 1244.6L1420.5 1245.3L1421.8 1245.1L1423 1244.1L1423.6 1243.9L1424.1 1243.7L1424.6 1243.5L1425.1 1243.2L1425.5 1243.5L1426.1 1243L1426.6 1242.5L1427.1 1241.9L1427.6 1241.2L1428 1240.7L1428.6 1239.6L1429.1 1238.6L1429.6 1237.4L1430.1 1236.3L1430.5 1235.3L1431.1 1234.2L1431.6 1233.9L1432.1 1233.8L1432.6 1234.3L1433 1234.4L1433.6 1235.3L1434.1 1236L1434.6 1236.6L1435.1 1237.1L1435.5 1237.3L1436.1 1237.8L1436.6 1238.3L1437.1 1238.9L1437.6 1239.6L1438 1240.4L1438.6 1241.2L1439.1 1241.8L1439.6 1242.4L1440.5 1243.1L1441.8 1243.9L1443 1244.4L1444.2 1244.7L1445.5 1245.6L1446.8 1245.8L1448 1245.2L1449.2 1245.3L1450.5 1246.3L1451.8 1246.3L1453 1247.1L1454.2 1247.1L1455.5 1247L1456.8 1247L1458 1246.4L1459.2 1246.4L1460.5 1246.5L1461.8 1246.5L1463 1246.8L1464.2 1246.7L1465.5 1244.7L1466.8 1244.5L1468 1244.8L1469.2 1244.5L1470.3 1244.1L1470.8 1245.3L1471.3 1245L1471.8 1244.8L1472.3 1244.4L1472.8 1244L1473.3 1241.7L1473.8 1240.8L1474.2 1239.6L1474.8 1237.5L1475.3 1234.7L1475.8 1230.3L1476.3 1225.5L1476.8 1220.3L1477.3 1213.3L1477.8 1207.4L1478.3 1206.1L1478.8 1207.8L1479.2 1212.6L1479.8 1219L1480.3 1223.8L1480.8 1227L1481.3 1229.1L1481.8 1229.7L1482.3 1229.4L1482.8 1228.4L1483.3 1227.7L1483.8 1228.8L1484.2 1230.9L1484.8 1233.9L1485.3 1236.4L1485.8 1238.5L1486.3 1240.2L1486.8 1241.4L1488 1243.9L1489.2 1244.7L1490.5 1246.4L1491.8 1246.7L1493 1246.4L1494.2 1246.6L1495.5 1245.5L1496.8 1245.6L1498 1246.4L1499.2 1246.5L1500.5 1246.8L1501.8 1246.9L1503 1246.5L1504.2 1246.5L1505.5 1247.1L1506.8 1247.2L1508 1246.5L1509.2 1246.5L1510.5 1246.6L1511.8 1246.7L1513 1247.2L1514.2 1247.3L1515.5 1245.9L1516.8 1245.9L1518 1245.5L1519.2 1245.5L1520.5 1247.3L1521.8 1247.3L1523 1246.2L1524.2 1246.2L1525.5 1248L1526.8 1248L1528 1247.4L1529.2 1247.4L1530.5 1246.4L1531.8 1246.3L1533 1246.9L1534.2 1246.8L1535.5 1247.1L1536.8 1247L1538 1246.6L1539.2 1246.5L1540.5 1245.8L1541.8 1245.7L1543 1245.6L1544.2 1245.5L1545.5 1244.9L1546.8 1244.6L1548 1245.2L1549.2 1244.9L1550.3 1244.5L1550.8 1243.1L1551.3 1242.9L1551.8 1242.6L1552.3 1242.3L1552.8 1241.9L1553.3 1241.4L1553.8 1240.6L1554.2 1239.7L1554.8 1238L1555.3 1236L1555.8 1233.6L1556.3 1230.4L1556.8 1227L1557.3 1222.4L1557.8 1218.8L1558.3 1218.3L1558.8 1218.9L1559.2 1221.8L1559.8 1225.9L1560.3 1229L1560.8 1231.3L1561.3 1232.9L1561.8 1233.6L1562.3 1233.6L1562.8 1233.1L1563.3 1232.9L1563.8 1233L1564.2 1234L1564.8 1235.8L1565.3 1237.5L1565.8 1239L1566.3 1240.3L1566.8 1241.2L1568 1243.6L1569.2 1244.3L1570.5 1244L1571.8 1244.1L1573 1243.6L1574.2 1243.5L1575.5 1244.9L1576.8 1244.7L1578 1243.9L1578.5 1243.8L1579 1243.6L1579.5 1243.3L1580 1243L1580.5 1242.1L1581 1241.5L1581.5 1240.7L1582 1239.7L1582.5 1238.5L1583 1236.9L1583.5 1235.1L1584 1233L1584.5 1230.8L1585 1228.5L1585.5 1227L1586 1226L1586.5 1226.4L1587 1227.3L1587.5 1228.5L1588 1229.2L1588.5 1230.4L1589 1231.4L1589.5 1232.1L1590 1232.7L1590.5 1235L1591 1235.4L1591.5 1236L1592 1237L1592.5 1238.2L1593 1238.1L1593.5 1239.4L1594 1240.5L1595.5 1243.5L1596.8 1244.6L1598 1245.5L1599.2 1245.9L1600.5 1245.4L1601.8 1245.7L1603 1245.4L1604.2 1245.6L1605.5 1246.7L1606.8 1246.9L1608 1246.7L1609.2 1246.8L1610.5 1246.2L1611.8 1246.3L1613 1247.9L1614.2 1247.9L1615.5 1247.4L1616.8 1247.4L1618 1247.9L1619.2 1247.9L1620.5 1247.1L1621.8 1247.2L1623 1247.8L1624.2 1247.8L1625.5 1246.7L1626.8 1246.7L1628 1246.8L1629.2 1246.8L1630.5 1246L1631.8 1246L1633 1245.8L1634.2 1245.8L1635.5 1245.3L1636.8 1245.3L1638 1246.6L1639.2 1246.6L1640.5 1246.9L1641.8 1246.9L1643 1246.5L1644.2 1246.5L1645.5 1246.7L1646.8 1246.7L1648 1246.8L1649.2 1246.8L1650.5 1245.8L1651.8 1245.8L1653 1247L1654.2 1247L1655.5 1247.1L1656.8 1247.1L1658 1247.3L1659.2 1247.3L1660.5 1247.2L1661.8 1247.2L1663 1246.1L1664.2 1246.1L1665.5 1246.2L1666.8 1246.2L1668 1246.9L1669.2 1246.9L1670.5 1247.4L1671.8 1247.4L1673 1246.3L1674.2 1246.3L1675.5 1246.2L1676.8 1246.2L1678 1246.3L1679.2 1246.3L1680.5 1246.3L1681.8 1246.3L1683 1247.1L1684.2 1247.1L1685.5 1247.2L1686.8 1247.2L1688 1247.7L1689.2 1247.8L1690.5 1247.5L1691.8 1247.5L1693 1245.9L1694.2 1245.9L1695.5 1247.1L1696.8 1247.1L1698 1245.7L1699.2 1245.7L1700.5 1245.7L1701.8 1245.8L1703 1246L1704.2 1246L1705.5 1247.9L1706.8 1247.9L1708 1247.1L1709.2 1247.1L1710.5 1246.2L1711.8 1246.2L1713 1247.2L1714.2 1247.2L1715.5 1247L1716.8 1247L1718 1246.8L1719.2 1246.8L1720.5 1247.3L1721.8 1247.2L1723 1247.8L1724.2 1247.8L1725.5 1246.9L1726.8 1246.8L1728 1246.6L1729.2 1246.5L1730.5 1245.6L1731.8 1245.4L1733 1245.1L1734.2 1244.8L1735.5 1246L1736.8 1245.5L1738 1243.9L1739 1243.3L1739.5 1243L1740 1242.6L1740.5 1242.8L1741 1242.3L1741.5 1241.7L1742 1240.8L1742.5 1239.7L1743 1237.2L1743.5 1234.1L1744 1229.3L1744.5 1222L1745 1211.7L1745.5 1199.1L1746 1183L1746.5 1167L1747 1158.6L1747.5 1166.4L1748 1180.9L1748.5 1196.2L1749 1208.6L1749.5 1217.4L1750 1222.4L1750.5 1222.9L1751 1221L1751.5 1216.3L1752 1209.4L1752.5 1201.5L1753 1195.7L1753.5 1195.4L1754 1201.1L1754.5 1207.7L1755 1215.6L1755.5 1223.7L1756 1228.9L1756.5 1232.6L1757 1235L1757.5 1236.3L1758 1235.6L1758.5 1235.5L1759 1235L1759.5 1234.3L1760 1233.8L1760.5 1234.2L1761 1234.9L1761.5 1235.5L1762 1235.9L1762.5 1235.9L1763 1235.7L1763.5 1235.1L1764 1234.3L1764.5 1233.6L1765 1233.9L1765.5 1234L1766 1235L1766.5 1236.3L1767 1237.4L1767.5 1238.4L1768 1239.1L1768.5 1239.7L1769 1240L1769.5 1240.1L1770 1240.1L1770.5 1239.7L1771 1239.7L1771.5 1240L1772 1240.5L1772.5 1241.1L1773 1243L1774.2 1244.1L1775.5 1244.1L1776.8 1244.5L1778 1245.4L1779.2 1245.5L1780.5 1244.9L1781.8 1244.8L1783 1245.7L1783.8 1245.6L1784.2 1245.5L1784.8 1245.4L1785.3 1245.3L1785.8 1245.3L1786.3 1245.1L1786.8 1244.8L1787.3 1244.4L1787.8 1243.8L1788.3 1243.6L1788.8 1242.7L1789.2 1241.7L1789.8 1240.3L1790.3 1238.8L1790.8 1236L1791.3 1234.7L1791.8 1233.9L1792.3 1234.7L1792.8 1235.9L1793.3 1237.2L1793.8 1238.5L1794.2 1239.6L1794.8 1240.5L1795.3 1241.1L1795.8 1241.4L1796.3 1241.4L1796.8 1241.4L1797.3 1241.2L1797.8 1241.1L1798.3 1241.1L1798.8 1241.6L1799.2 1242.2L1799.8 1243L1800.5 1244.2L1801.8 1245.4L1803 1244.9L1804.2 1245.2L1805.5 1245.2L1806.8 1245.4L1808 1245.9L1809.2 1246L1810.5 1246.2L1811.8 1246.2L1813 1246L1814.2 1246L1815.5 1246.5L1816.8 1246.6L1818 1247L1819.2 1247L1820.5 1247.5L1821.8 1247.5L1823 1247L1824.2 1247L1825.5 1246.6L1826.8 1246.6L1828 1246.7L1829.2 1246.6L1830.5 1246.2L1831.8 1246.1L1833 1245.2L1834.2 1245.1L1835.5 1244.7L1836.8 1244.5L1838 1245.4L1839.2 1245L1840.2 1244.7L1840.7 1244.5L1841.2 1244.3L1841.7 1244L1842.2 1243.6L1842.7 1243.2L1843.2 1243.4L1843.7 1242.5L1844.2 1241.1L1844.7 1239.1L1845.2 1236.3L1845.7 1232.3L1846.2 1227.3L1846.7 1221.4L1847.2 1214.8L1847.7 1208.7L1848.2 1205.5L1848.7 1207.5L1849.2 1213.4L1849.7 1219.8L1850.2 1225.4L1850.7 1230.5L1851.2 1233.6L1851.7 1235.4L1852.2 1235.9L1852.7 1235.4L1853.2 1235.2L1853.7 1233.3L1854.2 1231.5L1854.7 1230.9L1855.2 1232.3L1855.7 1234.5L1856.2 1237.1L1856.8 1239.7L1858 1241.6L1859.2 1243.4L1860.5 1244.4L1861.8 1244.7L1863 1245.6L1864.2 1245.7L1865.5 1245.1L1866.8 1245.2L1868 1246.5L1869.2 1246.5L1870.5 1245.8L1871.8 1245.8L1873 1245.9L1874.2 1245.9L1875.5 1245.1L1876.8 1245L1878 1245.3L1879.2 1245.1L1880.5 1245.8L1881.8 1245.5L1882.8 1245.3L1883.3 1244.8L1883.8 1244.6L1884.2 1244.5L1884.8 1244.2L1885.3 1243.9L1885.8 1242.1L1886.3 1241.6L1886.8 1240.9L1887.3 1239.9L1887.8 1238.7L1888.3 1237.8L1888.8 1236.1L1889.2 1234.4L1889.8 1232.2L1890.3 1230.5L1890.8 1230.5L1891.3 1230.4L1891.8 1231.8L1892.3 1233.8L1892.8 1235.5L1893.3 1237.7L1893.8 1238.8L1894.2 1239.5L1894.8 1240L1895.3 1240.1L1895.8 1239.6L1896.3 1239.2L1896.8 1238.9L1897.3 1238.7L1897.8 1238.9L1898.3 1240.4L1898.8 1241.2L1899.2 1241.9L1900.5 1241.8L1901.8 1242.7L1903 1243.8L1904.2 1243.9L1905.5 1244.2L1906.8 1244.1L1907.8 1243.9L1908.3 1244L1908.8 1243.9L1909.2 1243.7L1909.8 1243.4L1910.3 1243.1L1910.8 1243.2L1911.3 1242.5L1911.8 1241.6L1912.3 1240L1912.8 1238L1913.3 1234.4L1913.8 1231.2L1914.2 1227.8L1914.8 1223.2L1915.3 1219.6L1915.8 1218.3L1916.3 1218.7L1916.8 1220.8L1917.3 1224.1L1917.8 1227.1L1918.3 1229.7L1918.8 1231.9L1919.2 1233.4L1919.8 1234.6L1920.3 1235.1L1920.8 1235.9L1921.3 1235.3L1921.8 1234.6L1922.3 1234.1L1922.8 1234.5L1923.3 1235.5L1923.8 1237.3L1924.2 1238.8L1925.5 1243.2L1926.8 1245L1928 1244.3L1929.2 1244.7L1930.5 1246.4L1931.8 1246.7L1933 1246.2L1934.2 1246.4L1935.5 1247.1L1936.8 1247.2L1938 1245.4L1939.2 1245.5L1940.5 1246.7L1941.8 1246.8L1943 1247.4L1944.2 1247.4L1945.5 1247.5L1946.8 1247.5L1948 1246.2L1949.2 1246.2L1950.5 1247.4L1951.8 1247.4L1953 1246.7L1954.2 1246.7L1955.5 1247.2L1956.8 1247.2L1958 1247L1959.2 1247L1960.5 1247.5L1961.8 1247.5L1963 1247.1L1964.2 1247.1L1965.5 1247.1L1966.8 1247.1L1968 1247.2L1969.2 1247.2L1970.5 1247.2L1971.8 1247.2L1973 1246.2L1974.2 1246.2L1975.5 1247.5L1976.8 1247.5L1978 1247.2L1979.2 1247.2L1980.5 1248.1L1981.8 1248.1L1983 1247.1L1984.2 1247.1L1985.5 1247L1986.8 1247L1988 1247.5L1989.2 1247.5L1990.5 1247.9L1991.8 1247.9L1993 1247.1L1994.2 1247.1L1995.5 1247L1996.8 1247L1998 1248.3L1999.2 1248.3L2000.5 1246.8L2001.8 1246.8L2003 1247.1L2004.2 1247.1L2005.5 1247.2L2006.8 1247.2L2008 1248.3L2009.2 1248.3L2010.5 1248.3L2011.8 1248.3L2013 1248.3L2014.2 1248.3L2015.5 1247.3L2016.8 1247.3L2018 1248.4L2019.2 1248.4L2020.5 1246.8L2021.8 1246.8L2023 1247.2L2024.2 1247.2L2025.5 1246.6L2026.8 1246.6L2028 1246.5L2029.2 1246.5L2030.5 1247L2031.8 1247L2033 1247.6L2034.2 1247.6L2035.5 1248L2036.8 1248L2038 1247.9L2039.2 1247.9L2040.5 1246.7L2041.8 1246.7L2043 1247.6L2044.2 1247.6L2045.5 1247.6L2046.8 1247.6L2048 1248.1L2049.2 1248.1L2050.5 1246.8L2051.8 1246.8L2053 1246.6L2054.2 1246.6L2055.5 1247.1L2056.8 1247.1L2058 1247.9L2059.2 1247.9L2060.5 1248.9L2061.8 1248.9L2063 1249L2064.2 1249L2065.5 1247.7L2066.8 1247.7L2068 1247.8L2069.2 1247.8L2070.5 1249L2071.8 1249L2073 1247.8L2074.2 1247.8L2075.5 1248.8L2076.8 1248.8L2078 1249L2079.2 1249L2080.5 1248.2L2081.8 1248.2L2083 1247.4L2084.2 1247.4L2085.5 1248.9L2086.8 1248.9L2088 1247.8L2089.2 1247.8L2090.5 1248.4L2091.8 1248.4L2093 1249L2094.2 1249L2095.5 1248.4L2096.8 1248.4L2098 1246.8L2099.2 1246.8L2100.5 1247.1L2101.8 1247.1L2103 1248.3L2104.2 1248.3L2105.5 1247.2L2106.8 1247.2L2108 1248.5L2109.2 1248.5L2110.5 1247L2111.8 1247L2113 1247.7L2114.2 1247.7L2115.5 1248.7L2116.8 1248.7L2118 1248.8L2119.2 1248.8L2120.5 1247.2L2121.8 1247.2L2123 1247.9L2124.2 1247.9L2125.5 1247.3L2126.8 1247.3L2128 1247.6L2129.2 1247.6L2130.5 1248.2L2131.8 1248.2L2133 1249.2L2134.2 1249.2L2135.5 1249.2L2136.8 1249.2L2138 1248.4L2139.2 1248.4L2140.5 1248.2L2141.8 1248.2L2143 1248L2144.2 1248L2145.5 1248L2146.8 1248L2148 1248.7L2149.2 1248.7L2150.5 1247.4L2151.8 1247.4L2153 1247.4L2154.2 1247.4L2155.5 1248.2L2156.8 1248.2L2158 1247.6L2159.2 1247.6L2160.5 1247L2161.8 1246.9L2163 1247.3L2164.2 1247.3L2165.5 1247.5L2166.8 1247.5L2168 1247.5L2169.2 1247.5L2170.5 1249.1L2171.8 1249L2173 1248.9L2174.2 1248.8L2175.5 1248.2L2176.8 1248.1L2178 1246.5L2179.2 1246.4L2180.4 1246.2L2180.9 1247.2L2181.4 1247.1L2181.8 1247L2182.4 1246.8L2182.9 1246.6L2183.4 1245.2L2183.9 1244.9L2184.2 1244.6L2184.9 1244L2185.4 1243.4L2185.9 1243.8L2186.4 1243L2186.8 1242.3L2187.4 1241.1L2187.9 1240.4L2188.4 1239.1L2188.9 1240.7L2189.2 1241.2L2189.9 1242.4L2190.4 1243.2L2190.9 1242.7L2191.4 1243.3L2191.8 1243.7L2192.4 1244.2L2192.9 1244.4L2193.4 1245.5L2193.9 1245.5L2194.2 1245.4L2194.9 1245.1L2195.4 1244.9L2195.9 1243.3L2196.4 1243.3L2196.8 1243.5L2198 1243.4"/>
<g fill="#000">
<rect x="305.5" y="314.8" width="31.0" height="31.0"/><rect x="419.5" y="148.5" width="31.0" height="31.0"/><rect x="619.5" y="281.0" width="31.0" height="31.0"/><rect x="694.9" y="176.5" width="31.0" height="31.0"/><rect x="787.9" y="382.5" width="33.0" height="31.0"/><rect x="854.0" y="374.5" width="31.0" height="31.0"/><rect x="1028.5" y="403.3" width="31.0" height="31.0"/><rect x="1065.1" y="387.5" width="31.0" height="31.0"/><rect x="1114.5" y="382.5" width="31.0" height="31.0"/><rect x="1182.5" y="359.5" width="31.0" height="31.0"/><rect x="1359.5" y="390.5" width="31.0" height="31.0"/><rect x="1412.0" y="400.5" width="33.5" height="31.0"/><rect x="1460.9" y="382.7" width="31.0" height="31.0"/><rect x="1537.1" y="398.5" width="33.0" height="31.0"/><rect x="1576.2" y="398.5" width="33.0" height="31.0"/><rect x="1732.4" y="361.9" width="31.0" height="31.0"/><rect x="1774.1" y="398.3" width="31.0" height="31.0"/><rect x="1831.5" y="380.2" width="31.0" height="31.0"/><rect x="1872.9" y="382.5" width="31.0" height="31.0"/><rect x="1914.8" y="398.5" width="33.8" height="31.0"/><rect x="1372.7" y="88.6" width="31.0" height="33.0"/>
<path d="M922.4 393.0L943.9 429.2L900.9 429.2Z"/><path d="M1388.0 223.5L1409.2 259.2L1366.8 259.2Z"/>
</g>
<g fill="#fff" stroke="#000">
<path d="M508.0 338.4L527.6 358.0L508.0 377.6L488.4 358.0Z" stroke-width="5.4" stroke-linejoin="round"/><path d="M1824.5 76.0L1844.1 95.6L1824.5 115.2L1804.9 95.6Z" stroke-width="5.4" stroke-linejoin="round"/><circle cx="985.4" cy="418.0" r="14.2" stroke-width="5.6"/><circle cx="1826.9" cy="243.5" r="14.2" stroke-width="5.6"/>
</g>
<text transform="translate(216.8 1604.5) scale(1.0300 1.0000)" font-size="90.0" text-anchor="middle">20</text>
<text transform="translate(521.5 1604.5) scale(1.0300 1.0000)" font-size="90.0" text-anchor="middle">30</text>
<text transform="translate(826.0 1604.5) scale(1.0300 1.0000)" font-size="90.0" text-anchor="middle">40</text>
<text transform="translate(1130.5 1604.5) scale(1.0300 1.0000)" font-size="90.0" text-anchor="middle">50</text>
<text transform="translate(1436.5 1604.5) scale(1.0300 1.0000)" font-size="90.0" text-anchor="middle">60</text>
<text transform="translate(1741.0 1604.5) scale(1.0300 1.0000)" font-size="90.0" text-anchor="middle">70</text>
<text transform="translate(2045.0 1604.5) scale(1.0300 1.0000)" font-size="90.0" text-anchor="middle">80</text>
<text transform="translate(1105.0 1749.5) scale(1.0300 1.0000)" font-size="90.0" text-anchor="start">2<tspan font-weight="normal" class="rg" stroke-width="1.6">θ</tspan> <tspan font-weight="normal" class="rg">(</tspan><tspan font-size="52" dy="-44.5" stroke-width="0.5">o</tspan><tspan dy="44.5" font-weight="normal" class="rg">)</tspan></text>
<text transform="translate(92.0 1067.0) rotate(-90) scale(1.0080 1.0000)" font-size="106.0" text-anchor="start">Intensity (a.u.)</text>
<text transform="translate(1475.0 129.8) scale(0.9800 1.0000)" font-size="79.5" text-anchor="start"><tspan font-weight="normal" class="rg">β</tspan>-Si<tspan font-size="45" dy="25.5" stroke-width="0.3">3</tspan><tspan dy="-25.5">N</tspan><tspan font-size="45" dy="25.5" stroke-width="0.3">4</tspan></text>
<text transform="translate(1909.0 119.6) scale(0.9800 1.0000)" font-size="79.5" text-anchor="start">Y<tspan font-size="45" dy="25.5" stroke-width="0.3">2</tspan><tspan dy="-25.5">Si</tspan><tspan font-size="45" dy="25.5" stroke-width="0.3">2</tspan><tspan dy="-25.5">O</tspan><tspan font-size="45" dy="25.5" stroke-width="0.3">7</tspan></text>
<text transform="translate(1472.0 269.6) scale(0.9800 1.0000)" font-size="79.5" text-anchor="start">Fe<tspan font-size="45" dy="25.5" stroke-width="0.3">3</tspan><tspan dy="-25.5">Si</tspan></text>
<text transform="translate(1912.0 269.6) scale(0.9800 1.0000)" font-size="79.5" text-anchor="start">Al<tspan font-size="45" dy="25.5" stroke-width="0.3">2</tspan><tspan dy="-25.5">O</tspan><tspan font-size="45" dy="25.5" stroke-width="0.3">3</tspan></text>
<text transform="translate(1980.0 431.3) scale(0.9750 1.0000)" font-size="70.3" text-anchor="start">FSN90</text>
<text transform="translate(1980.0 687.3) scale(0.9750 1.0000)" font-size="70.3" text-anchor="start">FSN80</text>
<text transform="translate(1979.3 901.2) scale(0.9750 1.0000)" font-size="70.3" text-anchor="start">FSN60</text>
<text transform="translate(1978.5 1078.5) scale(0.9750 1.0000)" font-size="70.3" text-anchor="start">FSN40</text>
<text transform="translate(1974.5 1226.0) scale(0.9750 1.0000)" font-size="70.3" text-anchor="start">FSN20</text>
<text transform="translate(1956.3 1375.7) scale(1.0350 1.0000)" font-size="68.2" text-anchor="start"><tspan font-weight="normal" class="rg">α</tspan>-Si<tspan font-size="38.5" dy="23.2" stroke-width="0.3">3</tspan><tspan dy="-23.2">N</tspan><tspan font-size="38.5" dy="23.2" stroke-width="0.3">4</tspan></text>
</svg>
</body></html>
